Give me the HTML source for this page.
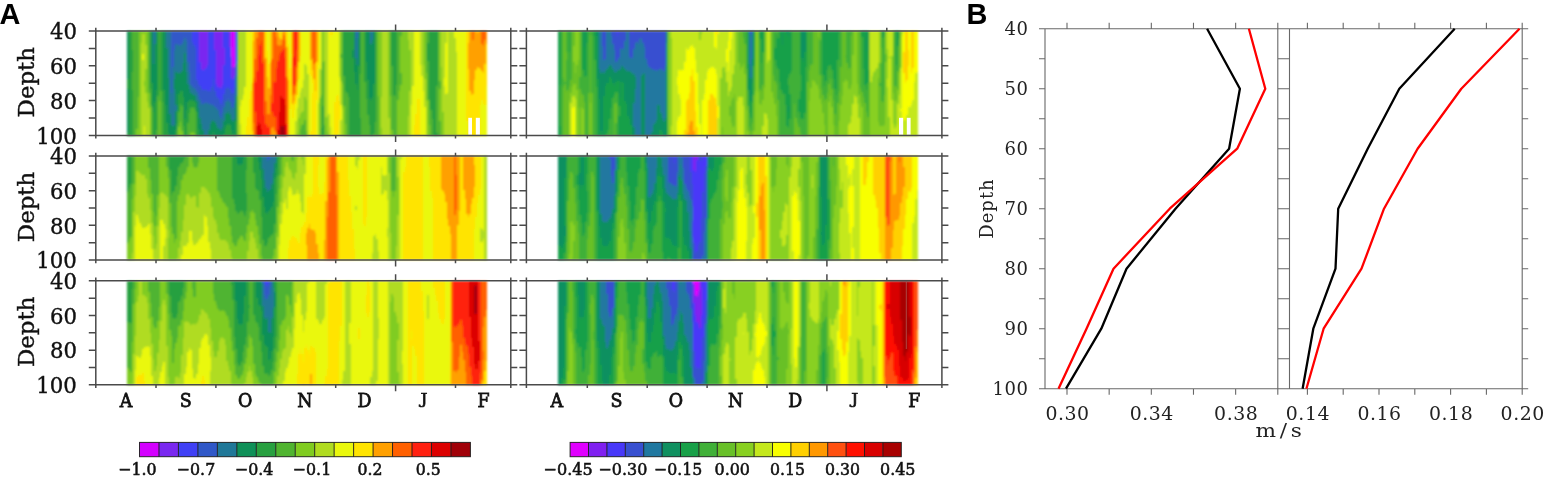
<!DOCTYPE html>
<html lang="en"><head><meta charset="utf-8"><title>Figure</title>
<style>html,body{margin:0;padding:0;background:#fff}svg{display:block}</style></head>
<body>
<svg width="1547" height="481" viewBox="0 0 1547 481">
<defs><filter id="bl" x="-2%" y="-5%" width="104%" height="110%"><feGaussianBlur stdDeviation="1.1"/></filter></defs>
<rect width="1547" height="481" fill="#fff"/>
<g filter="url(#bl)" shape-rendering="crispEdges">
<path fill="#d400ff" d="M230.5 31.05h1.8v26.39h-1.8zM232 31.05h1.8v36.42h-1.8zM233.5 31.05h1.8v36.42h-1.8z"/>
<path fill="#7a28f0" d="M199 31.05h1.8v31.4h-1.8zM200.5 31.05h1.8v38.43h-1.8zM202 31.05h1.8v39.43h-1.8zM203.5 31.05h1.8v39.43h-1.8zM205 31.05h1.8v37.42h-1.8zM206.5 31.05h1.8v34.41h-1.8zM214 31.05h1.8v19.36h-1.8zM215.5 31.05h1.8v53.48h-1.8zM217 31.05h1.8v56.49h-1.8zM218.5 31.05h1.8v56.49h-1.8zM220 31.05h1.8v57.49h-1.8zM221.5 31.05h1.8v54.48h-1.8zM223 48.11h1.8v17.36h-1.8zM229 31.05h1.8v16.35h-1.8zM230.5 57.14h1.8v21.37h-1.8zM232 67.17h1.8v12.34h-1.8zM233.5 67.17h1.8v9.33h-1.8z"/>
<path fill="#4040f5" d="M191.5 31.05h1.8v11.34h-1.8zM193 31.05h1.8v14.35h-1.8zM194.5 31.05h1.8v17.36h-1.8zM196 31.05h1.8v49.46h-1.8zM197.5 31.05h1.8v53.48h-1.8zM199 62.15h1.8v24.38h-1.8zM200.5 69.18h1.8v20.37h-1.8zM202 70.18h1.8v20.37h-1.8zM203.5 70.18h1.8v20.37h-1.8zM205 68.17h1.8v22.37h-1.8zM206.5 65.16h1.8v26.39h-1.8zM208 31.05h1.8v60.5h-1.8zM209.5 31.05h1.8v60.5h-1.8zM211 31.05h1.8v56.49h-1.8zM212.5 31.05h1.8v48.46h-1.8zM214 50.11h1.8v41.44h-1.8zM215.5 84.23h1.8v12.34h-1.8zM217 87.24h1.8v11.34h-1.8zM218.5 87.24h1.8v13.34h-1.8zM220 88.24h1.8v16.35h-1.8zM221.5 85.23h1.8v15.35h-1.8zM223 31.05h1.8v17.36h-1.8zM223 65.16h1.8v29.4h-1.8zM224.5 31.05h1.8v58.5h-1.8zM226 31.05h1.8v57.49h-1.8zM227.5 31.05h1.8v56.49h-1.8zM229 47.1h1.8v42.44h-1.8zM230.5 78.21h1.8v15.35h-1.8zM232 79.21h1.8v14.35h-1.8zM233.5 76.2h1.8v12.34h-1.8zM235 31.05h1.8v33.41h-1.8z"/>
<path fill="#3058c8" d="M170.5 31.05h1.8v62.51h-1.8zM172 31.05h1.8v36.42h-1.8zM173.5 31.05h1.8v19.36h-1.8zM175 31.05h1.8v13.34h-1.8zM176.5 31.05h1.8v14.35h-1.8zM178 31.05h1.8v14.35h-1.8zM179.5 31.05h1.8v15.35h-1.8zM181 31.05h1.8v13.34h-1.8zM182.5 31.05h1.8v10.33h-1.8zM184 31.05h1.8v7.32h-1.8zM185.5 31.05h1.8v10.33h-1.8zM187 31.05h1.8v31.4h-1.8zM188.5 31.05h1.8v41.44h-1.8zM190 31.05h1.8v54.48h-1.8zM191.5 42.09h1.8v45.45h-1.8zM193 45.1h1.8v43.44h-1.8zM194.5 48.11h1.8v41.44h-1.8zM196 80.21h1.8v12.34h-1.8zM197.5 84.23h1.8v12.34h-1.8zM199 86.24h1.8v14.35h-1.8zM200.5 89.25h1.8v15.35h-1.8zM202 90.25h1.8v14.35h-1.8zM203.5 90.25h1.8v13.34h-1.8zM205 90.25h1.8v13.34h-1.8zM206.5 91.25h1.8v12.34h-1.8zM208 91.25h1.8v13.34h-1.8zM209.5 91.25h1.8v13.34h-1.8zM211 87.24h1.8v18.36h-1.8zM212.5 79.21h1.8v26.39h-1.8zM214 91.25h1.8v16.35h-1.8zM215.5 96.27h1.8v12.34h-1.8zM217 98.28h1.8v12.34h-1.8zM218.5 100.28h1.8v15.35h-1.8zM220 104.3h1.8v14.35h-1.8zM221.5 100.28h1.8v13.34h-1.8zM223 94.26h1.8v13.34h-1.8zM224.5 89.25h1.8v13.34h-1.8zM226 88.24h1.8v13.34h-1.8zM227.5 87.24h1.8v12.34h-1.8zM229 89.25h1.8v13.34h-1.8zM230.5 93.26h1.8v14.35h-1.8zM232 93.26h1.8v15.35h-1.8zM233.5 88.24h1.8v15.35h-1.8zM235 64.16h1.8v12.34h-1.8zM356.5 31.05h1.8v7.32h-1.8z"/>
<path fill="#207898" d="M152.5 31.05h1.8v33.41h-1.8zM154 31.05h1.8v13.34h-1.8zM166 31.05h1.8v17.36h-1.8zM167.5 31.05h1.8v47.46h-1.8zM169 31.05h1.8v83.58h-1.8zM170.5 93.26h1.8v32.41h-1.8zM172 67.17h1.8v59.5h-1.8zM173.5 50.11h1.8v29.4h-1.8zM173.5 88.24h1.8v37.42h-1.8zM175 44.09h1.8v28.39h-1.8zM175 104.3h1.8v7.32h-1.8zM176.5 45.1h1.8v28.39h-1.8zM178 45.1h1.8v28.39h-1.8zM179.5 46.1h1.8v27.39h-1.8zM181 44.09h1.8v27.39h-1.8zM182.5 41.08h1.8v22.37h-1.8zM184 38.07h1.8v15.35h-1.8zM185.5 41.08h1.8v31.4h-1.8zM187 62.15h1.8v22.37h-1.8zM188.5 72.19h1.8v17.36h-1.8zM190 85.23h1.8v8.33h-1.8zM191.5 87.24h1.8v7.32h-1.8zM193 88.24h1.8v7.32h-1.8zM194.5 89.25h1.8v7.32h-1.8zM196 92.26h1.8v9.33h-1.8zM197.5 96.27h1.8v12.34h-1.8zM199 100.28h1.8v18.36h-1.8zM200.5 104.3h1.8v20.37h-1.8zM202 104.3h1.8v26.39h-1.8zM203.5 103.29h1.8v32.41h-1.8zM205 103.29h1.8v32.41h-1.8zM206.5 103.29h1.8v32.41h-1.8zM208 104.3h1.8v26.39h-1.8zM209.5 104.3h1.8v20.37h-1.8zM211 105.3h1.8v16.35h-1.8zM212.5 105.3h1.8v15.35h-1.8zM214 107.31h1.8v15.35h-1.8zM215.5 108.31h1.8v17.36h-1.8zM217 110.32h1.8v18.36h-1.8zM218.5 115.33h1.8v14.35h-1.8zM220 118.34h1.8v12.34h-1.8zM221.5 113.33h1.8v14.35h-1.8zM223 107.31h1.8v14.35h-1.8zM224.5 102.29h1.8v12.34h-1.8zM226 101.29h1.8v12.34h-1.8zM227.5 99.28h1.8v12.34h-1.8zM229 102.29h1.8v12.34h-1.8zM230.5 107.31h1.8v12.34h-1.8zM232 108.31h1.8v13.34h-1.8zM233.5 103.29h1.8v16.35h-1.8zM235 76.2h1.8v20.37h-1.8zM355 31.05h1.8v27.39h-1.8zM356.5 38.07h1.8v27.39h-1.8zM370 31.05h1.8v13.34h-1.8zM371.5 31.05h1.8v9.33h-1.8z"/>
<path fill="#0f9058" d="M127 31.05h1.8v48.46h-1.8zM127 88.24h1.8v45.45h-1.8zM151 31.05h1.8v52.48h-1.8zM152.5 64.16h1.8v48.46h-1.8zM154 44.09h1.8v58.5h-1.8zM155.5 31.05h1.8v59.5h-1.8zM163 31.05h1.8v59.5h-1.8zM164.5 31.05h1.8v74.55h-1.8zM166 48.11h1.8v75.55h-1.8zM167.5 78.21h1.8v55.49h-1.8zM169 114.33h1.8v21.37h-1.8zM170.5 125.37h1.8v10.33h-1.8zM172 126.37h1.8v9.33h-1.8zM173.5 79.21h1.8v9.33h-1.8zM173.5 125.37h1.8v10.33h-1.8zM175 72.19h1.8v32.41h-1.8zM175 111.32h1.8v19.36h-1.8zM176.5 73.19h1.8v37.42h-1.8zM178 73.19h1.8v21.37h-1.8zM179.5 73.19h1.8v18.36h-1.8zM181 71.18h1.8v20.37h-1.8zM182.5 63.16h1.8v34.41h-1.8zM184 53.12h1.8v66.52h-1.8zM185.5 72.19h1.8v38.43h-1.8zM187 84.23h1.8v18.36h-1.8zM188.5 89.25h1.8v11.34h-1.8zM190 93.26h1.8v7.32h-1.8zM191.5 94.26h1.8v7.32h-1.8zM193 95.27h1.8v6.32h-1.8zM194.5 96.27h1.8v7.32h-1.8zM196 101.29h1.8v11.34h-1.8zM197.5 108.31h1.8v21.37h-1.8zM199 118.34h1.8v17.36h-1.8zM200.5 124.36h1.8v11.34h-1.8zM202 130.38h1.8v5.32h-1.8zM208 130.38h1.8v5.32h-1.8zM209.5 124.36h1.8v11.34h-1.8zM211 121.35h1.8v14.35h-1.8zM212.5 120.35h1.8v12.34h-1.8zM214 122.36h1.8v13.34h-1.8zM215.5 125.37h1.8v10.33h-1.8zM217 128.38h1.8v7.32h-1.8zM218.5 129.38h1.8v6.32h-1.8zM220 130.38h1.8v5.32h-1.8zM221.5 127.37h1.8v8.33h-1.8zM223 121.35h1.8v13.34h-1.8zM224.5 114.33h1.8v14.35h-1.8zM226 113.33h1.8v12.34h-1.8zM227.5 111.32h1.8v13.34h-1.8zM229 114.33h1.8v11.34h-1.8zM230.5 119.35h1.8v11.34h-1.8zM232 121.35h1.8v13.34h-1.8zM233.5 119.35h1.8v16.35h-1.8zM235 96.27h1.8v25.38h-1.8zM352 50.11h1.8v8.33h-1.8zM353.5 31.05h1.8v41.44h-1.8zM355 58.14h1.8v26.39h-1.8zM356.5 65.16h1.8v25.38h-1.8zM358 31.05h1.8v35.42h-1.8zM365.5 31.05h1.8v31.4h-1.8zM367 31.05h1.8v49.46h-1.8zM368.5 31.05h1.8v67.53h-1.8zM370 44.09h1.8v56.49h-1.8zM371.5 40.08h1.8v57.49h-1.8zM373 31.05h1.8v53.48h-1.8z"/>
<path fill="#28a040" d="M127 79.21h1.8v9.33h-1.8zM127 133.39h1.8v2.31h-1.8zM128.5 31.05h1.8v104.65h-1.8zM130 31.05h1.8v104.65h-1.8zM131.5 50.11h1.8v22.37h-1.8zM131.5 89.25h1.8v46.45h-1.8zM149.5 31.05h1.8v58.5h-1.8zM151 83.23h1.8v24.38h-1.8zM152.5 112.32h1.8v23.38h-1.8zM154 102.29h1.8v33.41h-1.8zM155.5 90.25h1.8v40.43h-1.8zM157 31.05h1.8v65.52h-1.8zM160 31.05h1.8v60.5h-1.8zM161.5 31.05h1.8v71.54h-1.8zM163 90.25h1.8v45.45h-1.8zM164.5 105.3h1.8v30.4h-1.8zM166 123.36h1.8v12.34h-1.8zM167.5 133.39h1.8v2.31h-1.8zM175 130.38h1.8v5.32h-1.8zM176.5 110.32h1.8v14.35h-1.8zM178 94.26h1.8v18.36h-1.8zM179.5 91.25h1.8v13.34h-1.8zM181 91.25h1.8v15.35h-1.8zM182.5 97.27h1.8v29.4h-1.8zM184 119.35h1.8v16.35h-1.8zM185.5 110.32h1.8v25.38h-1.8zM187 102.29h1.8v21.37h-1.8zM188.5 100.28h1.8v13.34h-1.8zM190 100.28h1.8v8.33h-1.8zM191.5 101.29h1.8v6.32h-1.8zM193 101.29h1.8v7.32h-1.8zM194.5 103.29h1.8v8.33h-1.8zM196 112.32h1.8v23.38h-1.8zM197.5 129.38h1.8v6.32h-1.8zM212.5 132.39h1.8v3.31h-1.8zM223 134.4h1.8v1.3h-1.8zM224.5 128.38h1.8v7.32h-1.8zM226 125.37h1.8v10.33h-1.8zM227.5 124.36h1.8v11.34h-1.8zM229 125.37h1.8v10.33h-1.8zM230.5 130.38h1.8v5.32h-1.8zM232 134.4h1.8v1.3h-1.8zM235 121.35h1.8v14.35h-1.8zM236.5 31.05h1.8v30.4h-1.8zM320.5 127.37h1.8v8.33h-1.8zM322 105.3h1.8v30.4h-1.8zM343 31.05h1.8v45.45h-1.8zM344.5 31.05h1.8v60.5h-1.8zM346 31.05h1.8v62.51h-1.8zM347.5 31.05h1.8v66.52h-1.8zM349 31.05h1.8v104.65h-1.8zM350.5 31.05h1.8v104.65h-1.8zM352 31.05h1.8v19.36h-1.8zM352 58.14h1.8v77.56h-1.8zM353.5 72.19h1.8v63.51h-1.8zM355 84.23h1.8v51.47h-1.8zM356.5 90.25h1.8v45.45h-1.8zM358 66.17h1.8v69.53h-1.8zM359.5 31.05h1.8v43.44h-1.8zM359.5 117.34h1.8v18.36h-1.8zM364 31.05h1.8v51.47h-1.8zM365.5 62.15h1.8v37.42h-1.8zM367 80.21h1.8v35.42h-1.8zM368.5 98.28h1.8v27.39h-1.8zM370 100.28h1.8v35.42h-1.8zM371.5 97.27h1.8v38.43h-1.8zM373 84.23h1.8v50.47h-1.8zM374.5 31.05h1.8v91.61h-1.8zM391 31.05h1.8v35.42h-1.8zM392.5 31.05h1.8v64.52h-1.8zM394 31.05h1.8v65.52h-1.8zM395.5 31.05h1.8v54.48h-1.8zM427 43.09h1.8v18.36h-1.8zM428.5 31.05h1.8v69.53h-1.8zM430 31.05h1.8v79.57h-1.8zM431.5 31.05h1.8v88.6h-1.8zM433 31.05h1.8v104.65h-1.8zM434.5 31.05h1.8v104.65h-1.8zM436 31.05h1.8v55.49h-1.8zM436 132.39h1.8v3.31h-1.8z"/>
<path fill="#50b430" d="M131.5 31.05h1.8v19.36h-1.8zM131.5 72.19h1.8v17.36h-1.8zM133 31.05h1.8v104.65h-1.8zM134.5 31.05h1.8v104.65h-1.8zM136 31.05h1.8v98.63h-1.8zM137.5 31.05h1.8v66.52h-1.8zM139 31.05h1.8v1.3h-1.8zM148 31.05h1.8v62.51h-1.8zM149.5 89.25h1.8v16.35h-1.8zM151 107.31h1.8v28.39h-1.8zM155.5 130.38h1.8v5.32h-1.8zM157 96.27h1.8v39.43h-1.8zM158.5 31.05h1.8v70.54h-1.8zM160 91.25h1.8v44.45h-1.8zM161.5 102.29h1.8v33.41h-1.8zM176.5 124.36h1.8v11.34h-1.8zM178 112.32h1.8v15.35h-1.8zM179.5 104.3h1.8v18.36h-1.8zM181 106.3h1.8v25.38h-1.8zM182.5 126.37h1.8v9.33h-1.8zM187 123.36h1.8v12.34h-1.8zM188.5 113.33h1.8v22.37h-1.8zM190 108.31h1.8v25.38h-1.8zM191.5 107.31h1.8v25.38h-1.8zM193 108.31h1.8v25.38h-1.8zM194.5 111.32h1.8v24.38h-1.8zM236.5 61.15h1.8v74.55h-1.8zM299.5 128.38h1.8v7.32h-1.8zM301 124.36h1.8v11.34h-1.8zM302.5 123.36h1.8v12.34h-1.8zM304 119.35h1.8v16.35h-1.8zM305.5 130.38h1.8v5.32h-1.8zM320.5 94.26h1.8v33.41h-1.8zM322 62.15h1.8v43.44h-1.8zM323.5 124.36h1.8v11.34h-1.8zM326.5 130.38h1.8v5.32h-1.8zM340 54.13h1.8v4.31h-1.8zM341.5 31.05h1.8v53.48h-1.8zM343 76.2h1.8v30.4h-1.8zM344.5 91.25h1.8v33.41h-1.8zM346 93.26h1.8v42.44h-1.8zM347.5 97.27h1.8v38.43h-1.8zM359.5 74.19h1.8v43.44h-1.8zM361 31.05h1.8v104.65h-1.8zM362.5 31.05h1.8v104.65h-1.8zM364 82.22h1.8v53.48h-1.8zM365.5 99.28h1.8v36.42h-1.8zM367 115.33h1.8v20.37h-1.8zM368.5 125.37h1.8v10.33h-1.8zM373 134.4h1.8v1.3h-1.8zM374.5 122.36h1.8v13.34h-1.8zM376 31.05h1.8v104.65h-1.8zM377.5 95.27h1.8v40.43h-1.8zM389.5 31.05h1.8v65.52h-1.8zM391 66.17h1.8v64.52h-1.8zM392.5 95.27h1.8v40.43h-1.8zM394 96.27h1.8v39.43h-1.8zM395.5 85.23h1.8v50.47h-1.8zM397 31.05h1.8v69.53h-1.8zM398.5 31.05h1.8v60.5h-1.8zM400 31.05h1.8v5.32h-1.8zM400 73.19h1.8v12.34h-1.8zM425.5 31.05h1.8v42.44h-1.8zM427 31.05h1.8v12.34h-1.8zM427 61.15h1.8v39.43h-1.8zM428.5 100.28h1.8v25.38h-1.8zM430 110.32h1.8v25.38h-1.8zM431.5 119.35h1.8v16.35h-1.8zM436 86.24h1.8v46.45h-1.8zM437.5 31.05h1.8v104.65h-1.8zM439 80.21h1.8v9.33h-1.8zM439 120.35h1.8v15.35h-1.8z"/>
<path fill="#80cc20" d="M136 129.38h1.8v6.32h-1.8zM137.5 97.27h1.8v38.43h-1.8zM139 32.05h1.8v103.65h-1.8zM140.5 31.05h1.8v12.34h-1.8zM142 31.05h1.8v3.31h-1.8zM143.5 31.05h1.8v3.31h-1.8zM143.5 80.21h1.8v6.32h-1.8zM145 31.05h1.8v14.35h-1.8zM145 69.18h1.8v24.38h-1.8zM146.5 31.05h1.8v71.54h-1.8zM148 93.26h1.8v15.35h-1.8zM149.5 105.3h1.8v30.4h-1.8zM158.5 101.29h1.8v34.41h-1.8zM178 127.37h1.8v8.33h-1.8zM179.5 122.36h1.8v13.34h-1.8zM181 131.39h1.8v4.31h-1.8zM190 133.39h1.8v2.31h-1.8zM191.5 132.39h1.8v3.31h-1.8zM193 133.39h1.8v2.31h-1.8zM296.5 132.39h1.8v3.31h-1.8zM298 117.34h1.8v18.36h-1.8zM299.5 113.33h1.8v15.35h-1.8zM301 111.32h1.8v13.34h-1.8zM302.5 110.32h1.8v13.34h-1.8zM304 96.27h1.8v23.38h-1.8zM305.5 99.28h1.8v31.4h-1.8zM319 97.27h1.8v38.43h-1.8zM320.5 70.18h1.8v24.38h-1.8zM322 31.05h1.8v31.4h-1.8zM323.5 61.15h1.8v63.51h-1.8zM325 116.34h1.8v19.36h-1.8zM326.5 116.34h1.8v14.35h-1.8zM328 134.4h1.8v1.3h-1.8zM340 31.05h1.8v23.38h-1.8zM340 58.14h1.8v23.38h-1.8zM341.5 84.23h1.8v25.38h-1.8zM343 106.3h1.8v29.4h-1.8zM344.5 124.36h1.8v11.34h-1.8zM377.5 31.05h1.8v64.52h-1.8zM379 31.05h1.8v104.65h-1.8zM380.5 31.05h1.8v66.52h-1.8zM380.5 127.37h1.8v8.33h-1.8zM388 31.05h1.8v87.59h-1.8zM389.5 96.27h1.8v39.43h-1.8zM391 130.38h1.8v5.32h-1.8zM397 100.28h1.8v35.42h-1.8zM398.5 91.25h1.8v44.45h-1.8zM400 36.07h1.8v37.42h-1.8zM400 85.23h1.8v50.47h-1.8zM401.5 31.05h1.8v104.65h-1.8zM403 31.05h1.8v104.65h-1.8zM404.5 31.05h1.8v104.65h-1.8zM406 31.05h1.8v104.65h-1.8zM407.5 40.08h1.8v76.56h-1.8zM409 50.11h1.8v41.44h-1.8zM422.5 31.05h1.8v34.41h-1.8zM424 31.05h1.8v48.46h-1.8zM425.5 73.19h1.8v28.39h-1.8zM427 100.28h1.8v35.42h-1.8zM428.5 125.37h1.8v10.33h-1.8zM439 31.05h1.8v49.46h-1.8zM439 89.25h1.8v31.4h-1.8zM440.5 67.17h1.8v68.53h-1.8zM442 111.32h1.8v24.38h-1.8z"/>
<path fill="#b0dc20" d="M140.5 43.09h1.8v92.61h-1.8zM142 34.06h1.8v20.37h-1.8zM142 60.15h1.8v75.55h-1.8zM143.5 34.06h1.8v46.45h-1.8zM143.5 86.24h1.8v40.43h-1.8zM145 45.1h1.8v24.38h-1.8zM145 93.26h1.8v42.44h-1.8zM146.5 102.29h1.8v33.41h-1.8zM148 108.31h1.8v27.39h-1.8zM238 31.05h1.8v104.65h-1.8zM239.5 31.05h1.8v75.55h-1.8zM239.5 123.36h1.8v12.34h-1.8zM241 31.05h1.8v69.53h-1.8zM242.5 31.05h1.8v64.52h-1.8zM244 31.05h1.8v56.49h-1.8zM293.5 134.4h1.8v1.3h-1.8zM295 120.35h1.8v15.35h-1.8zM296.5 107.31h1.8v25.38h-1.8zM298 97.27h1.8v20.37h-1.8zM299.5 91.25h1.8v22.37h-1.8zM301 87.24h1.8v24.38h-1.8zM302.5 79.21h1.8v31.4h-1.8zM304 64.16h1.8v32.41h-1.8zM305.5 66.17h1.8v33.41h-1.8zM307 74.19h1.8v61.51h-1.8zM317.5 102.29h1.8v33.41h-1.8zM319 69.18h1.8v28.39h-1.8zM320.5 31.05h1.8v39.43h-1.8zM323.5 31.05h1.8v30.4h-1.8zM325 31.05h1.8v85.59h-1.8zM326.5 31.05h1.8v85.59h-1.8zM328 113.33h1.8v21.37h-1.8zM329.5 126.37h1.8v9.33h-1.8zM338.5 31.05h1.8v46.45h-1.8zM340 81.22h1.8v24.38h-1.8zM340 119.35h1.8v16.35h-1.8zM341.5 109.31h1.8v26.39h-1.8zM380.5 97.27h1.8v30.4h-1.8zM382 31.05h1.8v104.65h-1.8zM383.5 31.05h1.8v104.65h-1.8zM385 31.05h1.8v104.65h-1.8zM386.5 31.05h1.8v104.65h-1.8zM388 118.34h1.8v17.36h-1.8zM407.5 31.05h1.8v9.33h-1.8zM407.5 116.34h1.8v19.36h-1.8zM409 31.05h1.8v19.36h-1.8zM409 91.25h1.8v44.45h-1.8zM410.5 31.05h1.8v74.55h-1.8zM412 31.05h1.8v55.49h-1.8zM419.5 31.05h1.8v34.41h-1.8zM421 31.05h1.8v45.45h-1.8zM422.5 65.16h1.8v26.39h-1.8zM424 79.21h1.8v28.39h-1.8zM425.5 101.29h1.8v34.41h-1.8zM440.5 31.05h1.8v36.42h-1.8zM442 31.05h1.8v80.57h-1.8zM443.5 31.05h1.8v47.46h-1.8zM443.5 85.23h1.8v50.47h-1.8zM445 31.05h1.8v12.34h-1.8zM445 93.26h1.8v42.44h-1.8zM446.5 92.26h1.8v43.44h-1.8zM448 31.05h1.8v104.65h-1.8zM449.5 31.05h1.8v104.65h-1.8zM451 31.05h1.8v104.65h-1.8zM452.5 31.05h1.8v104.65h-1.8zM454 38.07h1.8v97.63h-1.8zM455.5 52.12h1.8v83.58h-1.8z"/>
<path fill="#eaf80c" d="M142 54.13h1.8v6.32h-1.8zM143.5 126.37h1.8v9.33h-1.8zM239.5 106.3h1.8v17.36h-1.8zM241 100.28h1.8v35.42h-1.8zM242.5 95.27h1.8v40.43h-1.8zM244 87.24h1.8v48.46h-1.8zM245.5 31.05h1.8v95.62h-1.8zM247 31.05h1.8v86.59h-1.8zM248.5 32.05h1.8v67.53h-1.8zM250 33.06h1.8v58.5h-1.8zM266.5 31.05h1.8v20.37h-1.8zM268 31.05h1.8v33.41h-1.8zM280 31.05h1.8v1.3h-1.8zM287.5 31.05h1.8v13.34h-1.8zM289 31.05h1.8v37.42h-1.8zM289 108.31h1.8v27.39h-1.8zM290.5 54.13h1.8v3.31h-1.8zM290.5 102.29h1.8v33.41h-1.8zM292 117.34h1.8v18.36h-1.8zM293.5 109.31h1.8v25.38h-1.8zM295 103.29h1.8v17.36h-1.8zM296.5 94.26h1.8v13.34h-1.8zM298 78.21h1.8v19.36h-1.8zM299.5 56.13h1.8v35.42h-1.8zM301 31.05h1.8v56.49h-1.8zM302.5 31.05h1.8v48.46h-1.8zM304 31.05h1.8v33.41h-1.8zM305.5 31.05h1.8v35.42h-1.8zM307 31.05h1.8v43.44h-1.8zM308.5 31.05h1.8v104.65h-1.8zM310 75.2h1.8v56.49h-1.8zM311.5 82.22h1.8v11.34h-1.8zM316 99.28h1.8v36.42h-1.8zM317.5 65.16h1.8v37.42h-1.8zM319 31.05h1.8v38.43h-1.8zM328 31.05h1.8v82.58h-1.8zM329.5 37.07h1.8v89.6h-1.8zM331 35.06h1.8v100.64h-1.8zM332.5 31.05h1.8v104.65h-1.8zM334 31.05h1.8v71.54h-1.8zM335.5 31.05h1.8v65.52h-1.8zM337 31.05h1.8v64.52h-1.8zM337 133.39h1.8v2.31h-1.8zM338.5 77.2h1.8v24.38h-1.8zM338.5 118.34h1.8v17.36h-1.8zM340 105.3h1.8v14.35h-1.8zM410.5 105.3h1.8v30.4h-1.8zM412 86.24h1.8v49.46h-1.8zM413.5 31.05h1.8v94.62h-1.8zM415 31.05h1.8v83.58h-1.8zM416.5 31.05h1.8v68.53h-1.8zM418 31.05h1.8v68.53h-1.8zM419.5 65.16h1.8v70.54h-1.8zM421 76.2h1.8v59.5h-1.8zM422.5 91.25h1.8v44.45h-1.8zM424 107.31h1.8v28.39h-1.8zM443.5 78.21h1.8v7.32h-1.8zM445 43.09h1.8v50.47h-1.8zM446.5 31.05h1.8v61.51h-1.8zM454 31.05h1.8v7.32h-1.8zM455.5 31.05h1.8v21.37h-1.8zM457 31.05h1.8v104.65h-1.8zM458.5 31.05h1.8v104.65h-1.8zM460 31.05h1.8v104.65h-1.8zM461.5 31.05h1.8v104.65h-1.8zM463 31.05h1.8v104.65h-1.8zM464.5 31.05h1.8v104.65h-1.8zM466 120.35h1.8v15.35h-1.8zM479.5 104.3h1.8v31.4h-1.8zM481 99.28h1.8v36.42h-1.8zM482.5 103.29h1.8v32.41h-1.8zM484 104.3h1.8v31.4h-1.8zM485.5 85.23h1.8v50.47h-1.8z"/>
<path fill="#ffe400" d="M245.5 126.37h1.8v9.33h-1.8zM247 117.34h1.8v18.36h-1.8zM248.5 31.05h1.8v1.3h-1.8zM248.5 99.28h1.8v36.42h-1.8zM250 31.05h1.8v2.31h-1.8zM250 91.25h1.8v44.45h-1.8zM251.5 31.05h1.8v52.48h-1.8zM251.5 130.38h1.8v5.32h-1.8zM253 31.05h1.8v10.33h-1.8zM265 31.05h1.8v27.39h-1.8zM266.5 51.12h1.8v26.39h-1.8zM268 64.16h1.8v24.38h-1.8zM269.5 31.05h1.8v31.4h-1.8zM277 31.05h1.8v1.3h-1.8zM278.5 31.05h1.8v6.32h-1.8zM280 32.05h1.8v7.32h-1.8zM286 31.05h1.8v16.35h-1.8zM287.5 44.09h1.8v36.42h-1.8zM289 68.17h1.8v40.43h-1.8zM290.5 31.05h1.8v23.38h-1.8zM290.5 57.14h1.8v45.45h-1.8zM292 103.29h1.8v14.35h-1.8zM293.5 100.28h1.8v9.33h-1.8zM295 94.26h1.8v9.33h-1.8zM296.5 81.22h1.8v13.34h-1.8zM298 62.15h1.8v16.35h-1.8zM299.5 31.05h1.8v25.38h-1.8zM310 60.15h1.8v15.35h-1.8zM310 131.39h1.8v4.31h-1.8zM311.5 70.18h1.8v12.34h-1.8zM311.5 93.26h1.8v42.44h-1.8zM313 78.21h1.8v57.49h-1.8zM314.5 90.25h1.8v45.45h-1.8zM316 62.15h1.8v37.42h-1.8zM317.5 31.05h1.8v34.41h-1.8zM329.5 31.05h1.8v6.32h-1.8zM331 31.05h1.8v4.31h-1.8zM334 102.29h1.8v33.41h-1.8zM335.5 96.27h1.8v39.43h-1.8zM337 95.27h1.8v38.43h-1.8zM338.5 101.29h1.8v17.36h-1.8zM413.5 125.37h1.8v10.33h-1.8zM415 114.33h1.8v21.37h-1.8zM416.5 99.28h1.8v36.42h-1.8zM418 99.28h1.8v36.42h-1.8zM466 31.05h1.8v89.6h-1.8zM467.5 31.05h1.8v12.34h-1.8zM467.5 69.18h1.8v66.52h-1.8zM469 90.25h1.8v45.45h-1.8zM470.5 94.26h1.8v41.44h-1.8zM472 93.26h1.8v42.44h-1.8zM473.5 79.21h1.8v56.49h-1.8zM475 70.18h1.8v65.52h-1.8zM476.5 31.05h1.8v2.31h-1.8zM476.5 67.17h1.8v68.53h-1.8zM478 68.17h1.8v67.53h-1.8zM479.5 69.18h1.8v35.42h-1.8zM481 71.18h1.8v28.39h-1.8zM482.5 73.19h1.8v30.4h-1.8zM484 64.16h1.8v40.43h-1.8zM485.5 44.09h1.8v41.44h-1.8z"/>
<path fill="#ffa000" d="M251.5 83.23h1.8v47.46h-1.8zM253 41.08h1.8v37.42h-1.8zM253 122.36h1.8v13.34h-1.8zM254.5 31.05h1.8v28.39h-1.8zM256 31.05h1.8v7.32h-1.8zM263.5 31.05h1.8v29.4h-1.8zM265 58.14h1.8v43.44h-1.8zM266.5 77.2h1.8v37.42h-1.8zM268 88.24h1.8v26.39h-1.8zM269.5 62.15h1.8v33.41h-1.8zM271 31.05h1.8v28.39h-1.8zM271 127.37h1.8v8.33h-1.8zM272.5 126.37h1.8v9.33h-1.8zM274 130.38h1.8v5.32h-1.8zM275.5 31.05h1.8v6.32h-1.8zM277 32.05h1.8v13.34h-1.8zM278.5 37.07h1.8v9.33h-1.8zM280 39.08h1.8v6.32h-1.8zM281.5 31.05h1.8v9.33h-1.8zM283 31.05h1.8v4.31h-1.8zM284.5 31.05h1.8v9.33h-1.8zM286 47.1h1.8v30.4h-1.8zM287.5 80.21h1.8v55.49h-1.8zM292 94.26h1.8v9.33h-1.8zM293.5 92.26h1.8v8.33h-1.8zM295 85.23h1.8v9.33h-1.8zM296.5 68.17h1.8v13.34h-1.8zM298 31.05h1.8v31.4h-1.8zM310 31.05h1.8v29.4h-1.8zM311.5 58.14h1.8v12.34h-1.8zM313 64.16h1.8v14.35h-1.8zM314.5 63.16h1.8v27.39h-1.8zM316 31.05h1.8v31.4h-1.8zM467.5 43.09h1.8v26.39h-1.8zM469 31.05h1.8v59.5h-1.8zM470.5 31.05h1.8v63.51h-1.8zM472 40.08h1.8v53.48h-1.8zM473.5 31.05h1.8v48.46h-1.8zM475 31.05h1.8v39.43h-1.8zM476.5 33.06h1.8v34.41h-1.8zM478 31.05h1.8v37.42h-1.8zM479.5 31.05h1.8v38.43h-1.8zM481 44.09h1.8v27.39h-1.8zM482.5 46.1h1.8v27.39h-1.8zM484 40.08h1.8v24.38h-1.8zM485.5 31.05h1.8v13.34h-1.8z"/>
<path fill="#ff6000" d="M253 78.21h1.8v44.45h-1.8zM254.5 59.14h1.8v23.38h-1.8zM254.5 111.32h1.8v24.38h-1.8zM256 38.07h1.8v33.41h-1.8zM257.5 31.05h1.8v24.38h-1.8zM259 31.05h1.8v14.35h-1.8zM260.5 31.05h1.8v10.33h-1.8zM262 31.05h1.8v32.41h-1.8zM263.5 60.15h1.8v55.49h-1.8zM265 101.29h1.8v23.38h-1.8zM266.5 114.33h1.8v13.34h-1.8zM268 114.33h1.8v13.34h-1.8zM269.5 95.27h1.8v40.43h-1.8zM271 59.14h1.8v44.45h-1.8zM271 111.32h1.8v16.35h-1.8zM272.5 31.05h1.8v51.47h-1.8zM272.5 115.33h1.8v11.34h-1.8zM274 31.05h1.8v51.47h-1.8zM274 116.34h1.8v14.35h-1.8zM275.5 37.07h1.8v31.4h-1.8zM275.5 132.39h1.8v3.31h-1.8zM277 45.1h1.8v16.35h-1.8zM278.5 46.1h1.8v9.33h-1.8zM280 45.1h1.8v7.32h-1.8zM281.5 40.08h1.8v10.33h-1.8zM283 35.06h1.8v14.35h-1.8zM284.5 40.08h1.8v18.36h-1.8zM286 77.2h1.8v47.46h-1.8zM292 31.05h1.8v26.39h-1.8zM292 84.23h1.8v10.33h-1.8zM293.5 84.23h1.8v8.33h-1.8zM295 66.17h1.8v19.36h-1.8zM296.5 50.11h1.8v18.36h-1.8zM311.5 31.05h1.8v27.39h-1.8zM313 31.05h1.8v33.41h-1.8zM314.5 31.05h1.8v32.41h-1.8zM472 31.05h1.8v9.33h-1.8zM481 31.05h1.8v13.34h-1.8zM482.5 31.05h1.8v15.35h-1.8zM484 31.05h1.8v9.33h-1.8z"/>
<path fill="#ff2010" d="M254.5 82.22h1.8v29.4h-1.8zM256 71.18h1.8v55.49h-1.8zM257.5 55.13h1.8v67.53h-1.8zM259 45.1h1.8v79.57h-1.8zM260.5 41.08h1.8v88.6h-1.8zM262 63.16h1.8v72.54h-1.8zM263.5 115.33h1.8v20.37h-1.8zM265 124.36h1.8v11.34h-1.8zM266.5 127.37h1.8v8.33h-1.8zM268 127.37h1.8v8.33h-1.8zM271 103.29h1.8v8.33h-1.8zM272.5 82.22h1.8v33.41h-1.8zM274 82.22h1.8v34.41h-1.8zM275.5 68.17h1.8v64.52h-1.8zM277 61.15h1.8v69.53h-1.8zM278.5 55.13h1.8v57.49h-1.8zM280 52.12h1.8v44.45h-1.8zM281.5 50.11h1.8v48.46h-1.8zM283 49.11h1.8v50.47h-1.8zM284.5 58.14h1.8v47.46h-1.8zM286 124.36h1.8v11.34h-1.8zM292 57.14h1.8v27.39h-1.8zM293.5 31.05h1.8v53.48h-1.8zM295 31.05h1.8v35.42h-1.8zM296.5 31.05h1.8v19.36h-1.8z"/>
<path fill="#dc0000" d="M256 126.37h1.8v9.33h-1.8zM257.5 122.36h1.8v13.34h-1.8zM259 124.36h1.8v11.34h-1.8zM260.5 129.38h1.8v6.32h-1.8zM277 130.38h1.8v5.32h-1.8zM278.5 112.32h1.8v23.38h-1.8zM280 96.27h1.8v30.4h-1.8zM281.5 98.28h1.8v28.39h-1.8zM283 99.28h1.8v27.39h-1.8zM284.5 105.3h1.8v29.4h-1.8z"/>
<path fill="#a00008" d="M280 126.37h1.8v9.33h-1.8zM281.5 126.37h1.8v9.33h-1.8zM283 126.37h1.8v9.33h-1.8zM284.5 134.4h1.8v1.3h-1.8z"/>
</g>
<g filter="url(#bl)" shape-rendering="crispEdges">
<path fill="#4838f8" d="M616.5 31.05h1.8v5.32h-1.8zM631.5 31.05h1.8v3.31h-1.8z"/>
<path fill="#3850d0" d="M601.5 31.05h1.8v15.35h-1.8zM603 31.05h1.8v29.4h-1.8zM604.5 31.05h1.8v28.39h-1.8zM610.5 31.05h1.8v5.32h-1.8zM612 31.05h1.8v13.34h-1.8zM613.5 31.05h1.8v19.36h-1.8zM615 31.05h1.8v31.4h-1.8zM616.5 36.07h1.8v25.38h-1.8zM618 31.05h1.8v27.39h-1.8zM619.5 31.05h1.8v17.36h-1.8zM621 31.05h1.8v18.36h-1.8zM622.5 31.05h1.8v18.36h-1.8zM624 31.05h1.8v10.33h-1.8zM628.5 31.05h1.8v26.39h-1.8zM630 31.05h1.8v27.39h-1.8zM631.5 34.06h1.8v24.38h-1.8zM633 31.05h1.8v18.36h-1.8zM634.5 31.05h1.8v12.34h-1.8zM636 31.05h1.8v11.34h-1.8zM637.5 31.05h1.8v13.34h-1.8zM639 31.05h1.8v8.33h-1.8zM640.5 31.05h1.8v7.32h-1.8zM642 31.05h1.8v12.34h-1.8zM643.5 31.05h1.8v16.35h-1.8zM645 31.05h1.8v28.39h-1.8zM646.5 31.05h1.8v33.41h-1.8zM648 31.05h1.8v36.42h-1.8zM649.5 31.05h1.8v37.42h-1.8zM651 31.05h1.8v38.43h-1.8zM652.5 31.05h1.8v39.43h-1.8zM654 31.05h1.8v39.43h-1.8zM655.5 31.05h1.8v40.43h-1.8zM657 31.05h1.8v39.43h-1.8zM658.5 31.05h1.8v38.43h-1.8zM660 31.05h1.8v38.43h-1.8zM661.5 31.05h1.8v39.43h-1.8zM663 31.05h1.8v40.43h-1.8zM664.5 31.05h1.8v35.42h-1.8zM750 31.05h1.8v3.31h-1.8z"/>
<path fill="#2078a0" d="M598.5 31.05h1.8v38.43h-1.8zM600 31.05h1.8v42.44h-1.8zM601.5 46.1h1.8v25.38h-1.8zM603 60.15h1.8v13.34h-1.8zM604.5 59.14h1.8v12.34h-1.8zM606 31.05h1.8v38.43h-1.8zM607.5 31.05h1.8v36.42h-1.8zM609 31.05h1.8v34.41h-1.8zM610.5 36.07h1.8v30.4h-1.8zM612 44.09h1.8v25.38h-1.8zM613.5 50.11h1.8v22.37h-1.8zM615 62.15h1.8v10.33h-1.8zM616.5 61.15h1.8v9.33h-1.8zM618 58.14h1.8v12.34h-1.8zM619.5 48.11h1.8v21.37h-1.8zM621 49.11h1.8v17.36h-1.8zM622.5 49.11h1.8v18.36h-1.8zM624 41.08h1.8v28.39h-1.8zM625.5 31.05h1.8v40.43h-1.8zM627 31.05h1.8v40.43h-1.8zM628.5 57.14h1.8v14.35h-1.8zM630 58.14h1.8v14.35h-1.8zM631.5 58.14h1.8v16.35h-1.8zM633 49.11h1.8v25.38h-1.8zM633 102.29h1.8v25.38h-1.8zM634.5 43.09h1.8v34.41h-1.8zM634.5 88.24h1.8v47.46h-1.8zM636 42.09h1.8v93.61h-1.8zM637.5 44.09h1.8v91.61h-1.8zM639 39.08h1.8v96.62h-1.8zM640.5 38.07h1.8v38.43h-1.8zM642 43.09h1.8v31.4h-1.8zM643.5 47.1h1.8v26.39h-1.8zM645 59.14h1.8v76.56h-1.8zM646.5 64.16h1.8v71.54h-1.8zM648 67.17h1.8v68.53h-1.8zM649.5 68.17h1.8v67.53h-1.8zM651 69.18h1.8v63.51h-1.8zM652.5 70.18h1.8v55.49h-1.8zM654 70.18h1.8v53.48h-1.8zM655.5 71.18h1.8v49.46h-1.8zM657 70.18h1.8v35.42h-1.8zM658.5 69.18h1.8v36.42h-1.8zM660 69.18h1.8v44.45h-1.8zM661.5 70.18h1.8v48.46h-1.8zM663 71.18h1.8v50.47h-1.8zM664.5 66.17h1.8v52.47h-1.8zM748.5 31.05h1.8v33.41h-1.8zM750 34.06h1.8v44.45h-1.8zM751.5 31.05h1.8v28.39h-1.8z"/>
<path fill="#109060" d="M583.5 31.05h1.8v16.35h-1.8zM595.5 31.05h1.8v5.32h-1.8zM597 31.05h1.8v48.46h-1.8zM598.5 69.18h1.8v30.4h-1.8zM600 73.19h1.8v58.5h-1.8zM601.5 71.18h1.8v64.52h-1.8zM603 73.19h1.8v23.38h-1.8zM604.5 71.18h1.8v15.35h-1.8zM606 69.18h1.8v14.35h-1.8zM607.5 67.17h1.8v16.35h-1.8zM609 65.16h1.8v12.34h-1.8zM610.5 66.17h1.8v13.34h-1.8zM612 69.18h1.8v14.35h-1.8zM613.5 72.19h1.8v14.35h-1.8zM615 72.19h1.8v10.33h-1.8zM616.5 70.18h1.8v10.33h-1.8zM618 70.18h1.8v11.34h-1.8zM619.5 69.18h1.8v29.4h-1.8zM621 66.17h1.8v16.35h-1.8zM622.5 67.17h1.8v16.35h-1.8zM624 69.18h1.8v32.41h-1.8zM625.5 71.18h1.8v33.41h-1.8zM627 71.18h1.8v45.45h-1.8zM628.5 71.18h1.8v48.46h-1.8zM630 72.19h1.8v53.48h-1.8zM631.5 74.19h1.8v61.51h-1.8zM633 74.19h1.8v28.39h-1.8zM633 127.37h1.8v8.33h-1.8zM634.5 77.2h1.8v11.34h-1.8zM640.5 76.2h1.8v59.5h-1.8zM642 74.19h1.8v61.51h-1.8zM643.5 73.19h1.8v62.51h-1.8zM651 132.39h1.8v3.31h-1.8zM652.5 125.37h1.8v10.33h-1.8zM654 123.36h1.8v12.34h-1.8zM655.5 120.35h1.8v15.35h-1.8zM657 105.3h1.8v30.4h-1.8zM658.5 105.3h1.8v25.38h-1.8zM660 113.33h1.8v17.36h-1.8zM661.5 118.34h1.8v14.35h-1.8zM663 121.35h1.8v14.35h-1.8zM664.5 118.34h1.8v17.36h-1.8zM666 31.05h1.8v12.34h-1.8zM748.5 64.16h1.8v31.4h-1.8zM750 78.21h1.8v23.38h-1.8zM751.5 59.14h1.8v24.38h-1.8zM781.5 31.05h1.8v14.35h-1.8zM786 31.05h1.8v2.31h-1.8zM787.5 31.05h1.8v6.32h-1.8zM787.5 105.3h1.8v7.32h-1.8zM801 31.05h1.8v27.39h-1.8zM802.5 31.05h1.8v31.4h-1.8zM804 31.05h1.8v21.37h-1.8zM865.5 31.05h1.8v20.37h-1.8z"/>
<path fill="#18a048" d="M558 31.05h1.8v104.65h-1.8zM559.5 31.05h1.8v54.48h-1.8zM559.5 125.37h1.8v10.33h-1.8zM568.5 31.05h1.8v21.37h-1.8zM582 31.05h1.8v39.43h-1.8zM583.5 47.1h1.8v30.4h-1.8zM585 31.05h1.8v45.45h-1.8zM586.5 31.05h1.8v12.34h-1.8zM592.5 31.05h1.8v5.32h-1.8zM594 31.05h1.8v29.4h-1.8zM595.5 36.07h1.8v51.47h-1.8zM597 79.21h1.8v56.49h-1.8zM598.5 99.28h1.8v36.42h-1.8zM600 131.39h1.8v4.31h-1.8zM603 96.27h1.8v39.43h-1.8zM604.5 86.24h1.8v49.46h-1.8zM606 83.23h1.8v51.47h-1.8zM607.5 83.23h1.8v47.46h-1.8zM609 77.2h1.8v42.44h-1.8zM610.5 79.21h1.8v29.4h-1.8zM612 83.23h1.8v15.35h-1.8zM613.5 86.24h1.8v9.33h-1.8zM615 82.22h1.8v10.33h-1.8zM616.5 80.21h1.8v13.34h-1.8zM618 81.22h1.8v25.38h-1.8zM618 115.33h1.8v20.37h-1.8zM619.5 98.28h1.8v37.42h-1.8zM621 82.22h1.8v53.48h-1.8zM622.5 83.23h1.8v52.47h-1.8zM624 101.29h1.8v34.41h-1.8zM625.5 104.3h1.8v31.4h-1.8zM627 116.34h1.8v19.36h-1.8zM628.5 119.35h1.8v16.35h-1.8zM630 125.37h1.8v10.33h-1.8zM658.5 130.38h1.8v5.32h-1.8zM660 130.38h1.8v5.32h-1.8zM661.5 132.39h1.8v3.31h-1.8zM666 43.09h1.8v92.61h-1.8zM747 31.05h1.8v59.5h-1.8zM748.5 95.27h1.8v18.36h-1.8zM750 101.29h1.8v17.36h-1.8zM751.5 83.23h1.8v20.37h-1.8zM753 31.05h1.8v35.42h-1.8zM759 31.05h1.8v8.33h-1.8zM760.5 31.05h1.8v32.41h-1.8zM762 31.05h1.8v21.37h-1.8zM774 48.11h1.8v12.34h-1.8zM775.5 34.06h1.8v32.41h-1.8zM777 38.07h1.8v31.4h-1.8zM778.5 31.05h1.8v51.47h-1.8zM780 31.05h1.8v59.5h-1.8zM781.5 45.1h1.8v49.46h-1.8zM783 31.05h1.8v63.51h-1.8zM784.5 31.05h1.8v74.55h-1.8zM786 33.06h1.8v93.61h-1.8zM787.5 37.07h1.8v41.44h-1.8zM787.5 84.23h1.8v21.37h-1.8zM787.5 112.32h1.8v16.35h-1.8zM789 31.05h1.8v43.44h-1.8zM789 93.26h1.8v26.39h-1.8zM790.5 31.05h1.8v40.43h-1.8zM798 98.28h1.8v14.35h-1.8zM799.5 31.05h1.8v44.45h-1.8zM799.5 90.25h1.8v28.39h-1.8zM801 58.14h1.8v61.51h-1.8zM802.5 62.15h1.8v57.49h-1.8zM804 52.12h1.8v61.51h-1.8zM805.5 31.05h1.8v36.42h-1.8zM822 31.05h1.8v44.45h-1.8zM823.5 31.05h1.8v55.49h-1.8zM825 31.05h1.8v50.47h-1.8zM826.5 31.05h1.8v39.43h-1.8zM828 31.05h1.8v35.42h-1.8zM829.5 31.05h1.8v34.41h-1.8zM831 31.05h1.8v39.43h-1.8zM832.5 31.05h1.8v48.46h-1.8zM834 31.05h1.8v58.5h-1.8zM835.5 31.05h1.8v64.52h-1.8zM837 31.05h1.8v29.4h-1.8zM838.5 31.05h1.8v2.31h-1.8zM861 31.05h1.8v6.32h-1.8zM862.5 31.05h1.8v38.43h-1.8zM864 31.05h1.8v54.48h-1.8zM865.5 51.12h1.8v39.43h-1.8zM867 31.05h1.8v52.48h-1.8zM882 31.05h1.8v7.32h-1.8zM883.5 31.05h1.8v5.32h-1.8zM895.5 31.05h1.8v34.41h-1.8zM897 31.05h1.8v15.35h-1.8z"/>
<path fill="#40b038" d="M559.5 85.23h1.8v40.43h-1.8zM561 31.05h1.8v104.65h-1.8zM562.5 77.2h1.8v10.33h-1.8zM564 81.22h1.8v3.31h-1.8zM565.5 31.05h1.8v21.37h-1.8zM565.5 60.15h1.8v31.4h-1.8zM567 31.05h1.8v59.5h-1.8zM568.5 52.12h1.8v34.41h-1.8zM570 31.05h1.8v49.46h-1.8zM579 76.2h1.8v13.34h-1.8zM580.5 31.05h1.8v62.51h-1.8zM582 70.18h1.8v25.38h-1.8zM583.5 77.2h1.8v25.38h-1.8zM585 76.2h1.8v59.5h-1.8zM586.5 43.09h1.8v92.61h-1.8zM588 31.05h1.8v62.51h-1.8zM589.5 31.05h1.8v4.31h-1.8zM591 31.05h1.8v62.51h-1.8zM592.5 36.07h1.8v99.63h-1.8zM594 60.15h1.8v75.55h-1.8zM595.5 87.24h1.8v48.46h-1.8zM606 134.4h1.8v1.3h-1.8zM607.5 130.38h1.8v5.32h-1.8zM609 119.35h1.8v16.35h-1.8zM610.5 108.31h1.8v27.39h-1.8zM612 98.28h1.8v37.42h-1.8zM613.5 95.27h1.8v9.33h-1.8zM615 92.26h1.8v11.34h-1.8zM615 122.36h1.8v13.34h-1.8zM616.5 93.26h1.8v42.44h-1.8zM618 106.3h1.8v9.33h-1.8zM741 31.05h1.8v1.3h-1.8zM742.5 31.05h1.8v7.32h-1.8zM744 31.05h1.8v13.34h-1.8zM745.5 31.05h1.8v38.43h-1.8zM747 90.25h1.8v16.35h-1.8zM748.5 113.33h1.8v14.35h-1.8zM750 118.34h1.8v13.34h-1.8zM751.5 103.29h1.8v20.37h-1.8zM753 66.17h1.8v29.4h-1.8zM759 39.08h1.8v50.47h-1.8zM760.5 63.16h1.8v28.39h-1.8zM762 52.12h1.8v33.41h-1.8zM763.5 31.05h1.8v22.37h-1.8zM772.5 31.05h1.8v44.45h-1.8zM774 31.05h1.8v17.36h-1.8zM774 60.15h1.8v21.37h-1.8zM775.5 31.05h1.8v3.31h-1.8zM775.5 66.17h1.8v18.36h-1.8zM777 31.05h1.8v7.32h-1.8zM777 69.18h1.8v31.4h-1.8zM778.5 82.22h1.8v53.48h-1.8zM780 90.25h1.8v45.45h-1.8zM781.5 94.26h1.8v41.44h-1.8zM783 94.26h1.8v41.44h-1.8zM784.5 105.3h1.8v30.4h-1.8zM786 126.37h1.8v9.33h-1.8zM787.5 78.21h1.8v6.32h-1.8zM787.5 128.38h1.8v7.32h-1.8zM789 74.19h1.8v19.36h-1.8zM789 119.35h1.8v16.35h-1.8zM790.5 71.18h1.8v64.52h-1.8zM792 31.05h1.8v104.65h-1.8zM793.5 31.05h1.8v73.55h-1.8zM795 31.05h1.8v87.59h-1.8zM796.5 31.05h1.8v92.61h-1.8zM798 31.05h1.8v67.53h-1.8zM798 112.32h1.8v15.35h-1.8zM799.5 75.2h1.8v15.35h-1.8zM799.5 118.34h1.8v15.35h-1.8zM801 119.35h1.8v16.35h-1.8zM802.5 119.35h1.8v16.35h-1.8zM804 113.33h1.8v22.37h-1.8zM805.5 67.17h1.8v68.53h-1.8zM807 31.05h1.8v51.47h-1.8zM808.5 31.05h1.8v39.43h-1.8zM810 31.05h1.8v34.41h-1.8zM811.5 31.05h1.8v33.41h-1.8zM819 40.08h1.8v35.42h-1.8zM820.5 31.05h1.8v58.5h-1.8zM822 75.2h1.8v20.37h-1.8zM823.5 86.24h1.8v15.35h-1.8zM825 81.22h1.8v18.36h-1.8zM826.5 70.18h1.8v23.38h-1.8zM828 66.17h1.8v18.36h-1.8zM829.5 65.16h1.8v14.35h-1.8zM831 70.18h1.8v19.36h-1.8zM832.5 79.21h1.8v21.37h-1.8zM834 89.25h1.8v25.38h-1.8zM835.5 95.27h1.8v31.4h-1.8zM837 60.15h1.8v43.44h-1.8zM838.5 33.06h1.8v59.5h-1.8zM840 31.05h1.8v36.42h-1.8zM844.5 56.13h1.8v1.3h-1.8zM846 31.05h1.8v32.41h-1.8zM847.5 31.05h1.8v38.43h-1.8zM849 31.05h1.8v37.42h-1.8zM850.5 31.05h1.8v4.31h-1.8zM859.5 31.05h1.8v57.49h-1.8zM861 37.07h1.8v55.49h-1.8zM862.5 69.18h1.8v28.39h-1.8zM864 85.23h1.8v18.36h-1.8zM865.5 90.25h1.8v22.37h-1.8zM867 83.23h1.8v34.41h-1.8zM879 82.22h1.8v4.31h-1.8zM880.5 31.05h1.8v17.36h-1.8zM880.5 63.16h1.8v38.43h-1.8zM882 38.07h1.8v64.52h-1.8zM883.5 36.07h1.8v59.5h-1.8zM894 31.05h1.8v55.49h-1.8zM895.5 65.16h1.8v22.37h-1.8zM897 46.1h1.8v25.38h-1.8zM898.5 31.05h1.8v8.33h-1.8z"/>
<path fill="#68c028" d="M562.5 31.05h1.8v46.45h-1.8zM562.5 87.24h1.8v48.46h-1.8zM564 31.05h1.8v50.47h-1.8zM564 84.23h1.8v51.47h-1.8zM565.5 52.12h1.8v8.33h-1.8zM565.5 91.25h1.8v44.45h-1.8zM567 90.25h1.8v45.45h-1.8zM568.5 86.24h1.8v14.35h-1.8zM570 80.21h1.8v13.34h-1.8zM571.5 31.05h1.8v56.49h-1.8zM573 31.05h1.8v15.35h-1.8zM573 62.15h1.8v22.37h-1.8zM574.5 73.19h1.8v11.34h-1.8zM576 65.16h1.8v25.38h-1.8zM577.5 60.15h1.8v48.46h-1.8zM579 31.05h1.8v45.45h-1.8zM579 89.25h1.8v46.45h-1.8zM580.5 93.26h1.8v14.35h-1.8zM582 95.27h1.8v14.35h-1.8zM583.5 102.29h1.8v33.41h-1.8zM588 93.26h1.8v42.44h-1.8zM589.5 35.06h1.8v68.53h-1.8zM591 93.26h1.8v42.44h-1.8zM613.5 104.3h1.8v31.4h-1.8zM615 103.29h1.8v19.36h-1.8zM721.5 126.37h1.8v9.33h-1.8zM729 105.3h1.8v11.34h-1.8zM730.5 100.28h1.8v23.38h-1.8zM732 97.27h1.8v30.4h-1.8zM733.5 93.26h1.8v33.41h-1.8zM738 31.05h1.8v32.41h-1.8zM739.5 31.05h1.8v39.43h-1.8zM741 32.05h1.8v35.42h-1.8zM742.5 38.07h1.8v26.39h-1.8zM744 44.09h1.8v30.4h-1.8zM745.5 69.18h1.8v41.44h-1.8zM747 106.3h1.8v25.38h-1.8zM748.5 127.37h1.8v8.33h-1.8zM750 131.39h1.8v4.31h-1.8zM751.5 123.36h1.8v12.34h-1.8zM753 95.27h1.8v36.42h-1.8zM754.5 31.05h1.8v60.5h-1.8zM757.5 31.05h1.8v61.51h-1.8zM759 89.25h1.8v15.35h-1.8zM760.5 91.25h1.8v14.35h-1.8zM762 85.23h1.8v15.35h-1.8zM763.5 53.12h1.8v35.42h-1.8zM771 31.05h1.8v61.51h-1.8zM772.5 75.2h1.8v23.38h-1.8zM774 81.22h1.8v23.38h-1.8zM775.5 84.23h1.8v32.41h-1.8zM777 100.28h1.8v35.42h-1.8zM793.5 104.3h1.8v31.4h-1.8zM795 118.34h1.8v17.36h-1.8zM796.5 123.36h1.8v12.34h-1.8zM798 127.37h1.8v8.33h-1.8zM799.5 133.39h1.8v2.31h-1.8zM807 82.22h1.8v53.48h-1.8zM808.5 70.18h1.8v31.4h-1.8zM810 65.16h1.8v23.38h-1.8zM811.5 64.16h1.8v16.35h-1.8zM813 31.05h1.8v50.47h-1.8zM814.5 31.05h1.8v52.48h-1.8zM816 31.05h1.8v54.48h-1.8zM817.5 37.07h1.8v52.48h-1.8zM819 31.05h1.8v9.33h-1.8zM819 75.2h1.8v24.38h-1.8zM820.5 89.25h1.8v15.35h-1.8zM822 95.27h1.8v18.36h-1.8zM823.5 101.29h1.8v24.38h-1.8zM825 99.28h1.8v36.42h-1.8zM826.5 93.26h1.8v42.44h-1.8zM828 84.23h1.8v18.36h-1.8zM829.5 79.21h1.8v17.36h-1.8zM831 89.25h1.8v18.36h-1.8zM832.5 100.28h1.8v25.38h-1.8zM834 114.33h1.8v21.37h-1.8zM835.5 126.37h1.8v9.33h-1.8zM837 103.29h1.8v32.41h-1.8zM838.5 92.26h1.8v29.4h-1.8zM840 67.17h1.8v38.43h-1.8zM841.5 31.05h1.8v65.52h-1.8zM843 31.05h1.8v51.47h-1.8zM844.5 31.05h1.8v25.38h-1.8zM844.5 57.14h1.8v22.37h-1.8zM846 63.16h1.8v18.36h-1.8zM847.5 69.18h1.8v20.37h-1.8zM849 68.17h1.8v21.37h-1.8zM850.5 35.06h1.8v50.47h-1.8zM852 31.05h1.8v24.38h-1.8zM856.5 31.05h1.8v53.48h-1.8zM858 31.05h1.8v64.52h-1.8zM859.5 88.24h1.8v15.35h-1.8zM861 92.26h1.8v15.35h-1.8zM862.5 97.27h1.8v38.43h-1.8zM864 103.29h1.8v32.41h-1.8zM865.5 112.32h1.8v23.38h-1.8zM867 117.34h1.8v18.36h-1.8zM868.5 70.18h1.8v65.52h-1.8zM877.5 77.2h1.8v45.45h-1.8zM879 63.16h1.8v19.36h-1.8zM879 86.24h1.8v40.43h-1.8zM880.5 48.11h1.8v15.35h-1.8zM880.5 101.29h1.8v25.38h-1.8zM882 102.29h1.8v24.38h-1.8zM883.5 95.27h1.8v30.4h-1.8zM885 54.13h1.8v8.33h-1.8zM892.5 31.05h1.8v62.51h-1.8zM894 86.24h1.8v15.35h-1.8zM895.5 87.24h1.8v13.34h-1.8zM897 71.18h1.8v19.36h-1.8zM898.5 39.08h1.8v34.41h-1.8z"/>
<path fill="#88d020" d="M568.5 100.28h1.8v35.42h-1.8zM570 93.26h1.8v10.33h-1.8zM571.5 87.24h1.8v10.33h-1.8zM573 46.1h1.8v16.35h-1.8zM573 84.23h1.8v12.34h-1.8zM574.5 31.05h1.8v42.44h-1.8zM574.5 84.23h1.8v15.35h-1.8zM576 31.05h1.8v34.41h-1.8zM576 90.25h1.8v45.45h-1.8zM577.5 31.05h1.8v29.4h-1.8zM577.5 108.31h1.8v27.39h-1.8zM580.5 107.31h1.8v28.39h-1.8zM582 109.31h1.8v26.39h-1.8zM589.5 103.29h1.8v32.41h-1.8zM667.5 31.05h1.8v104.65h-1.8zM669 31.05h1.8v104.65h-1.8zM670.5 38.07h1.8v88.6h-1.8zM699 31.05h1.8v9.33h-1.8zM700.5 31.05h1.8v3.31h-1.8zM720 77.2h1.8v58.5h-1.8zM721.5 68.17h1.8v58.5h-1.8zM723 67.17h1.8v68.53h-1.8zM724.5 72.19h1.8v63.51h-1.8zM726 81.22h1.8v54.48h-1.8zM727.5 95.27h1.8v40.43h-1.8zM729 90.25h1.8v15.35h-1.8zM729 116.34h1.8v19.36h-1.8zM730.5 86.24h1.8v14.35h-1.8zM730.5 123.36h1.8v12.34h-1.8zM732 74.19h1.8v23.38h-1.8zM732 127.37h1.8v8.33h-1.8zM733.5 65.16h1.8v28.39h-1.8zM733.5 126.37h1.8v9.33h-1.8zM735 31.05h1.8v104.65h-1.8zM736.5 31.05h1.8v70.54h-1.8zM738 63.16h1.8v34.41h-1.8zM739.5 70.18h1.8v27.39h-1.8zM741 67.17h1.8v30.4h-1.8zM742.5 64.16h1.8v42.44h-1.8zM744 74.19h1.8v61.51h-1.8zM745.5 110.32h1.8v25.38h-1.8zM747 131.39h1.8v4.31h-1.8zM753 131.39h1.8v4.31h-1.8zM754.5 91.25h1.8v44.45h-1.8zM756 31.05h1.8v104.65h-1.8zM757.5 92.26h1.8v43.44h-1.8zM759 104.3h1.8v31.4h-1.8zM760.5 105.3h1.8v30.4h-1.8zM762 100.28h1.8v26.39h-1.8zM763.5 88.24h1.8v25.38h-1.8zM765 31.05h1.8v83.58h-1.8zM766.5 63.16h1.8v56.49h-1.8zM768 60.15h1.8v75.55h-1.8zM769.5 31.05h1.8v104.65h-1.8zM771 92.26h1.8v43.44h-1.8zM772.5 98.28h1.8v37.42h-1.8zM774 104.3h1.8v31.4h-1.8zM775.5 116.34h1.8v19.36h-1.8zM808.5 101.29h1.8v34.41h-1.8zM810 88.24h1.8v47.46h-1.8zM811.5 80.21h1.8v55.49h-1.8zM813 81.22h1.8v54.48h-1.8zM814.5 83.23h1.8v52.47h-1.8zM816 85.23h1.8v50.47h-1.8zM817.5 31.05h1.8v6.32h-1.8zM817.5 89.25h1.8v46.45h-1.8zM819 99.28h1.8v36.42h-1.8zM820.5 104.3h1.8v31.4h-1.8zM822 113.33h1.8v22.37h-1.8zM823.5 125.37h1.8v10.33h-1.8zM828 102.29h1.8v33.41h-1.8zM829.5 96.27h1.8v39.43h-1.8zM831 107.31h1.8v28.39h-1.8zM832.5 125.37h1.8v10.33h-1.8zM838.5 121.35h1.8v14.35h-1.8zM840 105.3h1.8v30.4h-1.8zM841.5 96.27h1.8v39.43h-1.8zM843 82.22h1.8v53.48h-1.8zM844.5 79.21h1.8v56.49h-1.8zM846 81.22h1.8v54.48h-1.8zM847.5 89.25h1.8v36.42h-1.8zM849 89.25h1.8v34.41h-1.8zM850.5 85.23h1.8v31.4h-1.8zM852 55.13h1.8v49.46h-1.8zM853.5 31.05h1.8v64.52h-1.8zM855 31.05h1.8v66.52h-1.8zM856.5 84.23h1.8v20.37h-1.8zM858 95.27h1.8v23.38h-1.8zM859.5 103.29h1.8v32.41h-1.8zM861 107.31h1.8v28.39h-1.8zM868.5 31.05h1.8v39.43h-1.8zM870 81.22h1.8v54.48h-1.8zM871.5 75.2h1.8v60.5h-1.8zM873 72.19h1.8v63.51h-1.8zM874.5 70.18h1.8v65.52h-1.8zM876 68.17h1.8v67.53h-1.8zM877.5 63.16h1.8v14.35h-1.8zM877.5 122.36h1.8v13.34h-1.8zM879 31.05h1.8v32.41h-1.8zM879 126.37h1.8v9.33h-1.8zM880.5 126.37h1.8v9.33h-1.8zM882 126.37h1.8v9.33h-1.8zM883.5 125.37h1.8v10.33h-1.8zM885 31.05h1.8v23.38h-1.8zM885 62.15h1.8v73.55h-1.8zM886.5 49.11h1.8v30.4h-1.8zM886.5 86.24h1.8v49.46h-1.8zM888 57.14h1.8v1.3h-1.8zM888 116.34h1.8v19.36h-1.8zM889.5 57.14h1.8v1.3h-1.8zM891 56.13h1.8v44.45h-1.8zM892.5 93.26h1.8v31.4h-1.8zM894 101.29h1.8v27.39h-1.8zM895.5 100.28h1.8v25.38h-1.8zM897 90.25h1.8v14.35h-1.8zM898.5 73.19h1.8v22.37h-1.8zM900 31.05h1.8v37.42h-1.8z"/>
<path fill="#c4e81c" d="M570 103.29h1.8v32.41h-1.8zM571.5 97.27h1.8v11.34h-1.8zM573 96.27h1.8v11.34h-1.8zM574.5 99.28h1.8v36.42h-1.8zM670.5 31.05h1.8v7.32h-1.8zM670.5 126.37h1.8v9.33h-1.8zM672 31.05h1.8v104.65h-1.8zM673.5 31.05h1.8v104.65h-1.8zM675 31.05h1.8v104.65h-1.8zM676.5 31.05h1.8v46.45h-1.8zM676.5 84.23h1.8v37.42h-1.8zM678 31.05h1.8v39.43h-1.8zM678 93.26h1.8v24.38h-1.8zM679.5 31.05h1.8v40.43h-1.8zM679.5 98.28h1.8v17.36h-1.8zM681 31.05h1.8v39.43h-1.8zM682.5 31.05h1.8v39.43h-1.8zM684 31.05h1.8v31.4h-1.8zM685.5 31.05h1.8v17.36h-1.8zM687 31.05h1.8v19.36h-1.8zM688.5 31.05h1.8v17.36h-1.8zM690 31.05h1.8v15.35h-1.8zM691.5 31.05h1.8v14.35h-1.8zM693 31.05h1.8v17.36h-1.8zM694.5 31.05h1.8v29.4h-1.8zM696 31.05h1.8v42.44h-1.8zM697.5 31.05h1.8v73.55h-1.8zM699 40.08h1.8v84.58h-1.8zM700.5 34.06h1.8v101.64h-1.8zM702 31.05h1.8v69.53h-1.8zM703.5 31.05h1.8v63.51h-1.8zM705 31.05h1.8v49.46h-1.8zM706.5 31.05h1.8v41.44h-1.8zM708 31.05h1.8v38.43h-1.8zM709.5 31.05h1.8v37.42h-1.8zM711 31.05h1.8v36.42h-1.8zM712.5 31.05h1.8v36.42h-1.8zM714 47.1h1.8v22.37h-1.8zM715.5 49.11h1.8v25.38h-1.8zM717 34.06h1.8v72.54h-1.8zM717 117.34h1.8v18.36h-1.8zM718.5 31.05h1.8v104.65h-1.8zM720 31.05h1.8v46.45h-1.8zM721.5 31.05h1.8v37.42h-1.8zM723 31.05h1.8v36.42h-1.8zM724.5 31.05h1.8v41.44h-1.8zM726 31.05h1.8v18.36h-1.8zM726 62.15h1.8v19.36h-1.8zM727.5 31.05h1.8v10.33h-1.8zM727.5 71.18h1.8v24.38h-1.8zM729 50.11h1.8v40.43h-1.8zM730.5 38.07h1.8v48.46h-1.8zM732 31.05h1.8v43.44h-1.8zM733.5 31.05h1.8v34.41h-1.8zM736.5 101.29h1.8v34.41h-1.8zM738 97.27h1.8v38.43h-1.8zM739.5 97.27h1.8v38.43h-1.8zM741 97.27h1.8v38.43h-1.8zM742.5 106.3h1.8v29.4h-1.8zM762 126.37h1.8v9.33h-1.8zM763.5 113.33h1.8v22.37h-1.8zM765 114.33h1.8v21.37h-1.8zM766.5 31.05h1.8v32.41h-1.8zM766.5 119.35h1.8v16.35h-1.8zM768 31.05h1.8v29.4h-1.8zM847.5 125.37h1.8v10.33h-1.8zM849 123.36h1.8v12.34h-1.8zM850.5 116.34h1.8v19.36h-1.8zM852 104.3h1.8v31.4h-1.8zM853.5 95.27h1.8v40.43h-1.8zM855 97.27h1.8v38.43h-1.8zM856.5 104.3h1.8v31.4h-1.8zM858 118.34h1.8v17.36h-1.8zM870 31.05h1.8v50.47h-1.8zM871.5 31.05h1.8v44.45h-1.8zM873 31.05h1.8v41.44h-1.8zM874.5 31.05h1.8v39.43h-1.8zM876 31.05h1.8v37.42h-1.8zM877.5 31.05h1.8v32.41h-1.8zM886.5 31.05h1.8v18.36h-1.8zM886.5 79.21h1.8v7.32h-1.8zM888 31.05h1.8v26.39h-1.8zM888 58.14h1.8v58.5h-1.8zM889.5 31.05h1.8v26.39h-1.8zM889.5 58.14h1.8v77.56h-1.8zM891 31.05h1.8v25.38h-1.8zM891 100.28h1.8v35.42h-1.8zM892.5 124.36h1.8v11.34h-1.8zM894 128.38h1.8v7.32h-1.8zM895.5 125.37h1.8v10.33h-1.8zM897 104.3h1.8v31.4h-1.8zM898.5 95.27h1.8v40.43h-1.8zM900 68.17h1.8v41.44h-1.8zM900 110.32h1.8v25.38h-1.8zM901.5 31.05h1.8v4.31h-1.8zM901.5 119.35h1.8v16.35h-1.8zM903 31.05h1.8v1.3h-1.8zM903 119.35h1.8v16.35h-1.8zM904.5 119.35h1.8v16.35h-1.8zM906 114.33h1.8v21.37h-1.8zM907.5 106.3h1.8v29.4h-1.8zM909 106.3h1.8v29.4h-1.8zM910.5 103.29h1.8v32.41h-1.8zM912 99.28h1.8v36.42h-1.8zM913.5 81.22h1.8v54.48h-1.8zM915 73.19h1.8v62.51h-1.8zM916.5 72.19h1.8v63.51h-1.8z"/>
<path fill="#f8ff00" d="M571.5 108.31h1.8v27.39h-1.8zM573 107.31h1.8v28.39h-1.8zM676.5 77.2h1.8v7.32h-1.8zM676.5 121.35h1.8v14.35h-1.8zM678 70.18h1.8v23.38h-1.8zM678 117.34h1.8v18.36h-1.8zM679.5 71.18h1.8v27.39h-1.8zM679.5 115.33h1.8v20.37h-1.8zM681 70.18h1.8v65.52h-1.8zM682.5 70.18h1.8v65.52h-1.8zM684 62.15h1.8v68.53h-1.8zM685.5 48.11h1.8v53.48h-1.8zM687 50.11h1.8v49.46h-1.8zM688.5 48.11h1.8v45.45h-1.8zM690 46.1h1.8v30.4h-1.8zM691.5 45.1h1.8v24.38h-1.8zM693 48.11h1.8v33.41h-1.8zM694.5 60.15h1.8v51.47h-1.8zM696 73.19h1.8v54.48h-1.8zM697.5 104.3h1.8v31.4h-1.8zM699 124.36h1.8v11.34h-1.8zM702 100.28h1.8v35.42h-1.8zM703.5 94.26h1.8v41.44h-1.8zM705 80.21h1.8v55.49h-1.8zM706.5 72.19h1.8v63.51h-1.8zM708 69.18h1.8v31.4h-1.8zM709.5 68.17h1.8v26.39h-1.8zM711 67.17h1.8v27.39h-1.8zM712.5 67.17h1.8v29.4h-1.8zM714 31.05h1.8v16.35h-1.8zM714 69.18h1.8v29.4h-1.8zM715.5 35.06h1.8v14.35h-1.8zM715.5 74.19h1.8v31.4h-1.8zM717 31.05h1.8v3.31h-1.8zM717 106.3h1.8v11.34h-1.8zM726 49.11h1.8v13.34h-1.8zM727.5 41.08h1.8v30.4h-1.8zM729 31.05h1.8v19.36h-1.8zM730.5 31.05h1.8v7.32h-1.8zM900 109.31h1.8v1.3h-1.8zM901.5 35.06h1.8v84.58h-1.8zM903 32.05h1.8v20.37h-1.8zM903 73.19h1.8v46.45h-1.8zM904.5 82.22h1.8v37.42h-1.8zM906 79.21h1.8v35.42h-1.8zM907.5 31.05h1.8v19.36h-1.8zM907.5 66.17h1.8v40.43h-1.8zM909 31.05h1.8v75.55h-1.8zM910.5 73.19h1.8v30.4h-1.8zM912 68.17h1.8v31.4h-1.8zM913.5 31.05h1.8v50.47h-1.8zM915 31.05h1.8v42.44h-1.8zM916.5 31.05h1.8v41.44h-1.8z"/>
<path fill="#ffd000" d="M684 130.38h1.8v5.32h-1.8zM685.5 101.29h1.8v34.41h-1.8zM687 99.28h1.8v34.41h-1.8zM688.5 93.26h1.8v32.41h-1.8zM690 76.2h1.8v45.45h-1.8zM691.5 69.18h1.8v52.48h-1.8zM693 81.22h1.8v50.47h-1.8zM694.5 111.32h1.8v24.38h-1.8zM696 127.37h1.8v8.33h-1.8zM708 100.28h1.8v35.42h-1.8zM709.5 94.26h1.8v41.44h-1.8zM711 94.26h1.8v41.44h-1.8zM712.5 96.27h1.8v39.43h-1.8zM714 98.28h1.8v37.42h-1.8zM715.5 31.05h1.8v4.31h-1.8zM715.5 105.3h1.8v30.4h-1.8zM903 52.12h1.8v21.37h-1.8zM904.5 31.05h1.8v51.47h-1.8zM906 31.05h1.8v48.46h-1.8zM907.5 50.11h1.8v16.35h-1.8zM910.5 31.05h1.8v42.44h-1.8zM912 31.05h1.8v37.42h-1.8z"/>
<path fill="#ff9800" d="M687 133.39h1.8v2.31h-1.8zM688.5 125.37h1.8v10.33h-1.8zM690 121.35h1.8v14.35h-1.8zM691.5 121.35h1.8v14.35h-1.8zM693 131.39h1.8v4.31h-1.8z"/>
</g>
<g filter="url(#bl)" shape-rendering="crispEdges">
<path fill="#3058c8" d="M266.5 155.95h1.8v5.3h-1.8zM268 155.95h1.8v3.3h-1.8zM269.5 155.95h1.8v1.3h-1.8z"/>
<path fill="#207898" d="M260.5 155.95h1.8v1.3h-1.8zM262 155.95h1.8v13.31h-1.8zM263.5 155.95h1.8v24.31h-1.8zM265 155.95h1.8v32.32h-1.8zM266.5 160.95h1.8v31.31h-1.8zM268 158.95h1.8v31.31h-1.8zM269.5 156.95h1.8v32.32h-1.8zM271 155.95h1.8v28.31h-1.8zM272.5 155.95h1.8v17.31h-1.8zM274 155.95h1.8v7.3h-1.8z"/>
<path fill="#0f9058" d="M235 155.95h1.8v2.3h-1.8zM236.5 155.95h1.8v8.3h-1.8zM238 155.95h1.8v9.3h-1.8zM239.5 155.95h1.8v9.3h-1.8zM241 155.95h1.8v8.3h-1.8zM242.5 155.95h1.8v3.3h-1.8zM257.5 155.95h1.8v6.3h-1.8zM259 155.95h1.8v14.31h-1.8zM260.5 156.95h1.8v22.31h-1.8zM262 168.96h1.8v28.31h-1.8zM263.5 179.96h1.8v27.31h-1.8zM265 187.97h1.8v25.31h-1.8zM266.5 191.97h1.8v22.31h-1.8zM268 189.97h1.8v21.31h-1.8zM269.5 188.97h1.8v20.31h-1.8zM271 183.96h1.8v23.31h-1.8zM272.5 172.96h1.8v29.31h-1.8zM274 162.95h1.8v15.31h-1.8zM275.5 155.95h1.8v12.31h-1.8z"/>
<path fill="#28a040" d="M127 155.95h1.8v36.32h-1.8zM128.5 155.95h1.8v32.32h-1.8zM130 155.95h1.8v28.31h-1.8zM167.5 155.95h1.8v1.3h-1.8zM169 155.95h1.8v14.31h-1.8zM170.5 155.95h1.8v39.32h-1.8zM172 155.95h1.8v36.32h-1.8zM173.5 155.95h1.8v35.32h-1.8zM175 155.95h1.8v30.31h-1.8zM176.5 155.95h1.8v20.31h-1.8zM178 155.95h1.8v11.31h-1.8zM179.5 155.95h1.8v8.3h-1.8zM181 155.95h1.8v7.3h-1.8zM182.5 155.95h1.8v5.3h-1.8zM184 155.95h1.8v2.3h-1.8zM232 155.95h1.8v43.32h-1.8zM233.5 155.95h1.8v48.32h-1.8zM235 157.95h1.8v53.33h-1.8zM236.5 163.95h1.8v50.32h-1.8zM238 164.95h1.8v48.32h-1.8zM239.5 164.95h1.8v46.32h-1.8zM241 163.95h1.8v47.32h-1.8zM242.5 158.95h1.8v54.33h-1.8zM244 155.95h1.8v60.33h-1.8zM245.5 155.95h1.8v14.31h-1.8zM245.5 192.97h1.8v18.31h-1.8zM253 155.95h1.8v17.31h-1.8zM254.5 155.95h1.8v32.32h-1.8zM256 155.95h1.8v34.32h-1.8zM257.5 161.95h1.8v29.31h-1.8zM259 169.96h1.8v30.31h-1.8zM260.5 178.96h1.8v38.32h-1.8zM262 196.97h1.8v43.32h-1.8zM263.5 206.97h1.8v39.32h-1.8zM265 212.98h1.8v33.32h-1.8zM266.5 213.98h1.8v29.31h-1.8zM268 210.98h1.8v27.31h-1.8zM269.5 208.98h1.8v27.31h-1.8zM271 206.97h1.8v28.31h-1.8zM272.5 201.97h1.8v31.31h-1.8zM274 177.96h1.8v46.32h-1.8zM275.5 167.96h1.8v26.31h-1.8zM277 155.95h1.8v20.31h-1.8zM278.5 155.95h1.8v3.3h-1.8z"/>
<path fill="#50b430" d="M127 191.97h1.8v51.32h-1.8zM128.5 187.97h1.8v52.33h-1.8zM130 183.96h1.8v53.33h-1.8zM131.5 155.95h1.8v43.32h-1.8zM133 155.95h1.8v28.31h-1.8zM146.5 155.95h1.8v1.3h-1.8zM148 155.95h1.8v12.31h-1.8zM149.5 155.95h1.8v24.31h-1.8zM151 155.95h1.8v38.32h-1.8zM152.5 155.95h1.8v56.33h-1.8zM154 155.95h1.8v70.33h-1.8zM155.5 155.95h1.8v60.33h-1.8zM157 155.95h1.8v39.32h-1.8zM166 155.95h1.8v11.31h-1.8zM167.5 156.95h1.8v21.31h-1.8zM169 169.96h1.8v33.32h-1.8zM170.5 194.97h1.8v32.32h-1.8zM172 191.97h1.8v42.32h-1.8zM173.5 190.97h1.8v52.33h-1.8zM175 185.96h1.8v53.33h-1.8zM176.5 175.96h1.8v25.31h-1.8zM178 166.96h1.8v28.31h-1.8zM179.5 163.95h1.8v26.31h-1.8zM181 162.95h1.8v17.31h-1.8zM182.5 160.95h1.8v14.31h-1.8zM184 157.95h1.8v16.31h-1.8zM185.5 155.95h1.8v15.31h-1.8zM187 155.95h1.8v11.31h-1.8zM188.5 155.95h1.8v1.3h-1.8zM191.5 155.95h1.8v7.3h-1.8zM193 155.95h1.8v11.31h-1.8zM194.5 155.95h1.8v12.31h-1.8zM196 155.95h1.8v11.31h-1.8zM197.5 155.95h1.8v7.3h-1.8zM217 155.95h1.8v35.32h-1.8zM218.5 155.95h1.8v38.32h-1.8zM220 155.95h1.8v42.32h-1.8zM221.5 155.95h1.8v45.32h-1.8zM223 155.95h1.8v47.32h-1.8zM224.5 155.95h1.8v49.32h-1.8zM226 155.95h1.8v51.32h-1.8zM227.5 155.95h1.8v62.33h-1.8zM229 155.95h1.8v70.33h-1.8zM230.5 155.95h1.8v80.34h-1.8zM232 198.97h1.8v44.32h-1.8zM233.5 203.97h1.8v42.32h-1.8zM235 210.98h1.8v35.32h-1.8zM236.5 213.98h1.8v28.31h-1.8zM238 212.98h1.8v26.31h-1.8zM239.5 210.98h1.8v25.31h-1.8zM241 210.98h1.8v25.31h-1.8zM242.5 212.98h1.8v26.31h-1.8zM244 215.98h1.8v25.31h-1.8zM245.5 169.96h1.8v23.31h-1.8zM245.5 210.98h1.8v22.31h-1.8zM247 155.95h1.8v69.33h-1.8zM248.5 155.95h1.8v63.33h-1.8zM250 155.95h1.8v56.33h-1.8zM251.5 155.95h1.8v54.33h-1.8zM253 172.96h1.8v40.32h-1.8zM254.5 187.97h1.8v32.32h-1.8zM256 189.97h1.8v36.32h-1.8zM257.5 190.97h1.8v44.32h-1.8zM259 199.97h1.8v44.32h-1.8zM260.5 216.98h1.8v39.32h-1.8zM262 239.99h1.8v20.31h-1.8zM263.5 245.99h1.8v14.31h-1.8zM265 245.99h1.8v14.31h-1.8zM266.5 242.99h1.8v17.31h-1.8zM268 237.99h1.8v22.31h-1.8zM269.5 235.99h1.8v24.31h-1.8zM271 234.99h1.8v25.31h-1.8zM272.5 232.99h1.8v23.31h-1.8zM274 223.98h1.8v25.31h-1.8zM275.5 193.97h1.8v39.32h-1.8zM277 175.96h1.8v31.31h-1.8zM278.5 158.95h1.8v30.31h-1.8zM280 155.95h1.8v19.31h-1.8zM281.5 155.95h1.8v2.3h-1.8zM290.5 155.95h1.8v4.3h-1.8zM292 155.95h1.8v5.3h-1.8zM391 155.95h1.8v35.32h-1.8zM392.5 155.95h1.8v41.32h-1.8zM394 155.95h1.8v35.32h-1.8z"/>
<path fill="#80cc20" d="M127 242.99h1.8v17.31h-1.8zM128.5 239.99h1.8v20.31h-1.8zM130 236.99h1.8v23.31h-1.8zM131.5 198.97h1.8v54.33h-1.8zM133 183.96h1.8v28.31h-1.8zM134.5 155.95h1.8v40.32h-1.8zM136 155.95h1.8v15.31h-1.8zM137.5 155.95h1.8v15.31h-1.8zM139 155.95h1.8v17.31h-1.8zM140.5 155.95h1.8v19.31h-1.8zM142 155.95h1.8v19.31h-1.8zM143.5 155.95h1.8v19.31h-1.8zM145 155.95h1.8v23.31h-1.8zM146.5 156.95h1.8v37.32h-1.8zM148 167.96h1.8v30.31h-1.8zM149.5 179.96h1.8v30.31h-1.8zM151 193.97h1.8v29.31h-1.8zM152.5 211.98h1.8v24.31h-1.8zM154 225.98h1.8v23.31h-1.8zM155.5 215.98h1.8v28.31h-1.8zM157 194.97h1.8v31.31h-1.8zM158.5 155.95h1.8v52.33h-1.8zM160 155.95h1.8v37.32h-1.8zM161.5 155.95h1.8v36.32h-1.8zM163 155.95h1.8v38.32h-1.8zM164.5 155.95h1.8v39.32h-1.8zM166 166.96h1.8v30.31h-1.8zM167.5 177.96h1.8v52.32h-1.8zM167.5 237.99h1.8v22.31h-1.8zM169 202.97h1.8v57.33h-1.8zM170.5 226.98h1.8v33.32h-1.8zM172 233.99h1.8v26.31h-1.8zM173.5 242.99h1.8v17.31h-1.8zM175 238.99h1.8v21.31h-1.8zM176.5 200.97h1.8v57.33h-1.8zM178 194.97h1.8v53.33h-1.8zM179.5 189.97h1.8v51.32h-1.8zM181 179.96h1.8v52.33h-1.8zM182.5 174.96h1.8v45.32h-1.8zM184 173.96h1.8v31.31h-1.8zM185.5 170.96h1.8v24.31h-1.8zM187 166.96h1.8v27.31h-1.8zM188.5 156.95h1.8v39.32h-1.8zM190 155.95h1.8v42.32h-1.8zM191.5 162.95h1.8v34.32h-1.8zM193 166.96h1.8v29.31h-1.8zM194.5 167.96h1.8v28.31h-1.8zM196 166.96h1.8v40.32h-1.8zM197.5 162.95h1.8v45.32h-1.8zM199 155.95h1.8v37.32h-1.8zM200.5 155.95h1.8v31.31h-1.8zM202 155.95h1.8v31.31h-1.8zM203.5 155.95h1.8v31.31h-1.8zM205 155.95h1.8v33.32h-1.8zM206.5 155.95h1.8v35.32h-1.8zM208 155.95h1.8v37.32h-1.8zM209.5 155.95h1.8v41.32h-1.8zM211 155.95h1.8v51.32h-1.8zM212.5 155.95h1.8v61.33h-1.8zM214 155.95h1.8v64.33h-1.8zM215.5 155.95h1.8v68.33h-1.8zM217 190.97h1.8v42.32h-1.8zM218.5 193.97h1.8v44.32h-1.8zM220 197.97h1.8v42.32h-1.8zM221.5 200.97h1.8v39.32h-1.8zM223 202.97h1.8v37.32h-1.8zM224.5 204.97h1.8v35.32h-1.8zM226 206.97h1.8v35.32h-1.8zM227.5 217.98h1.8v27.31h-1.8zM229 225.98h1.8v24.31h-1.8zM230.5 235.99h1.8v21.31h-1.8zM232 242.99h1.8v17.31h-1.8zM233.5 245.99h1.8v14.31h-1.8zM235 245.99h1.8v14.31h-1.8zM236.5 241.99h1.8v18.31h-1.8zM238 238.99h1.8v21.31h-1.8zM239.5 235.99h1.8v24.31h-1.8zM241 235.99h1.8v24.31h-1.8zM242.5 238.99h1.8v21.31h-1.8zM244 240.99h1.8v19.31h-1.8zM245.5 232.99h1.8v27.31h-1.8zM247 224.98h1.8v26.31h-1.8zM248.5 218.98h1.8v22.31h-1.8zM250 211.98h1.8v20.31h-1.8zM251.5 209.98h1.8v22.31h-1.8zM253 212.98h1.8v25.31h-1.8zM254.5 219.98h1.8v23.31h-1.8zM256 225.98h1.8v23.31h-1.8zM257.5 234.99h1.8v23.31h-1.8zM259 243.99h1.8v16.31h-1.8zM260.5 256h1.8v4.3h-1.8zM272.5 256h1.8v4.3h-1.8zM274 248.99h1.8v11.31h-1.8zM275.5 232.99h1.8v26.31h-1.8zM277 206.97h1.8v30.31h-1.8zM278.5 188.97h1.8v25.31h-1.8zM280 174.96h1.8v27.31h-1.8zM281.5 157.95h1.8v30.31h-1.8zM283 155.95h1.8v21.31h-1.8zM284.5 155.95h1.8v11.31h-1.8zM286 155.95h1.8v6.3h-1.8zM287.5 155.95h1.8v11.31h-1.8zM289 155.95h1.8v14.31h-1.8zM290.5 159.95h1.8v13.31h-1.8zM292 160.95h1.8v17.31h-1.8zM293.5 155.95h1.8v24.31h-1.8zM295 155.95h1.8v17.31h-1.8zM296.5 155.95h1.8v3.3h-1.8zM301 155.95h1.8v3.3h-1.8zM302.5 155.95h1.8v9.3h-1.8zM388 155.95h1.8v17.31h-1.8zM389.5 155.95h1.8v77.34h-1.8zM391 190.97h1.8v69.33h-1.8zM392.5 196.97h1.8v63.33h-1.8zM394 190.97h1.8v69.33h-1.8zM395.5 155.95h1.8v90.34h-1.8zM397 176.96h1.8v38.32h-1.8z"/>
<path fill="#b0dc20" d="M131.5 253h1.8v7.3h-1.8zM133 211.98h1.8v48.32h-1.8zM134.5 195.97h1.8v30.31h-1.8zM136 170.96h1.8v44.32h-1.8zM137.5 170.96h1.8v48.32h-1.8zM139 172.96h1.8v50.32h-1.8zM140.5 174.96h1.8v51.32h-1.8zM142 174.96h1.8v53.33h-1.8zM143.5 174.96h1.8v53.33h-1.8zM145 178.96h1.8v48.32h-1.8zM146.5 193.97h1.8v32.32h-1.8zM148 197.97h1.8v26.31h-1.8zM149.5 209.98h1.8v24.31h-1.8zM151 222.98h1.8v26.31h-1.8zM152.5 235.99h1.8v23.31h-1.8zM154 248.99h1.8v11.31h-1.8zM155.5 243.99h1.8v16.31h-1.8zM157 225.98h1.8v34.32h-1.8zM158.5 207.97h1.8v52.33h-1.8zM160 192.97h1.8v27.31h-1.8zM161.5 191.97h1.8v28.31h-1.8zM163 193.97h1.8v30.31h-1.8zM163 245.99h1.8v14.31h-1.8zM164.5 194.97h1.8v34.32h-1.8zM164.5 237.99h1.8v22.31h-1.8zM166 196.97h1.8v63.33h-1.8zM167.5 229.99h1.8v8.3h-1.8zM176.5 258h1.8v2.3h-1.8zM178 247.99h1.8v12.31h-1.8zM179.5 240.99h1.8v19.31h-1.8zM181 231.99h1.8v23.31h-1.8zM182.5 219.98h1.8v26.31h-1.8zM184 204.97h1.8v41.32h-1.8zM185.5 194.97h1.8v51.32h-1.8zM187 193.97h1.8v49.32h-1.8zM188.5 195.97h1.8v35.32h-1.8zM190 197.97h1.8v33.32h-1.8zM191.5 196.97h1.8v44.32h-1.8zM193 195.97h1.8v49.32h-1.8zM194.5 195.97h1.8v49.32h-1.8zM196 206.97h1.8v36.32h-1.8zM197.5 207.97h1.8v33.32h-1.8zM199 192.97h1.8v46.32h-1.8zM200.5 186.96h1.8v50.32h-1.8zM202 186.96h1.8v48.32h-1.8zM203.5 186.96h1.8v28.31h-1.8zM205 188.97h1.8v28.31h-1.8zM206.5 190.97h1.8v35.32h-1.8zM208 192.97h1.8v49.32h-1.8zM209.5 196.97h1.8v52.33h-1.8zM211 206.97h1.8v53.33h-1.8zM212.5 216.98h1.8v43.32h-1.8zM214 219.98h1.8v40.32h-1.8zM215.5 223.98h1.8v36.32h-1.8zM217 232.99h1.8v27.31h-1.8zM218.5 237.99h1.8v22.31h-1.8zM220 239.99h1.8v20.31h-1.8zM221.5 239.99h1.8v20.31h-1.8zM223 239.99h1.8v20.31h-1.8zM224.5 239.99h1.8v20.31h-1.8zM226 241.99h1.8v18.31h-1.8zM227.5 244.99h1.8v15.31h-1.8zM229 250h1.8v10.3h-1.8zM230.5 257h1.8v3.3h-1.8zM247 251h1.8v9.3h-1.8zM248.5 240.99h1.8v19.31h-1.8zM250 231.99h1.8v28.31h-1.8zM251.5 231.99h1.8v28.31h-1.8zM253 237.99h1.8v22.31h-1.8zM254.5 242.99h1.8v17.31h-1.8zM256 248.99h1.8v11.31h-1.8zM257.5 258h1.8v2.3h-1.8zM275.5 259h1.8v1.3h-1.8zM277 236.99h1.8v23.31h-1.8zM278.5 213.98h1.8v31.31h-1.8zM280 201.97h1.8v22.31h-1.8zM281.5 187.97h1.8v26.31h-1.8zM283 176.96h1.8v26.31h-1.8zM284.5 166.96h1.8v32.32h-1.8zM286 161.95h1.8v47.32h-1.8zM287.5 166.96h1.8v24.31h-1.8zM289 169.96h1.8v17.31h-1.8zM290.5 172.96h1.8v17.31h-1.8zM292 177.96h1.8v17.31h-1.8zM293.5 179.96h1.8v15.31h-1.8zM295 172.96h1.8v21.31h-1.8zM296.5 158.95h1.8v31.31h-1.8zM298 155.95h1.8v38.32h-1.8zM299.5 155.95h1.8v46.32h-1.8zM301 158.95h1.8v53.33h-1.8zM302.5 164.95h1.8v49.32h-1.8zM304 155.95h1.8v18.31h-1.8zM355 155.95h1.8v10.3h-1.8zM355 205.97h1.8v4.3h-1.8zM356.5 155.95h1.8v13.31h-1.8zM358 155.95h1.8v4.3h-1.8zM371.5 253h1.8v7.3h-1.8zM373 235.99h1.8v24.31h-1.8zM374.5 233.99h1.8v26.31h-1.8zM376 238.99h1.8v21.31h-1.8zM377.5 251h1.8v9.3h-1.8zM380.5 166.96h1.8v28.31h-1.8zM382 174.96h1.8v19.31h-1.8zM383.5 175.96h1.8v14.31h-1.8zM385 174.96h1.8v16.31h-1.8zM386.5 155.95h1.8v44.32h-1.8zM386.5 227.98h1.8v9.3h-1.8zM388 172.96h1.8v87.34h-1.8zM389.5 232.99h1.8v27.31h-1.8zM395.5 245.99h1.8v14.31h-1.8zM397 155.95h1.8v21.31h-1.8zM397 214.98h1.8v45.32h-1.8zM398.5 155.95h1.8v103.35h-1.8zM400 155.95h1.8v3.3h-1.8zM479.5 227.98h1.8v14.31h-1.8zM481 228.99h1.8v13.31h-1.8zM482.5 230.99h1.8v8.3h-1.8zM484 155.95h1.8v104.35h-1.8zM485.5 155.95h1.8v104.35h-1.8z"/>
<path fill="#eaf80c" d="M134.5 225.98h1.8v34.32h-1.8zM136 214.98h1.8v45.32h-1.8zM137.5 218.98h1.8v41.32h-1.8zM139 222.98h1.8v37.32h-1.8zM140.5 225.98h1.8v34.32h-1.8zM142 227.98h1.8v32.32h-1.8zM143.5 227.98h1.8v32.32h-1.8zM145 226.98h1.8v33.32h-1.8zM146.5 225.98h1.8v34.32h-1.8zM148 223.98h1.8v36.32h-1.8zM149.5 233.99h1.8v26.31h-1.8zM151 248.99h1.8v11.31h-1.8zM152.5 259h1.8v1.3h-1.8zM160 219.98h1.8v40.32h-1.8zM161.5 219.98h1.8v40.32h-1.8zM163 223.98h1.8v22.31h-1.8zM164.5 228.99h1.8v9.3h-1.8zM181 255h1.8v5.3h-1.8zM182.5 245.99h1.8v14.31h-1.8zM184 245.99h1.8v14.31h-1.8zM185.5 245.99h1.8v14.31h-1.8zM187 242.99h1.8v17.31h-1.8zM188.5 230.99h1.8v29.31h-1.8zM190 230.99h1.8v29.31h-1.8zM191.5 240.99h1.8v19.31h-1.8zM193 244.99h1.8v15.31h-1.8zM194.5 244.99h1.8v15.31h-1.8zM196 242.99h1.8v17.31h-1.8zM197.5 240.99h1.8v19.31h-1.8zM199 238.99h1.8v21.31h-1.8zM200.5 236.99h1.8v23.31h-1.8zM202 234.99h1.8v25.31h-1.8zM203.5 214.98h1.8v45.32h-1.8zM205 216.98h1.8v43.32h-1.8zM206.5 225.98h1.8v34.32h-1.8zM208 241.99h1.8v18.31h-1.8zM209.5 248.99h1.8v11.31h-1.8zM278.5 244.99h1.8v15.31h-1.8zM280 223.98h1.8v36.32h-1.8zM281.5 213.98h1.8v45.32h-1.8zM283 202.97h1.8v57.33h-1.8zM284.5 198.97h1.8v61.33h-1.8zM286 208.98h1.8v51.32h-1.8zM287.5 190.97h1.8v57.33h-1.8zM289 186.96h1.8v53.33h-1.8zM290.5 189.97h1.8v47.32h-1.8zM292 194.97h1.8v41.32h-1.8zM293.5 194.97h1.8v42.32h-1.8zM295 193.97h1.8v44.32h-1.8zM296.5 189.97h1.8v51.32h-1.8zM298 193.97h1.8v49.32h-1.8zM299.5 201.97h1.8v31.31h-1.8zM301 211.98h1.8v15.31h-1.8zM302.5 213.98h1.8v11.31h-1.8zM304 173.96h1.8v48.32h-1.8zM305.5 155.95h1.8v57.33h-1.8zM307 155.95h1.8v41.32h-1.8zM308.5 155.95h1.8v39.32h-1.8zM310 155.95h1.8v41.32h-1.8zM311.5 155.95h1.8v38.32h-1.8zM317.5 164.95h1.8v22.31h-1.8zM319 155.95h1.8v38.32h-1.8zM320.5 155.95h1.8v39.32h-1.8zM322 155.95h1.8v37.32h-1.8zM323.5 155.95h1.8v26.31h-1.8zM347.5 155.95h1.8v24.31h-1.8zM349 155.95h1.8v40.32h-1.8zM350.5 155.95h1.8v56.33h-1.8zM352 155.95h1.8v73.34h-1.8zM353.5 155.95h1.8v93.34h-1.8zM355 165.95h1.8v40.32h-1.8zM355 209.98h1.8v50.32h-1.8zM356.5 168.96h1.8v91.34h-1.8zM358 159.95h1.8v100.35h-1.8zM359.5 155.95h1.8v104.35h-1.8zM361 155.95h1.8v104.35h-1.8zM362.5 223.98h1.8v36.32h-1.8zM364 225.98h1.8v34.32h-1.8zM365.5 216.98h1.8v43.32h-1.8zM367 155.95h1.8v104.35h-1.8zM368.5 155.95h1.8v104.35h-1.8zM370 155.95h1.8v104.35h-1.8zM371.5 155.95h1.8v97.35h-1.8zM373 155.95h1.8v80.34h-1.8zM374.5 155.95h1.8v78.34h-1.8zM376 155.95h1.8v83.34h-1.8zM377.5 155.95h1.8v95.35h-1.8zM379 155.95h1.8v104.35h-1.8zM380.5 155.95h1.8v11.31h-1.8zM380.5 194.97h1.8v65.33h-1.8zM382 155.95h1.8v19.31h-1.8zM382 193.97h1.8v66.33h-1.8zM383.5 155.95h1.8v20.31h-1.8zM383.5 189.97h1.8v70.33h-1.8zM385 155.95h1.8v19.31h-1.8zM385 190.97h1.8v69.33h-1.8zM386.5 199.97h1.8v28.31h-1.8zM386.5 236.99h1.8v23.31h-1.8zM398.5 259h1.8v1.3h-1.8zM400 158.95h1.8v101.35h-1.8zM401.5 155.95h1.8v104.35h-1.8zM403 155.95h1.8v16.31h-1.8zM404.5 155.95h1.8v11.31h-1.8zM422.5 155.95h1.8v104.35h-1.8zM424 155.95h1.8v104.35h-1.8zM425.5 155.95h1.8v104.35h-1.8zM427 155.95h1.8v104.35h-1.8zM428.5 166.96h1.8v93.34h-1.8zM430 190.97h1.8v69.33h-1.8zM431.5 197.97h1.8v62.33h-1.8zM473.5 228.99h1.8v31.31h-1.8zM475 216.98h1.8v43.32h-1.8zM476.5 202.97h1.8v57.33h-1.8zM478 194.97h1.8v65.33h-1.8zM479.5 155.95h1.8v2.3h-1.8zM479.5 188.97h1.8v39.32h-1.8zM479.5 241.99h1.8v18.31h-1.8zM481 155.95h1.8v73.34h-1.8zM481 241.99h1.8v18.31h-1.8zM482.5 155.95h1.8v75.34h-1.8zM482.5 238.99h1.8v21.31h-1.8z"/>
<path fill="#ffe400" d="M281.5 259h1.8v1.3h-1.8zM287.5 247.99h1.8v12.31h-1.8zM289 239.99h1.8v20.31h-1.8zM290.5 236.99h1.8v23.31h-1.8zM292 235.99h1.8v24.31h-1.8zM293.5 236.99h1.8v23.31h-1.8zM295 237.99h1.8v22.31h-1.8zM296.5 240.99h1.8v19.31h-1.8zM298 242.99h1.8v17.31h-1.8zM299.5 232.99h1.8v27.31h-1.8zM301 226.98h1.8v33.32h-1.8zM302.5 224.98h1.8v35.32h-1.8zM304 221.98h1.8v38.32h-1.8zM305.5 212.98h1.8v20.31h-1.8zM305.5 244.99h1.8v15.31h-1.8zM307 196.97h1.8v31.31h-1.8zM308.5 194.97h1.8v29.31h-1.8zM310 196.97h1.8v32.32h-1.8zM311.5 193.97h1.8v36.32h-1.8zM313 155.95h1.8v74.34h-1.8zM314.5 155.95h1.8v77.34h-1.8zM316 155.95h1.8v88.34h-1.8zM317.5 155.95h1.8v9.3h-1.8zM317.5 186.96h1.8v66.33h-1.8zM319 193.97h1.8v66.33h-1.8zM320.5 194.97h1.8v65.33h-1.8zM322 192.97h1.8v67.33h-1.8zM323.5 181.96h1.8v58.33h-1.8zM325 155.95h1.8v45.32h-1.8zM326.5 155.95h1.8v3.3h-1.8zM337 155.95h1.8v16.31h-1.8zM338.5 155.95h1.8v104.35h-1.8zM340 155.95h1.8v104.35h-1.8zM341.5 155.95h1.8v104.35h-1.8zM343 155.95h1.8v104.35h-1.8zM344.5 155.95h1.8v104.35h-1.8zM346 155.95h1.8v104.35h-1.8zM347.5 179.96h1.8v80.34h-1.8zM349 195.97h1.8v64.33h-1.8zM350.5 211.98h1.8v48.32h-1.8zM352 228.99h1.8v31.31h-1.8zM353.5 248.99h1.8v11.31h-1.8zM362.5 155.95h1.8v68.33h-1.8zM364 155.95h1.8v70.33h-1.8zM365.5 155.95h1.8v61.33h-1.8zM403 171.96h1.8v88.34h-1.8zM404.5 166.96h1.8v93.34h-1.8zM406 155.95h1.8v104.35h-1.8zM407.5 155.95h1.8v104.35h-1.8zM409 155.95h1.8v104.35h-1.8zM410.5 155.95h1.8v104.35h-1.8zM412 155.95h1.8v104.35h-1.8zM413.5 155.95h1.8v104.35h-1.8zM415 155.95h1.8v104.35h-1.8zM416.5 155.95h1.8v104.35h-1.8zM418 155.95h1.8v104.35h-1.8zM419.5 155.95h1.8v104.35h-1.8zM421 155.95h1.8v104.35h-1.8zM428.5 155.95h1.8v11.31h-1.8zM430 155.95h1.8v35.32h-1.8zM431.5 155.95h1.8v42.32h-1.8zM433 155.95h1.8v104.35h-1.8zM434.5 155.95h1.8v104.35h-1.8zM436 155.95h1.8v104.35h-1.8zM437.5 155.95h1.8v104.35h-1.8zM439 155.95h1.8v104.35h-1.8zM440.5 188.97h1.8v71.33h-1.8zM442 190.97h1.8v69.33h-1.8zM443.5 193.97h1.8v66.33h-1.8zM445 201.97h1.8v58.33h-1.8zM446.5 218.98h1.8v41.32h-1.8zM448 225.98h1.8v34.32h-1.8zM449.5 233.99h1.8v26.31h-1.8zM457 224.98h1.8v35.32h-1.8zM458.5 210.98h1.8v49.32h-1.8zM460 155.95h1.8v104.35h-1.8zM461.5 155.95h1.8v104.35h-1.8zM463 189.97h1.8v70.33h-1.8zM464.5 198.97h1.8v61.33h-1.8zM466 213.98h1.8v46.32h-1.8zM467.5 216.98h1.8v43.32h-1.8zM469 213.98h1.8v46.32h-1.8zM470.5 203.97h1.8v56.33h-1.8zM472 197.97h1.8v62.33h-1.8zM473.5 155.95h1.8v9.3h-1.8zM473.5 186.96h1.8v42.32h-1.8zM475 155.95h1.8v61.33h-1.8zM476.5 155.95h1.8v47.32h-1.8zM478 155.95h1.8v39.32h-1.8zM479.5 157.95h1.8v31.31h-1.8z"/>
<path fill="#ffa000" d="M305.5 232.99h1.8v12.31h-1.8zM307 227.98h1.8v32.32h-1.8zM308.5 223.98h1.8v36.32h-1.8zM310 228.99h1.8v31.31h-1.8zM311.5 229.99h1.8v30.31h-1.8zM313 229.99h1.8v30.31h-1.8zM314.5 232.99h1.8v27.31h-1.8zM316 243.99h1.8v16.31h-1.8zM317.5 253h1.8v7.3h-1.8zM323.5 239.99h1.8v20.31h-1.8zM325 200.97h1.8v59.33h-1.8zM326.5 158.95h1.8v58.33h-1.8zM328 155.95h1.8v36.32h-1.8zM335.5 155.95h1.8v39.32h-1.8zM337 171.96h1.8v88.34h-1.8zM440.5 155.95h1.8v33.32h-1.8zM442 155.95h1.8v35.32h-1.8zM443.5 155.95h1.8v38.32h-1.8zM445 155.95h1.8v46.32h-1.8zM446.5 155.95h1.8v63.33h-1.8zM448 155.95h1.8v70.33h-1.8zM449.5 155.95h1.8v78.34h-1.8zM451 155.95h1.8v104.35h-1.8zM452.5 155.95h1.8v104.35h-1.8zM454 214.98h1.8v45.32h-1.8zM455.5 155.95h1.8v19.31h-1.8zM455.5 209.98h1.8v50.32h-1.8zM457 155.95h1.8v69.33h-1.8zM458.5 155.95h1.8v55.33h-1.8zM463 155.95h1.8v34.32h-1.8zM464.5 155.95h1.8v43.32h-1.8zM466 155.95h1.8v58.33h-1.8zM467.5 155.95h1.8v61.33h-1.8zM469 155.95h1.8v58.33h-1.8zM470.5 155.95h1.8v48.32h-1.8zM472 155.95h1.8v42.32h-1.8zM473.5 164.95h1.8v22.31h-1.8z"/>
<path fill="#ff6000" d="M326.5 216.98h1.8v43.32h-1.8zM328 191.97h1.8v68.33h-1.8zM329.5 155.95h1.8v104.35h-1.8zM331 155.95h1.8v104.35h-1.8zM332.5 155.95h1.8v104.35h-1.8zM334 155.95h1.8v104.35h-1.8zM335.5 194.97h1.8v65.33h-1.8zM454 155.95h1.8v59.33h-1.8zM455.5 174.96h1.8v35.32h-1.8z"/>
</g>
<g filter="url(#bl)" shape-rendering="crispEdges">
<path fill="#8020f0" d="M693 155.95h1.8v14.31h-1.8zM694.5 155.95h1.8v16.31h-1.8zM696 155.95h1.8v4.3h-1.8z"/>
<path fill="#4838f8" d="M673.5 155.95h1.8v7.3h-1.8zM690 155.95h1.8v16.31h-1.8zM691.5 155.95h1.8v28.31h-1.8zM693 169.96h1.8v73.34h-1.8zM694.5 171.96h1.8v81.34h-1.8zM696 159.95h1.8v91.34h-1.8zM697.5 155.95h1.8v89.34h-1.8zM699 159.95h1.8v82.34h-1.8zM700.5 160.95h1.8v57.33h-1.8zM702 155.95h1.8v36.32h-1.8zM703.5 155.95h1.8v17.31h-1.8zM705 155.95h1.8v10.3h-1.8z"/>
<path fill="#3850d0" d="M609 155.95h1.8v3.3h-1.8zM610.5 155.95h1.8v20.31h-1.8zM612 155.95h1.8v27.31h-1.8zM613.5 155.95h1.8v14.31h-1.8zM667.5 155.95h1.8v26.31h-1.8zM669 155.95h1.8v27.31h-1.8zM670.5 155.95h1.8v28.31h-1.8zM672 155.95h1.8v29.31h-1.8zM673.5 162.95h1.8v23.31h-1.8zM675 155.95h1.8v30.31h-1.8zM676.5 155.95h1.8v16.31h-1.8zM681 155.95h1.8v2.3h-1.8zM682.5 155.95h1.8v12.31h-1.8zM684 155.95h1.8v28.31h-1.8zM685.5 155.95h1.8v32.32h-1.8zM687 155.95h1.8v35.32h-1.8zM688.5 155.95h1.8v40.32h-1.8zM690 171.96h1.8v28.31h-1.8zM691.5 183.96h1.8v22.31h-1.8zM691.5 220.98h1.8v16.31h-1.8zM693 242.99h1.8v17.31h-1.8zM694.5 253h1.8v7.3h-1.8zM696 251h1.8v9.3h-1.8zM697.5 244.99h1.8v15.31h-1.8zM699 155.95h1.8v4.3h-1.8zM699 241.99h1.8v18.31h-1.8zM700.5 155.95h1.8v5.3h-1.8zM700.5 217.98h1.8v42.32h-1.8zM702 191.97h1.8v64.33h-1.8zM703.5 172.96h1.8v59.33h-1.8zM705 165.95h1.8v52.33h-1.8z"/>
<path fill="#2078a0" d="M600 155.95h1.8v58.33h-1.8zM601.5 155.95h1.8v65.33h-1.8zM603 155.95h1.8v66.33h-1.8zM604.5 155.95h1.8v66.33h-1.8zM606 155.95h1.8v66.33h-1.8zM607.5 155.95h1.8v64.33h-1.8zM609 158.95h1.8v59.33h-1.8zM610.5 175.96h1.8v38.32h-1.8zM612 182.96h1.8v26.31h-1.8zM613.5 169.96h1.8v26.31h-1.8zM615 155.95h1.8v14.31h-1.8zM646.5 155.95h1.8v12.31h-1.8zM648 155.95h1.8v41.32h-1.8zM649.5 155.95h1.8v41.32h-1.8zM651 155.95h1.8v38.32h-1.8zM652.5 155.95h1.8v34.32h-1.8zM654 155.95h1.8v27.31h-1.8zM655.5 155.95h1.8v12.31h-1.8zM660 155.95h1.8v2.3h-1.8zM661.5 155.95h1.8v11.31h-1.8zM663 155.95h1.8v19.31h-1.8zM664.5 155.95h1.8v32.32h-1.8zM666 155.95h1.8v37.32h-1.8zM667.5 181.96h1.8v13.31h-1.8zM669 182.96h1.8v13.31h-1.8zM670.5 183.96h1.8v14.31h-1.8zM672 184.96h1.8v14.31h-1.8zM673.5 185.96h1.8v13.31h-1.8zM675 185.96h1.8v13.31h-1.8zM676.5 171.96h1.8v21.31h-1.8zM678 155.95h1.8v20.31h-1.8zM679.5 155.95h1.8v9.3h-1.8zM681 157.95h1.8v22.31h-1.8zM682.5 167.96h1.8v26.31h-1.8zM684 183.96h1.8v15.31h-1.8zM685.5 187.97h1.8v13.31h-1.8zM687 190.97h1.8v21.31h-1.8zM688.5 195.97h1.8v35.32h-1.8zM690 199.97h1.8v48.32h-1.8zM691.5 205.97h1.8v15.31h-1.8zM691.5 236.99h1.8v23.31h-1.8zM702 256h1.8v4.3h-1.8zM703.5 231.99h1.8v28.31h-1.8zM705 217.98h1.8v42.32h-1.8zM706.5 155.95h1.8v15.31h-1.8z"/>
<path fill="#109060" d="M558 155.95h1.8v89.34h-1.8zM559.5 155.95h1.8v90.34h-1.8zM561 155.95h1.8v92.34h-1.8zM562.5 155.95h1.8v88.34h-1.8zM564 155.95h1.8v22.31h-1.8zM564 225.98h1.8v10.3h-1.8zM565.5 155.95h1.8v5.3h-1.8zM579 172.96h1.8v12.31h-1.8zM580.5 155.95h1.8v33.32h-1.8zM582 155.95h1.8v29.31h-1.8zM597 155.95h1.8v54.33h-1.8zM598.5 155.95h1.8v70.33h-1.8zM600 213.98h1.8v24.31h-1.8zM601.5 220.98h1.8v24.31h-1.8zM603 221.98h1.8v24.31h-1.8zM604.5 221.98h1.8v24.31h-1.8zM606 221.98h1.8v24.31h-1.8zM607.5 219.98h1.8v24.31h-1.8zM609 217.98h1.8v23.31h-1.8zM610.5 213.98h1.8v17.31h-1.8zM612 208.98h1.8v14.31h-1.8zM613.5 195.97h1.8v18.31h-1.8zM615 169.96h1.8v24.31h-1.8zM616.5 155.95h1.8v8.3h-1.8zM645 155.95h1.8v7.3h-1.8zM646.5 167.96h1.8v41.32h-1.8zM648 196.97h1.8v26.31h-1.8zM649.5 196.97h1.8v24.31h-1.8zM651 193.97h1.8v17.31h-1.8zM652.5 189.97h1.8v15.31h-1.8zM654 182.96h1.8v18.31h-1.8zM655.5 167.96h1.8v25.31h-1.8zM657 155.95h1.8v20.31h-1.8zM658.5 155.95h1.8v17.31h-1.8zM660 157.95h1.8v19.31h-1.8zM661.5 166.96h1.8v22.31h-1.8zM663 174.96h1.8v27.31h-1.8zM664.5 187.97h1.8v20.31h-1.8zM664.5 211.98h1.8v25.31h-1.8zM666 192.97h1.8v45.32h-1.8zM667.5 194.97h1.8v42.32h-1.8zM669 195.97h1.8v43.32h-1.8zM670.5 197.97h1.8v44.32h-1.8zM672 198.97h1.8v46.32h-1.8zM673.5 198.97h1.8v47.32h-1.8zM675 198.97h1.8v47.32h-1.8zM676.5 192.97h1.8v14.31h-1.8zM678 175.96h1.8v19.31h-1.8zM679.5 164.95h1.8v14.31h-1.8zM681 179.96h1.8v21.31h-1.8zM682.5 193.97h1.8v43.32h-1.8zM684 198.97h1.8v46.32h-1.8zM685.5 200.97h1.8v45.32h-1.8zM687 211.98h1.8v39.32h-1.8zM688.5 230.99h1.8v29.31h-1.8zM690 247.99h1.8v12.31h-1.8zM706.5 170.96h1.8v53.33h-1.8zM708 155.95h1.8v12.31h-1.8zM709.5 155.95h1.8v13.31h-1.8zM711 155.95h1.8v15.31h-1.8zM712.5 155.95h1.8v12.31h-1.8zM714 155.95h1.8v1.3h-1.8zM820.5 155.95h1.8v41.32h-1.8zM820.5 231.99h1.8v3.3h-1.8zM822 155.95h1.8v89.34h-1.8zM823.5 155.95h1.8v87.34h-1.8zM825 155.95h1.8v69.33h-1.8z"/>
<path fill="#18a048" d="M558 244.99h1.8v15.31h-1.8zM559.5 245.99h1.8v14.31h-1.8zM561 247.99h1.8v12.31h-1.8zM562.5 243.99h1.8v16.31h-1.8zM564 177.96h1.8v48.32h-1.8zM564 235.99h1.8v17.31h-1.8zM565.5 160.95h1.8v81.34h-1.8zM576 174.96h1.8v10.3h-1.8zM577.5 155.95h1.8v44.32h-1.8zM579 155.95h1.8v17.31h-1.8zM579 184.96h1.8v30.31h-1.8zM580.5 188.97h1.8v34.32h-1.8zM582 184.96h1.8v51.32h-1.8zM583.5 155.95h1.8v77.34h-1.8zM585 155.95h1.8v66.33h-1.8zM586.5 155.95h1.8v18.31h-1.8zM586.5 190.97h1.8v22.31h-1.8zM588 155.95h1.8v1.3h-1.8zM595.5 155.95h1.8v56.33h-1.8zM597 209.98h1.8v50.32h-1.8zM598.5 225.98h1.8v34.32h-1.8zM600 237.99h1.8v22.31h-1.8zM601.5 244.99h1.8v15.31h-1.8zM603 245.99h1.8v14.31h-1.8zM604.5 245.99h1.8v14.31h-1.8zM606 245.99h1.8v14.31h-1.8zM607.5 243.99h1.8v16.31h-1.8zM609 240.99h1.8v19.31h-1.8zM610.5 230.99h1.8v29.31h-1.8zM612 222.98h1.8v37.32h-1.8zM613.5 213.98h1.8v15.31h-1.8zM615 193.97h1.8v19.31h-1.8zM616.5 163.95h1.8v28.31h-1.8zM618 155.95h1.8v14.31h-1.8zM625.5 155.95h1.8v16.31h-1.8zM627 155.95h1.8v30.31h-1.8zM628.5 155.95h1.8v45.32h-1.8zM630 155.95h1.8v65.33h-1.8zM631.5 155.95h1.8v69.33h-1.8zM633 155.95h1.8v63.33h-1.8zM634.5 155.95h1.8v49.32h-1.8zM636 155.95h1.8v31.31h-1.8zM637.5 155.95h1.8v17.31h-1.8zM639 155.95h1.8v13.31h-1.8zM643.5 155.95h1.8v15.31h-1.8zM645 162.95h1.8v49.32h-1.8zM646.5 208.98h1.8v30.31h-1.8zM648 222.98h1.8v30.31h-1.8zM649.5 220.98h1.8v31.31h-1.8zM651 210.98h1.8v33.32h-1.8zM652.5 204.97h1.8v25.31h-1.8zM654 200.97h1.8v25.31h-1.8zM655.5 192.97h1.8v30.31h-1.8zM657 175.96h1.8v26.31h-1.8zM658.5 172.96h1.8v23.31h-1.8zM660 176.96h1.8v24.31h-1.8zM661.5 188.97h1.8v63.33h-1.8zM663 201.97h1.8v58.33h-1.8zM664.5 207.97h1.8v4.3h-1.8zM664.5 236.99h1.8v23.31h-1.8zM666 237.99h1.8v22.31h-1.8zM667.5 236.99h1.8v20.31h-1.8zM669 238.99h1.8v20.31h-1.8zM670.5 241.99h1.8v18.31h-1.8zM672 244.99h1.8v15.31h-1.8zM673.5 245.99h1.8v14.31h-1.8zM675 245.99h1.8v14.31h-1.8zM676.5 206.97h1.8v53.33h-1.8zM678 194.97h1.8v53.33h-1.8zM679.5 178.96h1.8v22.31h-1.8zM681 200.97h1.8v59.33h-1.8zM682.5 236.99h1.8v23.31h-1.8zM684 244.99h1.8v15.31h-1.8zM685.5 245.99h1.8v14.31h-1.8zM687 251h1.8v9.3h-1.8zM706.5 223.98h1.8v36.32h-1.8zM708 167.96h1.8v51.32h-1.8zM709.5 168.96h1.8v34.32h-1.8zM711 170.96h1.8v28.31h-1.8zM712.5 167.96h1.8v28.31h-1.8zM714 156.95h1.8v36.32h-1.8zM715.5 155.95h1.8v34.32h-1.8zM717 155.95h1.8v24.31h-1.8zM718.5 155.95h1.8v15.31h-1.8zM720 155.95h1.8v9.3h-1.8zM819 155.95h1.8v104.35h-1.8zM820.5 196.97h1.8v35.32h-1.8zM820.5 234.99h1.8v25.31h-1.8zM822 244.99h1.8v15.31h-1.8zM823.5 242.99h1.8v17.31h-1.8zM825 224.98h1.8v35.32h-1.8zM826.5 155.95h1.8v104.35h-1.8zM828 198.97h1.8v41.32h-1.8z"/>
<path fill="#40b038" d="M564 253h1.8v7.3h-1.8zM565.5 241.99h1.8v18.31h-1.8zM567 155.95h1.8v45.32h-1.8zM568.5 155.95h1.8v23.31h-1.8zM570 155.95h1.8v16.31h-1.8zM571.5 155.95h1.8v18.31h-1.8zM573 155.95h1.8v32.32h-1.8zM574.5 155.95h1.8v47.32h-1.8zM576 155.95h1.8v19.31h-1.8zM576 184.96h1.8v36.32h-1.8zM577.5 199.97h1.8v33.32h-1.8zM579 214.98h1.8v45.32h-1.8zM580.5 222.98h1.8v37.32h-1.8zM582 235.99h1.8v24.31h-1.8zM583.5 232.99h1.8v27.31h-1.8zM585 221.98h1.8v38.32h-1.8zM586.5 173.96h1.8v17.31h-1.8zM586.5 212.98h1.8v26.31h-1.8zM588 156.95h1.8v69.33h-1.8zM589.5 155.95h1.8v57.33h-1.8zM591 155.95h1.8v16.31h-1.8zM592.5 155.95h1.8v20.31h-1.8zM594 155.95h1.8v104.35h-1.8zM595.5 211.98h1.8v48.32h-1.8zM613.5 228.99h1.8v31.31h-1.8zM615 212.98h1.8v47.32h-1.8zM616.5 191.97h1.8v20.31h-1.8zM618 169.96h1.8v27.31h-1.8zM619.5 155.95h1.8v28.31h-1.8zM621 155.95h1.8v22.31h-1.8zM622.5 155.95h1.8v31.31h-1.8zM624 155.95h1.8v38.32h-1.8zM625.5 171.96h1.8v34.32h-1.8zM627 185.96h1.8v43.32h-1.8zM628.5 200.97h1.8v50.32h-1.8zM630 220.98h1.8v31.31h-1.8zM631.5 224.98h1.8v24.31h-1.8zM633 218.98h1.8v23.31h-1.8zM634.5 204.97h1.8v23.31h-1.8zM636 186.96h1.8v33.32h-1.8zM637.5 172.96h1.8v46.32h-1.8zM639 168.96h1.8v43.32h-1.8zM640.5 155.95h1.8v43.32h-1.8zM642 155.95h1.8v44.32h-1.8zM643.5 170.96h1.8v49.32h-1.8zM645 211.98h1.8v31.31h-1.8zM646.5 238.99h1.8v21.31h-1.8zM648 253h1.8v7.3h-1.8zM649.5 252h1.8v8.3h-1.8zM651 243.99h1.8v16.31h-1.8zM652.5 229.99h1.8v30.31h-1.8zM654 225.98h1.8v34.32h-1.8zM655.5 222.98h1.8v37.32h-1.8zM657 201.97h1.8v58.33h-1.8zM658.5 195.97h1.8v64.33h-1.8zM660 200.97h1.8v59.33h-1.8zM661.5 252h1.8v8.3h-1.8zM667.5 257h1.8v3.3h-1.8zM669 259h1.8v1.3h-1.8zM678 247.99h1.8v12.31h-1.8zM679.5 200.97h1.8v59.33h-1.8zM708 218.98h1.8v41.32h-1.8zM709.5 202.97h1.8v57.33h-1.8zM711 198.97h1.8v61.33h-1.8zM712.5 195.97h1.8v64.33h-1.8zM714 192.97h1.8v67.33h-1.8zM715.5 189.97h1.8v70.33h-1.8zM717 179.96h1.8v80.34h-1.8zM718.5 170.96h1.8v89.34h-1.8zM720 164.95h1.8v54.33h-1.8zM721.5 155.95h1.8v23.31h-1.8zM721.5 200.97h1.8v8.3h-1.8zM723 155.95h1.8v7.3h-1.8zM816 228.99h1.8v31.31h-1.8zM817.5 186.96h1.8v73.34h-1.8zM828 155.95h1.8v43.32h-1.8zM828 239.99h1.8v20.31h-1.8zM829.5 179.96h1.8v69.33h-1.8zM832.5 155.95h1.8v10.3h-1.8z"/>
<path fill="#68c028" d="M567 200.97h1.8v59.33h-1.8zM568.5 178.96h1.8v75.34h-1.8zM570 171.96h1.8v50.32h-1.8zM571.5 173.96h1.8v47.32h-1.8zM571.5 258h1.8v2.3h-1.8zM573 187.97h1.8v37.32h-1.8zM573 240.99h1.8v19.31h-1.8zM574.5 202.97h1.8v57.33h-1.8zM576 220.98h1.8v39.32h-1.8zM577.5 232.99h1.8v27.31h-1.8zM586.5 238.99h1.8v21.31h-1.8zM588 225.98h1.8v34.32h-1.8zM589.5 212.98h1.8v47.32h-1.8zM591 171.96h1.8v88.34h-1.8zM592.5 175.96h1.8v84.34h-1.8zM616.5 211.98h1.8v48.32h-1.8zM618 196.97h1.8v40.32h-1.8zM619.5 183.96h1.8v39.32h-1.8zM621 177.96h1.8v41.32h-1.8zM622.5 186.96h1.8v40.32h-1.8zM624 193.97h1.8v49.32h-1.8zM625.5 205.97h1.8v54.33h-1.8zM627 228.99h1.8v31.31h-1.8zM628.5 251h1.8v9.3h-1.8zM630 252h1.8v8.3h-1.8zM631.5 248.99h1.8v11.31h-1.8zM633 241.99h1.8v18.31h-1.8zM634.5 227.98h1.8v32.32h-1.8zM636 219.98h1.8v40.32h-1.8zM637.5 218.98h1.8v41.32h-1.8zM639 211.98h1.8v48.32h-1.8zM640.5 198.97h1.8v61.33h-1.8zM642 199.97h1.8v53.33h-1.8zM643.5 219.98h1.8v36.32h-1.8zM645 242.99h1.8v17.31h-1.8zM720 218.98h1.8v41.32h-1.8zM721.5 178.96h1.8v22.31h-1.8zM721.5 208.98h1.8v51.32h-1.8zM723 162.95h1.8v61.33h-1.8zM724.5 155.95h1.8v21.31h-1.8zM724.5 196.97h1.8v16.31h-1.8zM726 155.95h1.8v14.31h-1.8zM726 200.97h1.8v10.3h-1.8zM727.5 155.95h1.8v62.33h-1.8zM729 155.95h1.8v62.33h-1.8zM730.5 155.95h1.8v46.32h-1.8zM732 155.95h1.8v31.31h-1.8zM769.5 155.95h1.8v3.3h-1.8zM771 155.95h1.8v31.31h-1.8zM772.5 155.95h1.8v36.32h-1.8zM774 155.95h1.8v30.31h-1.8zM775.5 155.95h1.8v13.31h-1.8zM786 155.95h1.8v9.3h-1.8zM787.5 155.95h1.8v12.31h-1.8zM801 155.95h1.8v6.3h-1.8zM802.5 155.95h1.8v40.32h-1.8zM804 155.95h1.8v104.35h-1.8zM805.5 155.95h1.8v104.35h-1.8zM807 155.95h1.8v100.35h-1.8zM813 236.99h1.8v23.31h-1.8zM814.5 195.97h1.8v64.33h-1.8zM816 161.95h1.8v67.33h-1.8zM817.5 155.95h1.8v31.31h-1.8zM829.5 155.95h1.8v24.31h-1.8zM829.5 248.99h1.8v11.31h-1.8zM831 155.95h1.8v104.35h-1.8zM832.5 165.95h1.8v52.33h-1.8zM834 155.95h1.8v49.32h-1.8zM835.5 155.95h1.8v30.31h-1.8z"/>
<path fill="#88d020" d="M568.5 254h1.8v6.3h-1.8zM570 221.98h1.8v38.32h-1.8zM571.5 220.98h1.8v37.32h-1.8zM573 224.98h1.8v16.31h-1.8zM618 236.99h1.8v23.31h-1.8zM619.5 222.98h1.8v37.32h-1.8zM621 218.98h1.8v41.32h-1.8zM622.5 226.98h1.8v33.32h-1.8zM624 242.99h1.8v17.31h-1.8zM642 253h1.8v7.3h-1.8zM643.5 256h1.8v4.3h-1.8zM723 223.98h1.8v36.32h-1.8zM724.5 176.96h1.8v20.31h-1.8zM724.5 212.98h1.8v47.32h-1.8zM726 169.96h1.8v31.31h-1.8zM726 210.98h1.8v49.32h-1.8zM727.5 217.98h1.8v42.32h-1.8zM729 217.98h1.8v42.32h-1.8zM730.5 201.97h1.8v46.32h-1.8zM732 186.96h1.8v54.33h-1.8zM733.5 155.95h1.8v43.32h-1.8zM735 155.95h1.8v31.31h-1.8zM745.5 173.96h1.8v11.31h-1.8zM747 155.95h1.8v37.32h-1.8zM748.5 155.95h1.8v51.32h-1.8zM750 169.96h1.8v35.32h-1.8zM769.5 158.95h1.8v101.35h-1.8zM771 186.96h1.8v73.34h-1.8zM772.5 191.97h1.8v68.33h-1.8zM774 185.96h1.8v74.34h-1.8zM775.5 168.96h1.8v91.34h-1.8zM777 155.95h1.8v104.35h-1.8zM778.5 155.95h1.8v104.35h-1.8zM780 155.95h1.8v74.34h-1.8zM780 237.99h1.8v22.31h-1.8zM781.5 155.95h1.8v65.33h-1.8zM781.5 245.99h1.8v14.31h-1.8zM783 155.95h1.8v56.33h-1.8zM783 245.99h1.8v14.31h-1.8zM784.5 155.95h1.8v47.32h-1.8zM784.5 243.99h1.8v16.31h-1.8zM786 164.95h1.8v40.32h-1.8zM786 234.99h1.8v25.31h-1.8zM787.5 167.96h1.8v92.34h-1.8zM789 155.95h1.8v21.31h-1.8zM790.5 155.95h1.8v11.31h-1.8zM798 168.96h1.8v18.31h-1.8zM799.5 155.95h1.8v45.32h-1.8zM801 161.95h1.8v98.35h-1.8zM802.5 195.97h1.8v64.33h-1.8zM807 256h1.8v4.3h-1.8zM808.5 155.95h1.8v104.35h-1.8zM810 155.95h1.8v104.35h-1.8zM811.5 155.95h1.8v19.31h-1.8zM811.5 187.97h1.8v72.33h-1.8zM813 155.95h1.8v81.34h-1.8zM814.5 155.95h1.8v40.32h-1.8zM816 155.95h1.8v6.3h-1.8zM832.5 217.98h1.8v42.32h-1.8zM834 204.97h1.8v55.33h-1.8zM835.5 185.96h1.8v74.34h-1.8zM837 155.95h1.8v104.35h-1.8zM838.5 168.96h1.8v54.33h-1.8zM838.5 253h1.8v7.3h-1.8zM840 189.97h1.8v18.31h-1.8zM841.5 181.96h1.8v26.31h-1.8z"/>
<path fill="#c4e81c" d="M730.5 247.99h1.8v12.31h-1.8zM732 240.99h1.8v19.31h-1.8zM733.5 198.97h1.8v61.33h-1.8zM735 186.96h1.8v72.33h-1.8zM736.5 155.95h1.8v46.32h-1.8zM738 155.95h1.8v34.32h-1.8zM739.5 155.95h1.8v15.31h-1.8zM741 155.95h1.8v12.31h-1.8zM742.5 155.95h1.8v33.32h-1.8zM744 155.95h1.8v42.32h-1.8zM745.5 155.95h1.8v18.31h-1.8zM745.5 184.96h1.8v22.31h-1.8zM745.5 240.99h1.8v19.31h-1.8zM747 192.97h1.8v67.33h-1.8zM748.5 206.97h1.8v53.33h-1.8zM750 155.95h1.8v14.31h-1.8zM750 204.97h1.8v55.33h-1.8zM751.5 155.95h1.8v88.34h-1.8zM753 155.95h1.8v50.32h-1.8zM753 212.98h1.8v25.31h-1.8zM768 155.95h1.8v104.35h-1.8zM780 229.99h1.8v8.3h-1.8zM781.5 220.98h1.8v25.31h-1.8zM783 211.98h1.8v34.32h-1.8zM784.5 202.97h1.8v41.32h-1.8zM786 204.97h1.8v30.31h-1.8zM789 176.96h1.8v83.34h-1.8zM790.5 166.96h1.8v93.34h-1.8zM792 155.95h1.8v40.32h-1.8zM792 251h1.8v9.3h-1.8zM793.5 155.95h1.8v35.32h-1.8zM795 155.95h1.8v37.32h-1.8zM796.5 155.95h1.8v44.32h-1.8zM798 155.95h1.8v13.31h-1.8zM798 186.96h1.8v34.32h-1.8zM798 255h1.8v5.3h-1.8zM799.5 200.97h1.8v59.33h-1.8zM811.5 174.96h1.8v13.31h-1.8zM838.5 155.95h1.8v13.31h-1.8zM838.5 222.98h1.8v30.31h-1.8zM840 155.95h1.8v34.32h-1.8zM840 207.97h1.8v52.33h-1.8zM841.5 155.95h1.8v26.31h-1.8zM841.5 207.97h1.8v52.33h-1.8zM843 155.95h1.8v104.35h-1.8zM844.5 156.95h1.8v103.35h-1.8zM846 164.95h1.8v95.35h-1.8zM847.5 177.96h1.8v11.31h-1.8zM847.5 212.98h1.8v47.32h-1.8zM849 173.96h1.8v12.31h-1.8zM849 232.99h1.8v27.31h-1.8zM852 168.96h1.8v17.31h-1.8zM852 226.98h1.8v21.31h-1.8zM853.5 155.95h1.8v104.35h-1.8zM855 155.95h1.8v104.35h-1.8zM856.5 155.95h1.8v104.35h-1.8zM858 155.95h1.8v104.35h-1.8zM912 222.98h1.8v37.32h-1.8zM913.5 215.98h1.8v44.32h-1.8zM915 198.97h1.8v61.33h-1.8zM916.5 189.97h1.8v70.33h-1.8z"/>
<path fill="#f8ff00" d="M735 259h1.8v1.3h-1.8zM736.5 201.97h1.8v58.33h-1.8zM738 189.97h1.8v70.33h-1.8zM739.5 170.96h1.8v89.34h-1.8zM741 167.96h1.8v92.34h-1.8zM742.5 188.97h1.8v71.33h-1.8zM744 197.97h1.8v62.33h-1.8zM745.5 206.97h1.8v34.32h-1.8zM751.5 243.99h1.8v16.31h-1.8zM753 205.97h1.8v7.3h-1.8zM753 237.99h1.8v22.31h-1.8zM754.5 155.95h1.8v104.35h-1.8zM756 155.95h1.8v47.32h-1.8zM756 216.98h1.8v43.32h-1.8zM757.5 180.96h1.8v1.3h-1.8zM765 155.95h1.8v20.31h-1.8zM766.5 155.95h1.8v104.35h-1.8zM792 195.97h1.8v55.33h-1.8zM793.5 190.97h1.8v69.33h-1.8zM795 192.97h1.8v67.33h-1.8zM796.5 199.97h1.8v60.33h-1.8zM798 220.98h1.8v34.32h-1.8zM844.5 155.95h1.8v1.3h-1.8zM846 155.95h1.8v9.3h-1.8zM847.5 155.95h1.8v22.31h-1.8zM847.5 188.97h1.8v24.31h-1.8zM849 155.95h1.8v18.31h-1.8zM849 185.96h1.8v47.32h-1.8zM850.5 155.95h1.8v104.35h-1.8zM852 155.95h1.8v13.31h-1.8zM852 185.96h1.8v41.32h-1.8zM852 247.99h1.8v12.31h-1.8zM859.5 155.95h1.8v104.35h-1.8zM861 155.95h1.8v104.35h-1.8zM862.5 184.96h1.8v75.34h-1.8zM864 184.96h1.8v75.34h-1.8zM865.5 177.96h1.8v82.34h-1.8zM867 161.95h1.8v98.35h-1.8zM868.5 155.95h1.8v104.35h-1.8zM870 155.95h1.8v104.35h-1.8zM871.5 155.95h1.8v104.35h-1.8zM873 194.97h1.8v65.33h-1.8zM874.5 199.97h1.8v60.33h-1.8zM876 207.97h1.8v52.33h-1.8zM877.5 227.98h1.8v32.32h-1.8zM879 253h1.8v7.3h-1.8zM901.5 245.99h1.8v14.31h-1.8zM903 228.99h1.8v31.31h-1.8zM904.5 214.98h1.8v45.32h-1.8zM906 198.97h1.8v61.33h-1.8zM907.5 190.97h1.8v69.33h-1.8zM909 191.97h1.8v68.33h-1.8zM910.5 187.97h1.8v72.33h-1.8zM912 155.95h1.8v67.33h-1.8zM913.5 155.95h1.8v60.33h-1.8zM915 155.95h1.8v43.32h-1.8zM916.5 155.95h1.8v34.32h-1.8z"/>
<path fill="#ffd000" d="M756 202.97h1.8v14.31h-1.8zM757.5 155.95h1.8v25.31h-1.8zM757.5 181.96h1.8v78.34h-1.8zM759 155.95h1.8v40.32h-1.8zM759 229.99h1.8v30.31h-1.8zM760.5 155.95h1.8v30.31h-1.8zM762 155.95h1.8v27.31h-1.8zM763.5 155.95h1.8v54.33h-1.8zM765 175.96h1.8v84.34h-1.8zM862.5 155.95h1.8v29.31h-1.8zM864 155.95h1.8v29.31h-1.8zM865.5 155.95h1.8v22.31h-1.8zM867 155.95h1.8v6.3h-1.8zM873 155.95h1.8v39.32h-1.8zM874.5 155.95h1.8v44.32h-1.8zM876 155.95h1.8v52.33h-1.8zM877.5 155.95h1.8v72.33h-1.8zM879 155.95h1.8v97.35h-1.8zM880.5 155.95h1.8v104.35h-1.8zM882 155.95h1.8v104.35h-1.8zM883.5 155.95h1.8v104.35h-1.8zM891 247.99h1.8v12.31h-1.8zM892.5 155.95h1.8v39.32h-1.8zM892.5 229.99h1.8v30.31h-1.8zM894 155.95h1.8v38.32h-1.8zM894 220.98h1.8v39.32h-1.8zM895.5 219.98h1.8v40.32h-1.8zM897 219.98h1.8v40.32h-1.8zM898.5 215.98h1.8v44.32h-1.8zM900 202.97h1.8v57.33h-1.8zM901.5 195.97h1.8v50.32h-1.8zM903 155.95h1.8v11.31h-1.8zM903 186.96h1.8v42.32h-1.8zM904.5 155.95h1.8v59.33h-1.8zM906 155.95h1.8v43.32h-1.8zM907.5 155.95h1.8v35.32h-1.8zM909 155.95h1.8v36.32h-1.8zM910.5 155.95h1.8v32.32h-1.8z"/>
<path fill="#ff9800" d="M759 195.97h1.8v34.32h-1.8zM760.5 185.96h1.8v74.34h-1.8zM762 182.96h1.8v77.34h-1.8zM763.5 209.98h1.8v50.32h-1.8zM885 216.98h1.8v43.32h-1.8zM886.5 225.98h1.8v34.32h-1.8zM888 224.98h1.8v35.32h-1.8zM889.5 160.95h1.8v99.35h-1.8zM891 155.95h1.8v92.34h-1.8zM892.5 194.97h1.8v35.32h-1.8zM894 193.97h1.8v27.31h-1.8zM895.5 155.95h1.8v64.33h-1.8zM897 155.95h1.8v64.33h-1.8zM898.5 161.95h1.8v54.33h-1.8zM900 155.95h1.8v47.32h-1.8zM901.5 155.95h1.8v40.32h-1.8zM903 166.96h1.8v20.31h-1.8z"/>
<path fill="#ff5010" d="M885 155.95h1.8v61.33h-1.8zM886.5 155.95h1.8v70.33h-1.8zM888 155.95h1.8v69.33h-1.8zM889.5 155.95h1.8v5.3h-1.8zM898.5 155.95h1.8v6.3h-1.8z"/>
</g>
<g filter="url(#bl)" shape-rendering="crispEdges">
<path fill="#4040f5" d="M265 280.8h1.8v4.3h-1.8zM266.5 280.8h1.8v5.3h-1.8z"/>
<path fill="#3058c8" d="M262 280.8h1.8v2.3h-1.8zM263.5 280.8h1.8v14.3h-1.8zM265 284.8h1.8v14.3h-1.8zM266.5 285.8h1.8v13.3h-1.8zM268 280.8h1.8v14.3h-1.8zM269.5 280.8h1.8v6.3h-1.8z"/>
<path fill="#207898" d="M260.5 280.8h1.8v2.3h-1.8zM262 282.8h1.8v23.3h-1.8zM263.5 294.8h1.8v22.3h-1.8zM265 298.8h1.8v20.3h-1.8zM266.5 298.8h1.8v18.3h-1.8zM268 294.8h1.8v37.3h-1.8zM269.5 286.8h1.8v46.3h-1.8zM271 280.8h1.8v37.3h-1.8zM272.5 287.8h1.8v20.3h-1.8z"/>
<path fill="#0f9058" d="M233.5 280.8h1.8v2.3h-1.8zM235 280.8h1.8v20.3h-1.8zM236.5 280.8h1.8v38.3h-1.8zM238 280.8h1.8v43.3h-1.8zM239.5 280.8h1.8v44.3h-1.8zM241 280.8h1.8v43.3h-1.8zM242.5 280.8h1.8v33.3h-1.8zM244 280.8h1.8v15.3h-1.8zM256 280.8h1.8v17.3h-1.8zM257.5 280.8h1.8v24.3h-1.8zM259 280.8h1.8v25.3h-1.8zM260.5 282.8h1.8v28.3h-1.8zM262 305.8h1.8v29.3h-1.8zM263.5 316.8h1.8v27.3h-1.8zM265 318.8h1.8v27.3h-1.8zM266.5 316.8h1.8v30.3h-1.8zM268 331.8h1.8v28.3h-1.8zM269.5 332.8h1.8v26.3h-1.8zM271 317.8h1.8v33.3h-1.8zM272.5 280.8h1.8v7.3h-1.8zM272.5 307.8h1.8v29.3h-1.8zM274 291.8h1.8v15.3h-1.8z"/>
<path fill="#28a040" d="M127 280.8h1.8v41.3h-1.8zM128.5 280.8h1.8v42.3h-1.8zM130 280.8h1.8v42.3h-1.8zM131.5 280.8h1.8v8.3h-1.8zM167.5 280.8h1.8v1.3h-1.8zM169 280.8h1.8v15.3h-1.8zM170.5 280.8h1.8v32.3h-1.8zM172 280.8h1.8v37.3h-1.8zM173.5 280.8h1.8v38.3h-1.8zM175 280.8h1.8v37.3h-1.8zM176.5 280.8h1.8v33.3h-1.8zM178 280.8h1.8v21.3h-1.8zM179.5 280.8h1.8v19.3h-1.8zM181 280.8h1.8v15.3h-1.8zM182.5 280.8h1.8v7.3h-1.8zM230.5 280.8h1.8v4.3h-1.8zM232 280.8h1.8v19.3h-1.8zM233.5 282.8h1.8v54.3h-1.8zM235 300.8h1.8v48.3h-1.8zM236.5 318.8h1.8v44.3h-1.8zM238 323.8h1.8v42.3h-1.8zM239.5 324.8h1.8v40.3h-1.8zM241 323.8h1.8v38.3h-1.8zM242.5 313.8h1.8v38.3h-1.8zM244 295.8h1.8v49.3h-1.8zM245.5 280.8h1.8v56.3h-1.8zM247 280.8h1.8v41.3h-1.8zM248.5 304.8h1.8v3.3h-1.8zM253 280.8h1.8v34.3h-1.8zM254.5 280.8h1.8v40.3h-1.8zM256 297.8h1.8v25.3h-1.8zM257.5 304.8h1.8v22.3h-1.8zM259 305.8h1.8v35.3h-1.8zM260.5 310.8h1.8v41.3h-1.8zM262 334.8h1.8v31.3h-1.8zM263.5 343.8h1.8v29.3h-1.8zM265 345.8h1.8v28.3h-1.8zM266.5 346.8h1.8v26.3h-1.8zM268 359.8h1.8v16.3h-1.8zM269.5 358.8h1.8v15.3h-1.8zM271 350.8h1.8v19.3h-1.8zM272.5 336.8h1.8v25.3h-1.8zM274 280.8h1.8v11.3h-1.8zM274 306.8h1.8v42.3h-1.8zM275.5 280.8h1.8v56.3h-1.8zM290.5 280.8h1.8v4.3h-1.8z"/>
<path fill="#50b430" d="M127 321.8h1.8v46.3h-1.8zM128.5 322.8h1.8v47.3h-1.8zM130 322.8h1.8v49.3h-1.8zM131.5 288.8h1.8v53.3h-1.8zM133 280.8h1.8v23.3h-1.8zM134.5 280.8h1.8v8.3h-1.8zM148 280.8h1.8v11.3h-1.8zM149.5 280.8h1.8v22.3h-1.8zM151 280.8h1.8v36.3h-1.8zM152.5 280.8h1.8v44.3h-1.8zM154 280.8h1.8v47.3h-1.8zM155.5 280.8h1.8v47.3h-1.8zM157 280.8h1.8v40.3h-1.8zM158.5 280.8h1.8v26.3h-1.8zM164.5 280.8h1.8v1.3h-1.8zM166 280.8h1.8v13.3h-1.8zM167.5 281.8h1.8v32.3h-1.8zM169 295.8h1.8v34.3h-1.8zM170.5 312.8h1.8v23.3h-1.8zM172 317.8h1.8v45.3h-1.8zM173.5 318.8h1.8v30.3h-1.8zM175 317.8h1.8v25.3h-1.8zM176.5 313.8h1.8v24.3h-1.8zM178 301.8h1.8v24.3h-1.8zM179.5 299.8h1.8v25.3h-1.8zM181 295.8h1.8v24.3h-1.8zM182.5 287.8h1.8v23.3h-1.8zM184 280.8h1.8v18.3h-1.8zM185.5 280.8h1.8v11.3h-1.8zM191.5 280.8h1.8v8.3h-1.8zM193 280.8h1.8v16.3h-1.8zM194.5 280.8h1.8v16.3h-1.8zM212.5 280.8h1.8v13.3h-1.8zM214 280.8h1.8v20.3h-1.8zM215.5 280.8h1.8v24.3h-1.8zM217 280.8h1.8v28.3h-1.8zM218.5 280.8h1.8v30.3h-1.8zM220 280.8h1.8v30.3h-1.8zM221.5 280.8h1.8v29.3h-1.8zM223 280.8h1.8v30.3h-1.8zM224.5 280.8h1.8v32.3h-1.8zM226 280.8h1.8v35.3h-1.8zM227.5 280.8h1.8v39.3h-1.8zM229 280.8h1.8v47.3h-1.8zM230.5 284.8h1.8v56.3h-1.8zM232 299.8h1.8v51.3h-1.8zM233.5 336.8h1.8v28.3h-1.8zM235 348.8h1.8v26.3h-1.8zM236.5 362.8h1.8v15.3h-1.8zM238 365.8h1.8v13.3h-1.8zM239.5 364.8h1.8v12.3h-1.8zM241 361.8h1.8v13.3h-1.8zM242.5 351.8h1.8v19.3h-1.8zM244 344.8h1.8v19.3h-1.8zM245.5 336.8h1.8v21.3h-1.8zM247 321.8h1.8v26.3h-1.8zM248.5 280.8h1.8v24.3h-1.8zM248.5 307.8h1.8v27.3h-1.8zM250 280.8h1.8v57.3h-1.8zM251.5 280.8h1.8v65.3h-1.8zM253 314.8h1.8v49.3h-1.8zM254.5 320.8h1.8v53.3h-1.8zM256 322.8h1.8v54.3h-1.8zM257.5 326.8h1.8v54.3h-1.8zM259 340.8h1.8v42.3h-1.8zM260.5 351.8h1.8v33.3h-1.8zM262 365.8h1.8v19.3h-1.8zM263.5 372.8h1.8v12.3h-1.8zM265 373.8h1.8v11.3h-1.8zM266.5 372.8h1.8v12.3h-1.8zM268 375.8h1.8v9.3h-1.8zM269.5 373.8h1.8v11.3h-1.8zM271 369.8h1.8v15.3h-1.8zM272.5 361.8h1.8v22.3h-1.8zM274 348.8h1.8v23.3h-1.8zM275.5 336.8h1.8v25.3h-1.8zM277 280.8h1.8v71.3h-1.8zM278.5 280.8h1.8v59.3h-1.8zM280 280.8h1.8v44.3h-1.8zM281.5 280.8h1.8v40.3h-1.8zM283 280.8h1.8v39.3h-1.8zM284.5 280.8h1.8v36.3h-1.8zM286 280.8h1.8v14.3h-1.8zM287.5 280.8h1.8v16.3h-1.8zM289 280.8h1.8v24.3h-1.8zM290.5 284.8h1.8v28.3h-1.8z"/>
<path fill="#80cc20" d="M127 367.8h1.8v17.3h-1.8zM128.5 369.8h1.8v15.3h-1.8zM130 371.8h1.8v13.3h-1.8zM131.5 341.8h1.8v43.3h-1.8zM133 303.8h1.8v50.3h-1.8zM134.5 288.8h1.8v47.3h-1.8zM136 280.8h1.8v21.3h-1.8zM137.5 280.8h1.8v15.3h-1.8zM142 280.8h1.8v14.3h-1.8zM143.5 280.8h1.8v14.3h-1.8zM145 280.8h1.8v16.3h-1.8zM146.5 280.8h1.8v22.3h-1.8zM148 291.8h1.8v27.3h-1.8zM149.5 302.8h1.8v30.3h-1.8zM151 316.8h1.8v27.3h-1.8zM152.5 324.8h1.8v34.3h-1.8zM154 327.8h1.8v43.3h-1.8zM155.5 327.8h1.8v38.3h-1.8zM157 320.8h1.8v32.3h-1.8zM158.5 306.8h1.8v33.3h-1.8zM160 280.8h1.8v40.3h-1.8zM161.5 280.8h1.8v23.3h-1.8zM163 280.8h1.8v19.3h-1.8zM164.5 281.8h1.8v23.3h-1.8zM166 293.8h1.8v52.3h-1.8zM167.5 313.8h1.8v63.3h-1.8zM169 329.8h1.8v55.3h-1.8zM170.5 335.8h1.8v49.3h-1.8zM172 362.8h1.8v22.3h-1.8zM173.5 348.8h1.8v35.3h-1.8zM175 342.8h1.8v34.3h-1.8zM176.5 337.8h1.8v38.3h-1.8zM178 325.8h1.8v52.3h-1.8zM179.5 324.8h1.8v48.3h-1.8zM181 319.8h1.8v35.3h-1.8zM182.5 310.8h1.8v27.3h-1.8zM184 298.8h1.8v23.3h-1.8zM185.5 291.8h1.8v29.3h-1.8zM187 280.8h1.8v41.3h-1.8zM188.5 280.8h1.8v42.3h-1.8zM190 280.8h1.8v44.3h-1.8zM191.5 288.8h1.8v35.3h-1.8zM193 296.8h1.8v27.3h-1.8zM194.5 296.8h1.8v28.3h-1.8zM196 280.8h1.8v42.3h-1.8zM197.5 280.8h1.8v39.3h-1.8zM199 280.8h1.8v34.3h-1.8zM200.5 280.8h1.8v28.3h-1.8zM202 280.8h1.8v29.3h-1.8zM203.5 280.8h1.8v31.3h-1.8zM205 280.8h1.8v32.3h-1.8zM206.5 280.8h1.8v34.3h-1.8zM208 280.8h1.8v38.3h-1.8zM209.5 280.8h1.8v47.3h-1.8zM211 280.8h1.8v60.3h-1.8zM212.5 293.8h1.8v57.3h-1.8zM214 300.8h1.8v56.3h-1.8zM215.5 304.8h1.8v52.3h-1.8zM217 308.8h1.8v42.3h-1.8zM218.5 310.8h1.8v30.3h-1.8zM220 310.8h1.8v27.3h-1.8zM221.5 309.8h1.8v27.3h-1.8zM223 310.8h1.8v28.3h-1.8zM224.5 312.8h1.8v32.3h-1.8zM226 315.8h1.8v45.3h-1.8zM227.5 319.8h1.8v46.3h-1.8zM229 327.8h1.8v43.3h-1.8zM230.5 340.8h1.8v43.3h-1.8zM232 350.8h1.8v34.3h-1.8zM233.5 364.8h1.8v20.3h-1.8zM235 374.8h1.8v10.3h-1.8zM236.5 377.8h1.8v7.3h-1.8zM238 378.8h1.8v6.3h-1.8zM239.5 376.8h1.8v8.3h-1.8zM241 374.8h1.8v10.3h-1.8zM242.5 370.8h1.8v14.3h-1.8zM244 363.8h1.8v19.3h-1.8zM245.5 357.8h1.8v19.3h-1.8zM247 347.8h1.8v24.3h-1.8zM248.5 334.8h1.8v31.3h-1.8zM250 337.8h1.8v33.3h-1.8zM251.5 345.8h1.8v31.3h-1.8zM253 363.8h1.8v21.3h-1.8zM254.5 373.8h1.8v11.3h-1.8zM256 376.8h1.8v8.3h-1.8zM257.5 380.8h1.8v4.3h-1.8zM259 382.8h1.8v2.3h-1.8zM272.5 383.8h1.8v1.3h-1.8zM274 371.8h1.8v13.3h-1.8zM275.5 361.8h1.8v22.3h-1.8zM277 351.8h1.8v24.3h-1.8zM278.5 339.8h1.8v28.3h-1.8zM280 324.8h1.8v34.3h-1.8zM281.5 320.8h1.8v31.3h-1.8zM283 319.8h1.8v29.3h-1.8zM284.5 316.8h1.8v31.3h-1.8zM286 294.8h1.8v35.3h-1.8zM287.5 296.8h1.8v29.3h-1.8zM289 304.8h1.8v28.3h-1.8zM290.5 312.8h1.8v24.3h-1.8zM292 280.8h1.8v36.3h-1.8zM389.5 301.8h1.8v83.3h-1.8zM391 293.8h1.8v91.3h-1.8zM392.5 296.8h1.8v88.3h-1.8zM394 311.8h1.8v73.3h-1.8zM395.5 315.8h1.8v69.3h-1.8zM397 322.8h1.8v17.3h-1.8zM397 371.8h1.8v13.3h-1.8zM398.5 382.8h1.8v2.3h-1.8z"/>
<path fill="#b0dc20" d="M133 353.8h1.8v31.3h-1.8zM134.5 335.8h1.8v34.3h-1.8zM136 301.8h1.8v54.3h-1.8zM137.5 295.8h1.8v61.3h-1.8zM139 280.8h1.8v77.3h-1.8zM140.5 280.8h1.8v74.3h-1.8zM142 294.8h1.8v54.3h-1.8zM143.5 294.8h1.8v52.3h-1.8zM145 296.8h1.8v50.3h-1.8zM146.5 302.8h1.8v43.3h-1.8zM148 318.8h1.8v28.3h-1.8zM149.5 332.8h1.8v23.3h-1.8zM151 343.8h1.8v32.3h-1.8zM152.5 358.8h1.8v26.3h-1.8zM154 370.8h1.8v14.3h-1.8zM155.5 365.8h1.8v19.3h-1.8zM157 352.8h1.8v32.3h-1.8zM158.5 339.8h1.8v38.3h-1.8zM160 320.8h1.8v51.3h-1.8zM161.5 303.8h1.8v62.3h-1.8zM163 299.8h1.8v62.3h-1.8zM164.5 304.8h1.8v80.3h-1.8zM166 345.8h1.8v39.3h-1.8zM167.5 376.8h1.8v8.3h-1.8zM173.5 383.8h1.8v1.3h-1.8zM175 376.8h1.8v8.3h-1.8zM176.5 375.8h1.8v9.3h-1.8zM178 377.8h1.8v7.3h-1.8zM179.5 372.8h1.8v12.3h-1.8zM181 354.8h1.8v30.3h-1.8zM182.5 337.8h1.8v47.3h-1.8zM184 321.8h1.8v52.3h-1.8zM185.5 320.8h1.8v46.3h-1.8zM187 321.8h1.8v30.3h-1.8zM188.5 322.8h1.8v25.3h-1.8zM190 324.8h1.8v25.3h-1.8zM191.5 323.8h1.8v45.3h-1.8zM193 323.8h1.8v54.3h-1.8zM194.5 324.8h1.8v54.3h-1.8zM196 322.8h1.8v51.3h-1.8zM197.5 319.8h1.8v44.3h-1.8zM199 314.8h1.8v33.3h-1.8zM200.5 308.8h1.8v32.3h-1.8zM202 309.8h1.8v28.3h-1.8zM203.5 311.8h1.8v23.3h-1.8zM205 312.8h1.8v21.3h-1.8zM206.5 314.8h1.8v21.3h-1.8zM208 318.8h1.8v26.3h-1.8zM209.5 327.8h1.8v29.3h-1.8zM209.5 370.8h1.8v14.3h-1.8zM211 340.8h1.8v44.3h-1.8zM212.5 350.8h1.8v34.3h-1.8zM214 356.8h1.8v28.3h-1.8zM215.5 356.8h1.8v28.3h-1.8zM217 350.8h1.8v34.3h-1.8zM218.5 340.8h1.8v44.3h-1.8zM220 337.8h1.8v47.3h-1.8zM221.5 336.8h1.8v48.3h-1.8zM223 338.8h1.8v46.3h-1.8zM224.5 344.8h1.8v40.3h-1.8zM226 360.8h1.8v24.3h-1.8zM227.5 365.8h1.8v19.3h-1.8zM229 370.8h1.8v14.3h-1.8zM230.5 383.8h1.8v1.3h-1.8zM244 382.8h1.8v2.3h-1.8zM245.5 376.8h1.8v8.3h-1.8zM247 371.8h1.8v13.3h-1.8zM248.5 365.8h1.8v19.3h-1.8zM250 370.8h1.8v14.3h-1.8zM251.5 376.8h1.8v8.3h-1.8zM275.5 383.8h1.8v1.3h-1.8zM277 375.8h1.8v9.3h-1.8zM278.5 367.8h1.8v17.3h-1.8zM280 358.8h1.8v26.3h-1.8zM281.5 351.8h1.8v33.3h-1.8zM283 348.8h1.8v32.3h-1.8zM284.5 347.8h1.8v24.3h-1.8zM286 329.8h1.8v38.3h-1.8zM287.5 325.8h1.8v38.3h-1.8zM289 332.8h1.8v24.3h-1.8zM290.5 336.8h1.8v15.3h-1.8zM292 316.8h1.8v31.3h-1.8zM293.5 280.8h1.8v48.3h-1.8zM295 280.8h1.8v22.3h-1.8zM296.5 280.8h1.8v14.3h-1.8zM298 280.8h1.8v12.3h-1.8zM299.5 280.8h1.8v18.3h-1.8zM301 280.8h1.8v34.3h-1.8zM302.5 280.8h1.8v51.3h-1.8zM304 280.8h1.8v39.3h-1.8zM305.5 280.8h1.8v31.3h-1.8zM307 280.8h1.8v2.3h-1.8zM316 280.8h1.8v38.3h-1.8zM317.5 280.8h1.8v40.3h-1.8zM319 280.8h1.8v43.3h-1.8zM320.5 280.8h1.8v43.3h-1.8zM322 280.8h1.8v39.3h-1.8zM323.5 280.8h1.8v36.3h-1.8zM325 280.8h1.8v3.3h-1.8zM341.5 379.8h1.8v5.3h-1.8zM343 370.8h1.8v14.3h-1.8zM344.5 280.8h1.8v104.3h-1.8zM346 280.8h1.8v104.3h-1.8zM347.5 280.8h1.8v104.3h-1.8zM349 280.8h1.8v42.3h-1.8zM349 343.8h1.8v41.3h-1.8zM370 376.8h1.8v8.3h-1.8zM371.5 370.8h1.8v14.3h-1.8zM373 280.8h1.8v104.3h-1.8zM374.5 280.8h1.8v104.3h-1.8zM376 280.8h1.8v100.3h-1.8zM377.5 317.8h1.8v21.3h-1.8zM388 280.8h1.8v104.3h-1.8zM389.5 280.8h1.8v21.3h-1.8zM391 280.8h1.8v13.3h-1.8zM392.5 280.8h1.8v16.3h-1.8zM394 280.8h1.8v31.3h-1.8zM395.5 280.8h1.8v35.3h-1.8zM397 280.8h1.8v42.3h-1.8zM397 339.8h1.8v32.3h-1.8zM398.5 280.8h1.8v102.3h-1.8zM400 280.8h1.8v104.3h-1.8zM401.5 280.8h1.8v70.3h-1.8zM401.5 363.8h1.8v21.3h-1.8zM427 294.8h1.8v24.3h-1.8z"/>
<path fill="#eaf80c" d="M134.5 369.8h1.8v15.3h-1.8zM136 355.8h1.8v21.3h-1.8zM137.5 356.8h1.8v18.3h-1.8zM139 357.8h1.8v17.3h-1.8zM140.5 354.8h1.8v20.3h-1.8zM142 348.8h1.8v24.3h-1.8zM143.5 346.8h1.8v34.3h-1.8zM145 346.8h1.8v38.3h-1.8zM146.5 345.8h1.8v39.3h-1.8zM148 346.8h1.8v38.3h-1.8zM149.5 355.8h1.8v29.3h-1.8zM151 375.8h1.8v9.3h-1.8zM158.5 377.8h1.8v7.3h-1.8zM160 371.8h1.8v13.3h-1.8zM161.5 365.8h1.8v19.3h-1.8zM163 361.8h1.8v23.3h-1.8zM184 373.8h1.8v11.3h-1.8zM185.5 366.8h1.8v18.3h-1.8zM187 351.8h1.8v33.3h-1.8zM188.5 347.8h1.8v37.3h-1.8zM190 349.8h1.8v35.3h-1.8zM191.5 368.8h1.8v16.3h-1.8zM193 377.8h1.8v7.3h-1.8zM194.5 378.8h1.8v6.3h-1.8zM196 373.8h1.8v11.3h-1.8zM197.5 363.8h1.8v21.3h-1.8zM199 347.8h1.8v37.3h-1.8zM200.5 340.8h1.8v40.3h-1.8zM202 337.8h1.8v38.3h-1.8zM203.5 334.8h1.8v45.3h-1.8zM205 333.8h1.8v51.3h-1.8zM206.5 335.8h1.8v49.3h-1.8zM208 344.8h1.8v40.3h-1.8zM209.5 356.8h1.8v14.3h-1.8zM283 380.8h1.8v4.3h-1.8zM284.5 371.8h1.8v13.3h-1.8zM286 367.8h1.8v17.3h-1.8zM287.5 363.8h1.8v20.3h-1.8zM289 356.8h1.8v27.3h-1.8zM290.5 351.8h1.8v33.3h-1.8zM292 347.8h1.8v37.3h-1.8zM293.5 328.8h1.8v56.3h-1.8zM295 302.8h1.8v82.3h-1.8zM296.5 294.8h1.8v79.3h-1.8zM298 292.8h1.8v61.3h-1.8zM299.5 298.8h1.8v50.3h-1.8zM301 314.8h1.8v39.3h-1.8zM302.5 331.8h1.8v30.3h-1.8zM304 319.8h1.8v28.3h-1.8zM305.5 311.8h1.8v33.3h-1.8zM307 282.8h1.8v67.3h-1.8zM308.5 280.8h1.8v73.3h-1.8zM310 280.8h1.8v65.3h-1.8zM311.5 280.8h1.8v66.3h-1.8zM313 280.8h1.8v67.3h-1.8zM314.5 280.8h1.8v71.3h-1.8zM316 318.8h1.8v66.3h-1.8zM317.5 320.8h1.8v64.3h-1.8zM319 323.8h1.8v61.3h-1.8zM320.5 323.8h1.8v61.3h-1.8zM322 319.8h1.8v65.3h-1.8zM323.5 316.8h1.8v66.3h-1.8zM325 283.8h1.8v92.3h-1.8zM326.5 280.8h1.8v88.3h-1.8zM328 280.8h1.8v2.3h-1.8zM338.5 340.8h1.8v44.3h-1.8zM340 325.8h1.8v59.3h-1.8zM341.5 280.8h1.8v99.3h-1.8zM343 280.8h1.8v90.3h-1.8zM349 322.8h1.8v21.3h-1.8zM350.5 280.8h1.8v104.3h-1.8zM352 280.8h1.8v104.3h-1.8zM353.5 280.8h1.8v104.3h-1.8zM355 280.8h1.8v104.3h-1.8zM356.5 280.8h1.8v104.3h-1.8zM358 280.8h1.8v47.3h-1.8zM358 338.8h1.8v46.3h-1.8zM359.5 280.8h1.8v104.3h-1.8zM361 280.8h1.8v104.3h-1.8zM362.5 280.8h1.8v104.3h-1.8zM364 280.8h1.8v104.3h-1.8zM365.5 280.8h1.8v14.3h-1.8zM365.5 312.8h1.8v72.3h-1.8zM367 316.8h1.8v68.3h-1.8zM368.5 280.8h1.8v5.3h-1.8zM368.5 311.8h1.8v73.3h-1.8zM370 280.8h1.8v96.3h-1.8zM371.5 280.8h1.8v90.3h-1.8zM376 380.8h1.8v4.3h-1.8zM377.5 280.8h1.8v37.3h-1.8zM377.5 338.8h1.8v46.3h-1.8zM379 280.8h1.8v104.3h-1.8zM380.5 280.8h1.8v104.3h-1.8zM382 280.8h1.8v104.3h-1.8zM383.5 280.8h1.8v104.3h-1.8zM385 280.8h1.8v104.3h-1.8zM386.5 280.8h1.8v104.3h-1.8zM401.5 350.8h1.8v13.3h-1.8zM403 280.8h1.8v104.3h-1.8zM404.5 280.8h1.8v104.3h-1.8zM406 280.8h1.8v104.3h-1.8zM410.5 330.8h1.8v8.3h-1.8zM412 345.8h1.8v39.3h-1.8zM413.5 348.8h1.8v36.3h-1.8zM415 355.8h1.8v29.3h-1.8zM421 280.8h1.8v10.3h-1.8zM422.5 280.8h1.8v30.3h-1.8zM424 280.8h1.8v104.3h-1.8zM425.5 280.8h1.8v104.3h-1.8zM427 280.8h1.8v14.3h-1.8zM427 318.8h1.8v66.3h-1.8zM428.5 280.8h1.8v104.3h-1.8zM430 280.8h1.8v104.3h-1.8zM431.5 280.8h1.8v104.3h-1.8zM433 287.8h1.8v97.3h-1.8zM434.5 294.8h1.8v90.3h-1.8zM436 300.8h1.8v84.3h-1.8zM437.5 312.8h1.8v72.3h-1.8zM439 318.8h1.8v66.3h-1.8zM440.5 322.8h1.8v62.3h-1.8zM442 323.8h1.8v61.3h-1.8zM443.5 318.8h1.8v66.3h-1.8zM445 280.8h1.8v104.3h-1.8zM446.5 280.8h1.8v104.3h-1.8zM448 280.8h1.8v104.3h-1.8z"/>
<path fill="#ffe400" d="M136 376.8h1.8v8.3h-1.8zM137.5 374.8h1.8v10.3h-1.8zM139 374.8h1.8v10.3h-1.8zM140.5 374.8h1.8v10.3h-1.8zM142 372.8h1.8v12.3h-1.8zM143.5 380.8h1.8v4.3h-1.8zM200.5 380.8h1.8v4.3h-1.8zM202 375.8h1.8v9.3h-1.8zM203.5 379.8h1.8v5.3h-1.8zM287.5 383.8h1.8v1.3h-1.8zM289 383.8h1.8v1.3h-1.8zM296.5 373.8h1.8v11.3h-1.8zM298 353.8h1.8v31.3h-1.8zM299.5 348.8h1.8v36.3h-1.8zM301 353.8h1.8v31.3h-1.8zM302.5 361.8h1.8v22.3h-1.8zM304 347.8h1.8v37.3h-1.8zM305.5 344.8h1.8v40.3h-1.8zM307 349.8h1.8v35.3h-1.8zM308.5 353.8h1.8v31.3h-1.8zM310 345.8h1.8v28.3h-1.8zM311.5 346.8h1.8v38.3h-1.8zM313 347.8h1.8v37.3h-1.8zM314.5 351.8h1.8v33.3h-1.8zM323.5 382.8h1.8v2.3h-1.8zM325 375.8h1.8v9.3h-1.8zM326.5 368.8h1.8v16.3h-1.8zM328 282.8h1.8v102.3h-1.8zM329.5 280.8h1.8v104.3h-1.8zM331 280.8h1.8v104.3h-1.8zM332.5 280.8h1.8v104.3h-1.8zM334 280.8h1.8v104.3h-1.8zM335.5 280.8h1.8v104.3h-1.8zM337 280.8h1.8v104.3h-1.8zM338.5 280.8h1.8v60.3h-1.8zM340 280.8h1.8v45.3h-1.8zM358 327.8h1.8v11.3h-1.8zM365.5 294.8h1.8v18.3h-1.8zM367 280.8h1.8v36.3h-1.8zM368.5 285.8h1.8v26.3h-1.8zM407.5 280.8h1.8v104.3h-1.8zM409 280.8h1.8v104.3h-1.8zM410.5 280.8h1.8v50.3h-1.8zM410.5 338.8h1.8v46.3h-1.8zM412 280.8h1.8v65.3h-1.8zM413.5 280.8h1.8v68.3h-1.8zM415 280.8h1.8v75.3h-1.8zM416.5 280.8h1.8v104.3h-1.8zM418 280.8h1.8v104.3h-1.8zM419.5 280.8h1.8v104.3h-1.8zM421 290.8h1.8v94.3h-1.8zM422.5 310.8h1.8v74.3h-1.8zM433 280.8h1.8v7.3h-1.8zM434.5 280.8h1.8v14.3h-1.8zM436 280.8h1.8v20.3h-1.8zM437.5 280.8h1.8v32.3h-1.8zM439 280.8h1.8v38.3h-1.8zM440.5 280.8h1.8v42.3h-1.8zM442 280.8h1.8v43.3h-1.8zM443.5 280.8h1.8v38.3h-1.8zM449.5 280.8h1.8v104.3h-1.8zM482.5 381.8h1.8v3.3h-1.8zM484 370.8h1.8v14.3h-1.8zM485.5 360.8h1.8v24.3h-1.8z"/>
<path fill="#ffa000" d="M302.5 383.8h1.8v1.3h-1.8zM310 373.8h1.8v11.3h-1.8zM451 341.8h1.8v43.3h-1.8zM452.5 370.8h1.8v14.3h-1.8zM454 370.8h1.8v14.3h-1.8zM455.5 372.8h1.8v12.3h-1.8zM457 369.8h1.8v15.3h-1.8zM458.5 356.8h1.8v28.3h-1.8zM460 344.8h1.8v40.3h-1.8zM461.5 351.8h1.8v33.3h-1.8zM463 359.8h1.8v25.3h-1.8zM464.5 371.8h1.8v13.3h-1.8zM481 379.8h1.8v5.3h-1.8zM482.5 326.8h1.8v24.3h-1.8zM482.5 359.8h1.8v22.3h-1.8zM484 316.8h1.8v54.3h-1.8zM485.5 309.8h1.8v51.3h-1.8z"/>
<path fill="#ff6000" d="M451 280.8h1.8v61.3h-1.8zM452.5 325.8h1.8v45.3h-1.8zM454 326.8h1.8v44.3h-1.8zM455.5 326.8h1.8v46.3h-1.8zM457 324.8h1.8v45.3h-1.8zM458.5 322.8h1.8v34.3h-1.8zM460 319.8h1.8v25.3h-1.8zM461.5 325.8h1.8v26.3h-1.8zM463 337.8h1.8v22.3h-1.8zM464.5 343.8h1.8v28.3h-1.8zM466 345.8h1.8v39.3h-1.8zM467.5 353.8h1.8v31.3h-1.8zM469 366.8h1.8v18.3h-1.8zM470.5 375.8h1.8v9.3h-1.8zM479.5 372.8h1.8v12.3h-1.8zM481 280.8h1.8v99.3h-1.8zM482.5 280.8h1.8v46.3h-1.8zM482.5 350.8h1.8v9.3h-1.8zM484 280.8h1.8v36.3h-1.8zM485.5 280.8h1.8v29.3h-1.8z"/>
<path fill="#ff2010" d="M452.5 280.8h1.8v45.3h-1.8zM454 280.8h1.8v46.3h-1.8zM455.5 280.8h1.8v46.3h-1.8zM457 280.8h1.8v44.3h-1.8zM458.5 280.8h1.8v42.3h-1.8zM460 280.8h1.8v39.3h-1.8zM461.5 280.8h1.8v45.3h-1.8zM463 280.8h1.8v57.3h-1.8zM464.5 280.8h1.8v63.3h-1.8zM466 280.8h1.8v65.3h-1.8zM467.5 280.8h1.8v73.3h-1.8zM469 316.8h1.8v50.3h-1.8zM470.5 337.8h1.8v38.3h-1.8zM472 346.8h1.8v38.3h-1.8zM473.5 363.8h1.8v21.3h-1.8zM475 368.8h1.8v16.3h-1.8zM476.5 368.8h1.8v16.3h-1.8zM478 280.8h1.8v60.3h-1.8zM478 360.8h1.8v24.3h-1.8zM479.5 280.8h1.8v92.3h-1.8z"/>
<path fill="#dc0000" d="M469 280.8h1.8v36.3h-1.8zM470.5 280.8h1.8v57.3h-1.8zM472 280.8h1.8v66.3h-1.8zM473.5 280.8h1.8v5.3h-1.8zM473.5 313.8h1.8v50.3h-1.8zM475 280.8h1.8v4.3h-1.8zM475 313.8h1.8v55.3h-1.8zM476.5 280.8h1.8v88.3h-1.8zM478 340.8h1.8v20.3h-1.8z"/>
<path fill="#a00008" d="M473.5 285.8h1.8v28.3h-1.8zM475 284.8h1.8v29.3h-1.8z"/>
</g>
<g filter="url(#bl)" shape-rendering="crispEdges">
<path fill="#e000ff" d="M693 280.8h1.8v3.3h-1.8zM694.5 280.8h1.8v14.3h-1.8zM696 280.8h1.8v15.3h-1.8zM697.5 280.8h1.8v10.3h-1.8z"/>
<path fill="#8020f0" d="M693 283.8h1.8v19.3h-1.8zM694.5 294.8h1.8v20.3h-1.8zM696 295.8h1.8v26.3h-1.8zM697.5 290.8h1.8v33.3h-1.8zM699 280.8h1.8v47.3h-1.8zM700.5 287.8h1.8v27.3h-1.8z"/>
<path fill="#4838f8" d="M672 280.8h1.8v9.3h-1.8zM673.5 280.8h1.8v11.3h-1.8zM691.5 280.8h1.8v5.3h-1.8zM693 302.8h1.8v48.3h-1.8zM694.5 314.8h1.8v51.3h-1.8zM696 321.8h1.8v46.3h-1.8zM697.5 323.8h1.8v44.3h-1.8zM699 327.8h1.8v40.3h-1.8zM700.5 280.8h1.8v7.3h-1.8zM700.5 314.8h1.8v42.3h-1.8zM702 280.8h1.8v56.3h-1.8zM703.5 280.8h1.8v37.3h-1.8zM705 280.8h1.8v19.3h-1.8z"/>
<path fill="#3850d0" d="M606 280.8h1.8v13.3h-1.8zM607.5 280.8h1.8v31.3h-1.8zM609 280.8h1.8v36.3h-1.8zM610.5 280.8h1.8v35.3h-1.8zM612 280.8h1.8v27.3h-1.8zM666 280.8h1.8v8.3h-1.8zM667.5 280.8h1.8v16.3h-1.8zM669 280.8h1.8v25.3h-1.8zM670.5 280.8h1.8v45.3h-1.8zM672 289.8h1.8v34.3h-1.8zM673.5 291.8h1.8v27.3h-1.8zM675 280.8h1.8v34.3h-1.8zM676.5 280.8h1.8v27.3h-1.8zM685.5 280.8h1.8v10.3h-1.8zM687 280.8h1.8v13.3h-1.8zM688.5 280.8h1.8v17.3h-1.8zM690 280.8h1.8v28.3h-1.8zM691.5 285.8h1.8v36.3h-1.8zM693 350.8h1.8v27.3h-1.8zM694.5 365.8h1.8v19.3h-1.8zM696 367.8h1.8v17.3h-1.8zM697.5 367.8h1.8v17.3h-1.8zM699 367.8h1.8v17.3h-1.8zM700.5 356.8h1.8v28.3h-1.8zM702 336.8h1.8v44.3h-1.8zM703.5 317.8h1.8v43.3h-1.8zM705 299.8h1.8v24.3h-1.8z"/>
<path fill="#2078a0" d="M600 280.8h1.8v38.3h-1.8zM601.5 280.8h1.8v43.3h-1.8zM603 280.8h1.8v45.3h-1.8zM604.5 280.8h1.8v61.3h-1.8zM606 293.8h1.8v54.3h-1.8zM607.5 311.8h1.8v33.3h-1.8zM609 316.8h1.8v23.3h-1.8zM610.5 315.8h1.8v19.3h-1.8zM612 307.8h1.8v20.3h-1.8zM613.5 280.8h1.8v27.3h-1.8zM646.5 280.8h1.8v18.3h-1.8zM648 280.8h1.8v37.3h-1.8zM649.5 280.8h1.8v37.3h-1.8zM651 280.8h1.8v27.3h-1.8zM652.5 280.8h1.8v13.3h-1.8zM654 280.8h1.8v4.3h-1.8zM658.5 280.8h1.8v6.3h-1.8zM660 280.8h1.8v12.3h-1.8zM661.5 280.8h1.8v20.3h-1.8zM663 280.8h1.8v55.3h-1.8zM664.5 280.8h1.8v64.3h-1.8zM666 288.8h1.8v60.3h-1.8zM667.5 296.8h1.8v52.3h-1.8zM669 305.8h1.8v44.3h-1.8zM670.5 325.8h1.8v25.3h-1.8zM672 323.8h1.8v25.3h-1.8zM673.5 318.8h1.8v27.3h-1.8zM675 314.8h1.8v26.3h-1.8zM676.5 307.8h1.8v24.3h-1.8zM678 280.8h1.8v40.3h-1.8zM679.5 283.8h1.8v27.3h-1.8zM681 280.8h1.8v33.3h-1.8zM682.5 280.8h1.8v42.3h-1.8zM684 280.8h1.8v54.3h-1.8zM685.5 290.8h1.8v47.3h-1.8zM687 293.8h1.8v48.3h-1.8zM688.5 297.8h1.8v52.3h-1.8zM690 308.8h1.8v58.3h-1.8zM691.5 321.8h1.8v54.3h-1.8zM693 377.8h1.8v7.3h-1.8zM702 380.8h1.8v4.3h-1.8zM703.5 360.8h1.8v24.3h-1.8zM705 323.8h1.8v48.3h-1.8zM706.5 280.8h1.8v35.3h-1.8z"/>
<path fill="#109060" d="M558 280.8h1.8v104.3h-1.8zM559.5 280.8h1.8v102.3h-1.8zM561 280.8h1.8v97.3h-1.8zM562.5 280.8h1.8v87.3h-1.8zM564 280.8h1.8v25.3h-1.8zM577.5 280.8h1.8v14.3h-1.8zM579 280.8h1.8v36.3h-1.8zM580.5 280.8h1.8v38.3h-1.8zM582 280.8h1.8v36.3h-1.8zM583.5 280.8h1.8v29.3h-1.8zM597 280.8h1.8v60.3h-1.8zM598.5 280.8h1.8v67.3h-1.8zM600 318.8h1.8v46.3h-1.8zM601.5 323.8h1.8v57.3h-1.8zM603 325.8h1.8v59.3h-1.8zM604.5 341.8h1.8v43.3h-1.8zM606 347.8h1.8v37.3h-1.8zM607.5 344.8h1.8v40.3h-1.8zM609 339.8h1.8v35.3h-1.8zM610.5 334.8h1.8v22.3h-1.8zM612 327.8h1.8v19.3h-1.8zM613.5 307.8h1.8v27.3h-1.8zM615 280.8h1.8v6.3h-1.8zM645 280.8h1.8v25.3h-1.8zM646.5 298.8h1.8v34.3h-1.8zM648 317.8h1.8v24.3h-1.8zM649.5 317.8h1.8v24.3h-1.8zM651 307.8h1.8v24.3h-1.8zM652.5 293.8h1.8v31.3h-1.8zM654 284.8h1.8v28.3h-1.8zM655.5 280.8h1.8v19.3h-1.8zM657 280.8h1.8v21.3h-1.8zM658.5 286.8h1.8v20.3h-1.8zM660 292.8h1.8v29.3h-1.8zM661.5 300.8h1.8v38.3h-1.8zM663 335.8h1.8v20.3h-1.8zM664.5 344.8h1.8v22.3h-1.8zM666 348.8h1.8v22.3h-1.8zM667.5 348.8h1.8v23.3h-1.8zM669 349.8h1.8v23.3h-1.8zM670.5 350.8h1.8v23.3h-1.8zM672 348.8h1.8v24.3h-1.8zM673.5 345.8h1.8v25.3h-1.8zM675 340.8h1.8v33.3h-1.8zM676.5 331.8h1.8v23.3h-1.8zM678 320.8h1.8v21.3h-1.8zM679.5 280.8h1.8v3.3h-1.8zM679.5 310.8h1.8v24.3h-1.8zM681 313.8h1.8v31.3h-1.8zM682.5 322.8h1.8v33.3h-1.8zM684 334.8h1.8v50.3h-1.8zM685.5 337.8h1.8v47.3h-1.8zM687 341.8h1.8v43.3h-1.8zM688.5 349.8h1.8v35.3h-1.8zM690 366.8h1.8v18.3h-1.8zM691.5 375.8h1.8v9.3h-1.8zM705 371.8h1.8v13.3h-1.8zM706.5 315.8h1.8v49.3h-1.8zM708 280.8h1.8v39.3h-1.8zM709.5 280.8h1.8v37.3h-1.8zM711 280.8h1.8v38.3h-1.8zM712.5 280.8h1.8v36.3h-1.8zM714 280.8h1.8v25.3h-1.8zM715.5 280.8h1.8v10.3h-1.8zM717 280.8h1.8v5.3h-1.8z"/>
<path fill="#18a048" d="M559.5 382.8h1.8v2.3h-1.8zM561 377.8h1.8v7.3h-1.8zM562.5 367.8h1.8v17.3h-1.8zM564 305.8h1.8v74.3h-1.8zM565.5 280.8h1.8v38.3h-1.8zM574.5 280.8h1.8v16.3h-1.8zM574.5 328.8h1.8v5.3h-1.8zM576 280.8h1.8v62.3h-1.8zM577.5 294.8h1.8v53.3h-1.8zM579 316.8h1.8v30.3h-1.8zM580.5 318.8h1.8v38.3h-1.8zM582 316.8h1.8v55.3h-1.8zM583.5 309.8h1.8v59.3h-1.8zM585 280.8h1.8v69.3h-1.8zM586.5 280.8h1.8v61.3h-1.8zM595.5 280.8h1.8v67.3h-1.8zM597 340.8h1.8v44.3h-1.8zM598.5 347.8h1.8v37.3h-1.8zM600 364.8h1.8v20.3h-1.8zM601.5 380.8h1.8v4.3h-1.8zM609 374.8h1.8v10.3h-1.8zM610.5 356.8h1.8v28.3h-1.8zM612 346.8h1.8v38.3h-1.8zM613.5 334.8h1.8v19.3h-1.8zM615 286.8h1.8v46.3h-1.8zM616.5 280.8h1.8v17.3h-1.8zM618 280.8h1.8v1.3h-1.8zM625.5 280.8h1.8v11.3h-1.8zM627 280.8h1.8v23.3h-1.8zM628.5 280.8h1.8v38.3h-1.8zM630 280.8h1.8v49.3h-1.8zM631.5 280.8h1.8v63.3h-1.8zM633 280.8h1.8v60.3h-1.8zM634.5 280.8h1.8v49.3h-1.8zM636 280.8h1.8v36.3h-1.8zM637.5 280.8h1.8v24.3h-1.8zM639 280.8h1.8v14.3h-1.8zM643.5 280.8h1.8v16.3h-1.8zM645 305.8h1.8v56.3h-1.8zM646.5 332.8h1.8v34.3h-1.8zM648 341.8h1.8v27.3h-1.8zM649.5 341.8h1.8v27.3h-1.8zM651 331.8h1.8v25.3h-1.8zM652.5 324.8h1.8v29.3h-1.8zM654 312.8h1.8v40.3h-1.8zM655.5 299.8h1.8v51.3h-1.8zM657 301.8h1.8v55.3h-1.8zM658.5 306.8h1.8v49.3h-1.8zM660 321.8h1.8v33.3h-1.8zM661.5 338.8h1.8v19.3h-1.8zM663 355.8h1.8v29.3h-1.8zM664.5 366.8h1.8v18.3h-1.8zM666 370.8h1.8v14.3h-1.8zM667.5 371.8h1.8v13.3h-1.8zM669 372.8h1.8v12.3h-1.8zM670.5 373.8h1.8v11.3h-1.8zM672 372.8h1.8v12.3h-1.8zM673.5 370.8h1.8v14.3h-1.8zM675 373.8h1.8v11.3h-1.8zM676.5 354.8h1.8v30.3h-1.8zM678 341.8h1.8v18.3h-1.8zM679.5 334.8h1.8v14.3h-1.8zM681 344.8h1.8v32.3h-1.8zM682.5 355.8h1.8v29.3h-1.8zM706.5 364.8h1.8v20.3h-1.8zM708 319.8h1.8v46.3h-1.8zM709.5 317.8h1.8v29.3h-1.8zM711 318.8h1.8v25.3h-1.8zM712.5 316.8h1.8v28.3h-1.8zM714 305.8h1.8v39.3h-1.8zM715.5 290.8h1.8v52.3h-1.8zM717 285.8h1.8v48.3h-1.8zM718.5 280.8h1.8v35.3h-1.8zM771 280.8h1.8v6.3h-1.8zM771 323.8h1.8v22.3h-1.8zM772.5 280.8h1.8v12.3h-1.8zM772.5 316.8h1.8v38.3h-1.8zM774 330.8h1.8v6.3h-1.8zM822 351.8h1.8v33.3h-1.8zM823.5 348.8h1.8v36.3h-1.8z"/>
<path fill="#40b038" d="M564 379.8h1.8v5.3h-1.8zM565.5 318.8h1.8v66.3h-1.8zM567 280.8h1.8v32.3h-1.8zM571.5 280.8h1.8v10.3h-1.8zM573 280.8h1.8v58.3h-1.8zM574.5 296.8h1.8v32.3h-1.8zM574.5 333.8h1.8v18.3h-1.8zM576 342.8h1.8v42.3h-1.8zM577.5 347.8h1.8v37.3h-1.8zM579 346.8h1.8v38.3h-1.8zM580.5 356.8h1.8v28.3h-1.8zM582 371.8h1.8v13.3h-1.8zM583.5 368.8h1.8v16.3h-1.8zM585 349.8h1.8v35.3h-1.8zM586.5 341.8h1.8v43.3h-1.8zM588 280.8h1.8v94.3h-1.8zM589.5 280.8h1.8v23.3h-1.8zM589.5 313.8h1.8v50.3h-1.8zM591 280.8h1.8v14.3h-1.8zM592.5 280.8h1.8v18.3h-1.8zM592.5 330.8h1.8v9.3h-1.8zM594 280.8h1.8v104.3h-1.8zM595.5 347.8h1.8v37.3h-1.8zM613.5 353.8h1.8v31.3h-1.8zM615 332.8h1.8v49.3h-1.8zM616.5 297.8h1.8v29.3h-1.8zM618 281.8h1.8v33.3h-1.8zM619.5 280.8h1.8v34.3h-1.8zM621 280.8h1.8v34.3h-1.8zM622.5 280.8h1.8v35.3h-1.8zM624 280.8h1.8v39.3h-1.8zM625.5 291.8h1.8v41.3h-1.8zM627 303.8h1.8v46.3h-1.8zM628.5 318.8h1.8v47.3h-1.8zM630 329.8h1.8v41.3h-1.8zM631.5 343.8h1.8v27.3h-1.8zM633 340.8h1.8v25.3h-1.8zM634.5 329.8h1.8v23.3h-1.8zM636 316.8h1.8v28.3h-1.8zM637.5 304.8h1.8v24.3h-1.8zM639 294.8h1.8v27.3h-1.8zM640.5 280.8h1.8v38.3h-1.8zM642 280.8h1.8v41.3h-1.8zM642 348.8h1.8v15.3h-1.8zM643.5 296.8h1.8v75.3h-1.8zM645 361.8h1.8v19.3h-1.8zM646.5 366.8h1.8v18.3h-1.8zM648 368.8h1.8v16.3h-1.8zM649.5 368.8h1.8v16.3h-1.8zM651 356.8h1.8v28.3h-1.8zM652.5 353.8h1.8v31.3h-1.8zM654 352.8h1.8v32.3h-1.8zM655.5 350.8h1.8v34.3h-1.8zM657 356.8h1.8v28.3h-1.8zM658.5 355.8h1.8v29.3h-1.8zM660 354.8h1.8v30.3h-1.8zM661.5 357.8h1.8v27.3h-1.8zM678 359.8h1.8v25.3h-1.8zM679.5 348.8h1.8v36.3h-1.8zM681 376.8h1.8v8.3h-1.8zM708 365.8h1.8v19.3h-1.8zM709.5 346.8h1.8v38.3h-1.8zM711 343.8h1.8v41.3h-1.8zM712.5 344.8h1.8v40.3h-1.8zM714 344.8h1.8v40.3h-1.8zM715.5 342.8h1.8v42.3h-1.8zM717 333.8h1.8v51.3h-1.8zM718.5 315.8h1.8v31.3h-1.8zM720 280.8h1.8v48.3h-1.8zM771 286.8h1.8v37.3h-1.8zM771 345.8h1.8v39.3h-1.8zM772.5 292.8h1.8v24.3h-1.8zM772.5 354.8h1.8v30.3h-1.8zM774 280.8h1.8v50.3h-1.8zM774 336.8h1.8v48.3h-1.8zM775.5 280.8h1.8v104.3h-1.8zM777 356.8h1.8v3.3h-1.8zM801 280.8h1.8v104.3h-1.8zM802.5 280.8h1.8v104.3h-1.8zM804 280.8h1.8v90.3h-1.8zM819 354.8h1.8v30.3h-1.8zM820.5 327.8h1.8v57.3h-1.8zM822 321.8h1.8v30.3h-1.8zM823.5 319.8h1.8v29.3h-1.8zM825 316.8h1.8v68.3h-1.8zM826.5 352.8h1.8v25.3h-1.8z"/>
<path fill="#68c028" d="M567 312.8h1.8v58.3h-1.8zM568.5 280.8h1.8v47.3h-1.8zM570 280.8h1.8v51.3h-1.8zM571.5 290.8h1.8v53.3h-1.8zM573 338.8h1.8v46.3h-1.8zM574.5 351.8h1.8v33.3h-1.8zM588 374.8h1.8v10.3h-1.8zM589.5 303.8h1.8v10.3h-1.8zM589.5 363.8h1.8v21.3h-1.8zM591 294.8h1.8v90.3h-1.8zM592.5 298.8h1.8v32.3h-1.8zM592.5 339.8h1.8v45.3h-1.8zM615 381.8h1.8v3.3h-1.8zM616.5 326.8h1.8v54.3h-1.8zM618 314.8h1.8v51.3h-1.8zM619.5 314.8h1.8v23.3h-1.8zM621 314.8h1.8v17.3h-1.8zM622.5 315.8h1.8v56.3h-1.8zM624 319.8h1.8v60.3h-1.8zM625.5 332.8h1.8v52.3h-1.8zM627 349.8h1.8v35.3h-1.8zM628.5 365.8h1.8v19.3h-1.8zM630 370.8h1.8v14.3h-1.8zM631.5 370.8h1.8v14.3h-1.8zM633 365.8h1.8v19.3h-1.8zM634.5 352.8h1.8v32.3h-1.8zM636 344.8h1.8v40.3h-1.8zM637.5 328.8h1.8v56.3h-1.8zM639 321.8h1.8v63.3h-1.8zM640.5 318.8h1.8v66.3h-1.8zM642 321.8h1.8v27.3h-1.8zM642 363.8h1.8v21.3h-1.8zM643.5 371.8h1.8v13.3h-1.8zM645 380.8h1.8v4.3h-1.8zM718.5 346.8h1.8v38.3h-1.8zM720 328.8h1.8v27.3h-1.8zM720 375.8h1.8v9.3h-1.8zM721.5 323.8h1.8v16.3h-1.8zM732 280.8h1.8v13.3h-1.8zM733.5 280.8h1.8v18.3h-1.8zM769.5 280.8h1.8v104.3h-1.8zM777 280.8h1.8v76.3h-1.8zM777 359.8h1.8v25.3h-1.8zM778.5 280.8h1.8v104.3h-1.8zM780 327.8h1.8v57.3h-1.8zM781.5 329.8h1.8v55.3h-1.8zM783 280.8h1.8v11.3h-1.8zM783 326.8h1.8v58.3h-1.8zM784.5 280.8h1.8v19.3h-1.8zM784.5 323.8h1.8v61.3h-1.8zM786 280.8h1.8v22.3h-1.8zM786 321.8h1.8v47.3h-1.8zM787.5 280.8h1.8v23.3h-1.8zM787.5 328.8h1.8v5.3h-1.8zM799.5 336.8h1.8v48.3h-1.8zM804 370.8h1.8v14.3h-1.8zM805.5 280.8h1.8v104.3h-1.8zM816 369.8h1.8v15.3h-1.8zM817.5 344.8h1.8v40.3h-1.8zM819 322.8h1.8v32.3h-1.8zM820.5 311.8h1.8v16.3h-1.8zM822 300.8h1.8v21.3h-1.8zM823.5 296.8h1.8v23.3h-1.8zM825 289.8h1.8v27.3h-1.8zM826.5 292.8h1.8v60.3h-1.8zM826.5 377.8h1.8v7.3h-1.8zM828 345.8h1.8v39.3h-1.8z"/>
<path fill="#88d020" d="M567 370.8h1.8v14.3h-1.8zM568.5 327.8h1.8v57.3h-1.8zM570 331.8h1.8v53.3h-1.8zM571.5 343.8h1.8v41.3h-1.8zM616.5 380.8h1.8v4.3h-1.8zM618 365.8h1.8v19.3h-1.8zM619.5 337.8h1.8v47.3h-1.8zM621 331.8h1.8v53.3h-1.8zM622.5 371.8h1.8v13.3h-1.8zM624 379.8h1.8v5.3h-1.8zM720 355.8h1.8v20.3h-1.8zM721.5 280.8h1.8v43.3h-1.8zM721.5 339.8h1.8v45.3h-1.8zM723 280.8h1.8v8.3h-1.8zM723 307.8h1.8v46.3h-1.8zM724.5 312.8h1.8v34.3h-1.8zM726 280.8h1.8v62.3h-1.8zM727.5 280.8h1.8v64.3h-1.8zM729 280.8h1.8v78.3h-1.8zM729 359.8h1.8v25.3h-1.8zM730.5 280.8h1.8v104.3h-1.8zM732 293.8h1.8v91.3h-1.8zM733.5 298.8h1.8v86.3h-1.8zM735 280.8h1.8v56.3h-1.8zM735 378.8h1.8v6.3h-1.8zM736.5 280.8h1.8v41.3h-1.8zM738 280.8h1.8v38.3h-1.8zM739.5 280.8h1.8v38.3h-1.8zM741 280.8h1.8v36.3h-1.8zM742.5 280.8h1.8v32.3h-1.8zM744 280.8h1.8v32.3h-1.8zM745.5 280.8h1.8v38.3h-1.8zM747 280.8h1.8v51.3h-1.8zM748.5 280.8h1.8v74.3h-1.8zM750 280.8h1.8v70.3h-1.8zM751.5 280.8h1.8v58.3h-1.8zM753 280.8h1.8v43.3h-1.8zM754.5 280.8h1.8v30.3h-1.8zM768 280.8h1.8v104.3h-1.8zM780 280.8h1.8v47.3h-1.8zM781.5 280.8h1.8v49.3h-1.8zM783 291.8h1.8v35.3h-1.8zM784.5 299.8h1.8v24.3h-1.8zM786 302.8h1.8v19.3h-1.8zM786 368.8h1.8v16.3h-1.8zM787.5 303.8h1.8v25.3h-1.8zM787.5 333.8h1.8v51.3h-1.8zM789 280.8h1.8v104.3h-1.8zM790.5 280.8h1.8v48.3h-1.8zM790.5 363.8h1.8v21.3h-1.8zM796.5 379.8h1.8v5.3h-1.8zM798 346.8h1.8v38.3h-1.8zM799.5 280.8h1.8v56.3h-1.8zM807 280.8h1.8v104.3h-1.8zM808.5 280.8h1.8v22.3h-1.8zM808.5 308.8h1.8v76.3h-1.8zM810 316.8h1.8v68.3h-1.8zM811.5 319.8h1.8v65.3h-1.8zM813 320.8h1.8v64.3h-1.8zM814.5 322.8h1.8v62.3h-1.8zM816 322.8h1.8v47.3h-1.8zM817.5 318.8h1.8v26.3h-1.8zM819 280.8h1.8v42.3h-1.8zM820.5 280.8h1.8v31.3h-1.8zM822 280.8h1.8v20.3h-1.8zM823.5 280.8h1.8v16.3h-1.8zM825 280.8h1.8v9.3h-1.8zM826.5 280.8h1.8v12.3h-1.8zM828 280.8h1.8v65.3h-1.8zM829.5 285.8h1.8v33.3h-1.8zM829.5 337.8h1.8v47.3h-1.8zM831 280.8h1.8v44.3h-1.8zM831 339.8h1.8v45.3h-1.8zM832.5 280.8h1.8v44.3h-1.8zM832.5 343.8h1.8v41.3h-1.8zM834 280.8h1.8v38.3h-1.8zM834 367.8h1.8v17.3h-1.8zM835.5 280.8h1.8v33.3h-1.8zM837 280.8h1.8v29.3h-1.8zM856.5 280.8h1.8v35.3h-1.8zM856.5 337.8h1.8v44.3h-1.8zM858 280.8h1.8v6.3h-1.8zM858 339.8h1.8v45.3h-1.8zM859.5 350.8h1.8v34.3h-1.8zM861 357.8h1.8v27.3h-1.8zM871.5 280.8h1.8v104.3h-1.8zM873 324.8h1.8v21.3h-1.8zM873 365.8h1.8v19.3h-1.8z"/>
<path fill="#c4e81c" d="M723 288.8h1.8v19.3h-1.8zM723 353.8h1.8v31.3h-1.8zM724.5 280.8h1.8v32.3h-1.8zM724.5 346.8h1.8v38.3h-1.8zM726 342.8h1.8v42.3h-1.8zM727.5 344.8h1.8v40.3h-1.8zM729 358.8h1.8v1.3h-1.8zM735 336.8h1.8v42.3h-1.8zM736.5 321.8h1.8v63.3h-1.8zM738 318.8h1.8v66.3h-1.8zM739.5 318.8h1.8v66.3h-1.8zM741 316.8h1.8v68.3h-1.8zM742.5 312.8h1.8v20.3h-1.8zM742.5 333.8h1.8v51.3h-1.8zM744 312.8h1.8v72.3h-1.8zM745.5 318.8h1.8v66.3h-1.8zM747 331.8h1.8v53.3h-1.8zM748.5 354.8h1.8v30.3h-1.8zM750 350.8h1.8v34.3h-1.8zM751.5 338.8h1.8v46.3h-1.8zM753 323.8h1.8v46.3h-1.8zM754.5 310.8h1.8v22.3h-1.8zM754.5 335.8h1.8v29.3h-1.8zM756 280.8h1.8v43.3h-1.8zM756 356.8h1.8v5.3h-1.8zM757.5 280.8h1.8v37.3h-1.8zM757.5 357.8h1.8v2.3h-1.8zM759 280.8h1.8v32.3h-1.8zM759 354.8h1.8v8.3h-1.8zM760.5 280.8h1.8v38.3h-1.8zM760.5 349.8h1.8v17.3h-1.8zM762 280.8h1.8v42.3h-1.8zM762 345.8h1.8v24.3h-1.8zM763.5 280.8h1.8v45.3h-1.8zM763.5 342.8h1.8v34.3h-1.8zM765 280.8h1.8v50.3h-1.8zM765 335.8h1.8v49.3h-1.8zM766.5 280.8h1.8v104.3h-1.8zM790.5 328.8h1.8v35.3h-1.8zM792 280.8h1.8v104.3h-1.8zM793.5 357.8h1.8v27.3h-1.8zM795 366.8h1.8v18.3h-1.8zM796.5 345.8h1.8v34.3h-1.8zM798 280.8h1.8v66.3h-1.8zM808.5 302.8h1.8v6.3h-1.8zM810 280.8h1.8v36.3h-1.8zM811.5 280.8h1.8v39.3h-1.8zM813 280.8h1.8v40.3h-1.8zM814.5 280.8h1.8v42.3h-1.8zM816 280.8h1.8v42.3h-1.8zM817.5 280.8h1.8v38.3h-1.8zM829.5 280.8h1.8v5.3h-1.8zM829.5 318.8h1.8v19.3h-1.8zM831 324.8h1.8v15.3h-1.8zM832.5 324.8h1.8v19.3h-1.8zM834 318.8h1.8v49.3h-1.8zM835.5 313.8h1.8v71.3h-1.8zM837 309.8h1.8v21.3h-1.8zM837 349.8h1.8v35.3h-1.8zM838.5 280.8h1.8v29.3h-1.8zM838.5 361.8h1.8v23.3h-1.8zM847.5 351.8h1.8v33.3h-1.8zM849 335.8h1.8v49.3h-1.8zM850.5 280.8h1.8v104.3h-1.8zM852 280.8h1.8v104.3h-1.8zM853.5 280.8h1.8v104.3h-1.8zM855 280.8h1.8v104.3h-1.8zM856.5 315.8h1.8v22.3h-1.8zM856.5 381.8h1.8v3.3h-1.8zM858 286.8h1.8v53.3h-1.8zM859.5 280.8h1.8v70.3h-1.8zM861 280.8h1.8v77.3h-1.8zM862.5 280.8h1.8v104.3h-1.8zM864 280.8h1.8v104.3h-1.8zM865.5 280.8h1.8v104.3h-1.8zM867 280.8h1.8v104.3h-1.8zM868.5 280.8h1.8v104.3h-1.8zM870 280.8h1.8v104.3h-1.8zM873 280.8h1.8v44.3h-1.8zM873 345.8h1.8v20.3h-1.8zM874.5 280.8h1.8v104.3h-1.8zM876 324.8h1.8v60.3h-1.8z"/>
<path fill="#f8ff00" d="M742.5 332.8h1.8v1.3h-1.8zM753 369.8h1.8v15.3h-1.8zM754.5 332.8h1.8v3.3h-1.8zM754.5 364.8h1.8v20.3h-1.8zM756 323.8h1.8v33.3h-1.8zM756 361.8h1.8v23.3h-1.8zM757.5 317.8h1.8v40.3h-1.8zM757.5 359.8h1.8v25.3h-1.8zM759 312.8h1.8v42.3h-1.8zM759 362.8h1.8v22.3h-1.8zM760.5 318.8h1.8v31.3h-1.8zM760.5 366.8h1.8v18.3h-1.8zM762 322.8h1.8v23.3h-1.8zM762 369.8h1.8v15.3h-1.8zM763.5 325.8h1.8v17.3h-1.8zM763.5 376.8h1.8v8.3h-1.8zM765 330.8h1.8v5.3h-1.8zM793.5 280.8h1.8v77.3h-1.8zM795 280.8h1.8v86.3h-1.8zM796.5 280.8h1.8v65.3h-1.8zM837 330.8h1.8v19.3h-1.8zM838.5 309.8h1.8v52.3h-1.8zM840 280.8h1.8v33.3h-1.8zM840 338.8h1.8v46.3h-1.8zM841.5 349.8h1.8v35.3h-1.8zM843 355.8h1.8v29.3h-1.8zM844.5 353.8h1.8v31.3h-1.8zM846 341.8h1.8v43.3h-1.8zM847.5 285.8h1.8v66.3h-1.8zM849 280.8h1.8v55.3h-1.8zM876 280.8h1.8v44.3h-1.8zM877.5 280.8h1.8v104.3h-1.8zM879 280.8h1.8v24.3h-1.8zM879 308.8h1.8v76.3h-1.8zM880.5 280.8h1.8v23.3h-1.8zM880.5 310.8h1.8v74.3h-1.8z"/>
<path fill="#ffd000" d="M840 313.8h1.8v25.3h-1.8zM841.5 280.8h1.8v69.3h-1.8zM843 284.8h1.8v71.3h-1.8zM844.5 286.8h1.8v67.3h-1.8zM846 280.8h1.8v61.3h-1.8zM847.5 280.8h1.8v5.3h-1.8zM879 304.8h1.8v4.3h-1.8zM880.5 303.8h1.8v7.3h-1.8zM882 280.8h1.8v104.3h-1.8zM915 377.8h1.8v7.3h-1.8zM916.5 351.8h1.8v33.3h-1.8z"/>
<path fill="#ff9800" d="M843 280.8h1.8v4.3h-1.8zM844.5 280.8h1.8v6.3h-1.8zM883.5 376.8h1.8v8.3h-1.8zM913.5 372.8h1.8v12.3h-1.8zM915 346.8h1.8v31.3h-1.8zM916.5 329.8h1.8v22.3h-1.8z"/>
<path fill="#ff5010" d="M883.5 280.8h1.8v96.3h-1.8zM885 355.8h1.8v29.3h-1.8zM886.5 364.8h1.8v20.3h-1.8zM888 359.8h1.8v25.3h-1.8zM889.5 356.8h1.8v28.3h-1.8zM891 352.8h1.8v32.3h-1.8zM892.5 370.8h1.8v14.3h-1.8zM894 375.8h1.8v9.3h-1.8zM895.5 375.8h1.8v9.3h-1.8zM912 369.8h1.8v15.3h-1.8zM913.5 280.8h1.8v92.3h-1.8zM915 280.8h1.8v66.3h-1.8zM916.5 280.8h1.8v49.3h-1.8z"/>
<path fill="#ff1000" d="M885 280.8h1.8v75.3h-1.8zM886.5 280.8h1.8v23.3h-1.8zM886.5 308.8h1.8v56.3h-1.8zM888 280.8h1.8v23.3h-1.8zM888 308.8h1.8v51.3h-1.8zM889.5 316.8h1.8v40.3h-1.8zM891 323.8h1.8v29.3h-1.8zM892.5 335.8h1.8v35.3h-1.8zM894 343.8h1.8v32.3h-1.8zM895.5 345.8h1.8v30.3h-1.8zM897 349.8h1.8v35.3h-1.8zM898.5 365.8h1.8v19.3h-1.8zM900 376.8h1.8v8.3h-1.8zM901.5 377.8h1.8v7.3h-1.8zM903 380.8h1.8v4.3h-1.8zM904.5 380.8h1.8v4.3h-1.8zM906 379.8h1.8v5.3h-1.8zM907.5 377.8h1.8v7.3h-1.8zM909 357.8h1.8v27.3h-1.8zM910.5 353.8h1.8v31.3h-1.8zM912 280.8h1.8v89.3h-1.8z"/>
<path fill="#d80000" d="M886.5 303.8h1.8v5.3h-1.8zM888 303.8h1.8v5.3h-1.8zM889.5 280.8h1.8v36.3h-1.8zM891 280.8h1.8v43.3h-1.8zM892.5 280.8h1.8v55.3h-1.8zM894 280.8h1.8v63.3h-1.8zM895.5 280.8h1.8v65.3h-1.8zM897 280.8h1.8v69.3h-1.8zM898.5 280.8h1.8v85.3h-1.8zM900 319.8h1.8v57.3h-1.8zM901.5 341.8h1.8v36.3h-1.8zM903 355.8h1.8v25.3h-1.8zM904.5 360.8h1.8v20.3h-1.8zM906 351.8h1.8v28.3h-1.8zM907.5 333.8h1.8v44.3h-1.8zM909 280.8h1.8v36.3h-1.8zM909 335.8h1.8v22.3h-1.8zM910.5 280.8h1.8v73.3h-1.8z"/>
<path fill="#a80000" d="M900 280.8h1.8v39.3h-1.8zM901.5 280.8h1.8v61.3h-1.8zM903 280.8h1.8v75.3h-1.8zM904.5 280.8h1.8v80.3h-1.8zM906 280.8h1.8v71.3h-1.8zM907.5 280.8h1.8v53.3h-1.8zM909 316.8h1.8v19.3h-1.8z"/>
</g>
<rect x="468.3" y="117.8" width="3.7" height="17" fill="#fff"/>
<rect x="475.8" y="117.8" width="4.1" height="17" fill="#fff"/>
<rect x="899" y="117.8" width="4.2" height="17" fill="#fff"/>
<rect x="906.8" y="117.8" width="3.8" height="17" fill="#fff"/>
<path d="M906.3 282V349" stroke="#b08078" stroke-width="0.7" opacity="0.8"/>
<path d="M88.8 31.05L517.3 31.05M88.8 135.4L517.3 135.4M95.8 27.85L95.8 138.6M510.8 27.85L510.8 138.6M88.8 48.44L95.8 48.44M510.8 48.44L517.3 48.44M88.8 65.83L95.8 65.83M510.8 65.83L517.3 65.83M88.8 83.23L95.8 83.23M510.8 83.23L517.3 83.23M88.8 100.62L95.8 100.62M510.8 100.62L517.3 100.62M88.8 118.01L95.8 118.01M510.8 118.01L517.3 118.01M156 27.85L156 31.05M156 135.4L156 138.6M215.9 27.85L215.9 31.05M215.9 135.4L215.9 138.6M275.8 27.85L275.8 31.05M275.8 135.4L275.8 138.6M335.7 27.85L335.7 31.05M335.7 135.4L335.7 138.6M395.6 24.55L395.6 31.05M395.6 135.4L395.6 141.9M455.5 27.85L455.5 31.05M455.5 135.4L455.5 138.6M88.8 155.95L517.3 155.95M88.8 260L517.3 260M95.8 152.75L95.8 263.2M510.8 152.75L510.8 263.2M88.8 173.29L95.8 173.29M510.8 173.29L517.3 173.29M88.8 190.63L95.8 190.63M510.8 190.63L517.3 190.63M88.8 207.97L95.8 207.97M510.8 207.97L517.3 207.97M88.8 225.32L95.8 225.32M510.8 225.32L517.3 225.32M88.8 242.66L95.8 242.66M510.8 242.66L517.3 242.66M156 152.75L156 155.95M156 260L156 263.2M215.9 152.75L215.9 155.95M215.9 260L215.9 263.2M275.8 152.75L275.8 155.95M275.8 260L275.8 263.2M335.7 152.75L335.7 155.95M335.7 260L335.7 263.2M395.6 149.45L395.6 155.95M395.6 260L395.6 266.5M455.5 152.75L455.5 155.95M455.5 260L455.5 263.2M88.8 280.8L517.3 280.8M88.8 384.8L517.3 384.8M95.8 277.6L95.8 388M510.8 277.6L510.8 388M88.8 298.13L95.8 298.13M510.8 298.13L517.3 298.13M88.8 315.47L95.8 315.47M510.8 315.47L517.3 315.47M88.8 332.8L95.8 332.8M510.8 332.8L517.3 332.8M88.8 350.13L95.8 350.13M510.8 350.13L517.3 350.13M88.8 367.47L95.8 367.47M510.8 367.47L517.3 367.47M156 277.6L156 280.8M156 384.8L156 388M215.9 277.6L215.9 280.8M215.9 384.8L215.9 388M275.8 277.6L275.8 280.8M275.8 384.8L275.8 388M335.7 277.6L335.7 280.8M335.7 384.8L335.7 388M395.6 274.3L395.6 280.8M395.6 384.8L395.6 391.3M455.5 277.6L455.5 280.8M455.5 384.8L455.5 388M519.4 31.05L948.4 31.05M519.4 135.4L948.4 135.4M526.4 27.85L526.4 138.6M941.9 27.85L941.9 138.6M519.4 48.44L526.4 48.44M941.9 48.44L948.4 48.44M519.4 65.83L526.4 65.83M941.9 65.83L948.4 65.83M519.4 83.23L526.4 83.23M941.9 83.23L948.4 83.23M519.4 100.62L526.4 100.62M941.9 100.62L948.4 100.62M519.4 118.01L526.4 118.01M941.9 118.01L948.4 118.01M587.3 27.85L587.3 31.05M587.3 135.4L587.3 138.6M647.2 27.85L647.2 31.05M647.2 135.4L647.2 138.6M707.1 27.85L707.1 31.05M707.1 135.4L707.1 138.6M767 27.85L767 31.05M767 135.4L767 138.6M826.9 24.55L826.9 31.05M826.9 135.4L826.9 141.9M886.8 27.85L886.8 31.05M886.8 135.4L886.8 138.6M519.4 155.95L948.4 155.95M519.4 260L948.4 260M526.4 152.75L526.4 263.2M941.9 152.75L941.9 263.2M519.4 173.29L526.4 173.29M941.9 173.29L948.4 173.29M519.4 190.63L526.4 190.63M941.9 190.63L948.4 190.63M519.4 207.97L526.4 207.97M941.9 207.97L948.4 207.97M519.4 225.32L526.4 225.32M941.9 225.32L948.4 225.32M519.4 242.66L526.4 242.66M941.9 242.66L948.4 242.66M587.3 152.75L587.3 155.95M587.3 260L587.3 263.2M647.2 152.75L647.2 155.95M647.2 260L647.2 263.2M707.1 152.75L707.1 155.95M707.1 260L707.1 263.2M767 152.75L767 155.95M767 260L767 263.2M826.9 149.45L826.9 155.95M826.9 260L826.9 266.5M886.8 152.75L886.8 155.95M886.8 260L886.8 263.2M519.4 280.8L948.4 280.8M519.4 384.8L948.4 384.8M526.4 277.6L526.4 388M941.9 277.6L941.9 388M519.4 298.13L526.4 298.13M941.9 298.13L948.4 298.13M519.4 315.47L526.4 315.47M941.9 315.47L948.4 315.47M519.4 332.8L526.4 332.8M941.9 332.8L948.4 332.8M519.4 350.13L526.4 350.13M941.9 350.13L948.4 350.13M519.4 367.47L526.4 367.47M941.9 367.47L948.4 367.47M587.3 277.6L587.3 280.8M587.3 384.8L587.3 388M647.2 277.6L647.2 280.8M647.2 384.8L647.2 388M707.1 277.6L707.1 280.8M707.1 384.8L707.1 388M767 277.6L767 280.8M767 384.8L767 388M826.9 274.3L826.9 280.8M826.9 384.8L826.9 391.3M886.8 277.6L886.8 280.8M886.8 384.8L886.8 388" stroke="#4a4a4a" stroke-width="1.5" fill="none"/>
<text x="49.9" y="39.25" textLength="27" lengthAdjust="spacingAndGlyphs" font-size="22.2" font-family="'DejaVu Serif','Liberation Serif',serif" fill="#111" stroke="#111" stroke-width="0.4">40</text>
<text x="49.9" y="74.03" textLength="27" lengthAdjust="spacingAndGlyphs" font-size="22.2" font-family="'DejaVu Serif','Liberation Serif',serif" fill="#111" stroke="#111" stroke-width="0.4">60</text>
<text x="49.9" y="108.82" textLength="27" lengthAdjust="spacingAndGlyphs" font-size="22.2" font-family="'DejaVu Serif','Liberation Serif',serif" fill="#111" stroke="#111" stroke-width="0.4">80</text>
<text x="36.3" y="143.6" textLength="40.6" lengthAdjust="spacingAndGlyphs" font-size="22.2" font-family="'DejaVu Serif','Liberation Serif',serif" fill="#111" stroke="#111" stroke-width="0.4">100</text>
<text transform="translate(34.2 82.23) rotate(-90)" x="-35.2" textLength="70.4" lengthAdjust="spacingAndGlyphs" font-size="22.6" font-family="'DejaVu Serif','Liberation Serif',serif" fill="#111" stroke="#111" stroke-width="0.4">Depth</text>
<text x="49.9" y="164.15" textLength="27" lengthAdjust="spacingAndGlyphs" font-size="22.2" font-family="'DejaVu Serif','Liberation Serif',serif" fill="#111" stroke="#111" stroke-width="0.4">40</text>
<text x="49.9" y="198.83" textLength="27" lengthAdjust="spacingAndGlyphs" font-size="22.2" font-family="'DejaVu Serif','Liberation Serif',serif" fill="#111" stroke="#111" stroke-width="0.4">60</text>
<text x="49.9" y="233.52" textLength="27" lengthAdjust="spacingAndGlyphs" font-size="22.2" font-family="'DejaVu Serif','Liberation Serif',serif" fill="#111" stroke="#111" stroke-width="0.4">80</text>
<text x="36.3" y="268.2" textLength="40.6" lengthAdjust="spacingAndGlyphs" font-size="22.2" font-family="'DejaVu Serif','Liberation Serif',serif" fill="#111" stroke="#111" stroke-width="0.4">100</text>
<text transform="translate(34.2 206.97) rotate(-90)" x="-35.2" textLength="70.4" lengthAdjust="spacingAndGlyphs" font-size="22.6" font-family="'DejaVu Serif','Liberation Serif',serif" fill="#111" stroke="#111" stroke-width="0.4">Depth</text>
<text x="49.9" y="289" textLength="27" lengthAdjust="spacingAndGlyphs" font-size="22.2" font-family="'DejaVu Serif','Liberation Serif',serif" fill="#111" stroke="#111" stroke-width="0.4">40</text>
<text x="49.9" y="323.67" textLength="27" lengthAdjust="spacingAndGlyphs" font-size="22.2" font-family="'DejaVu Serif','Liberation Serif',serif" fill="#111" stroke="#111" stroke-width="0.4">60</text>
<text x="49.9" y="358.33" textLength="27" lengthAdjust="spacingAndGlyphs" font-size="22.2" font-family="'DejaVu Serif','Liberation Serif',serif" fill="#111" stroke="#111" stroke-width="0.4">80</text>
<text x="36.3" y="393" textLength="40.6" lengthAdjust="spacingAndGlyphs" font-size="22.2" font-family="'DejaVu Serif','Liberation Serif',serif" fill="#111" stroke="#111" stroke-width="0.4">100</text>
<text transform="translate(34.2 331.8) rotate(-90)" x="-35.2" textLength="70.4" lengthAdjust="spacingAndGlyphs" font-size="22.6" font-family="'DejaVu Serif','Liberation Serif',serif" fill="#111" stroke="#111" stroke-width="0.4">Depth</text>
<text transform="translate(126 406.5) scale(0.9 1)" text-anchor="middle" font-size="19.4" font-family="'DejaVu Serif','Liberation Serif',serif" fill="#111" stroke="#111" stroke-width="0.8">A</text>
<text transform="translate(185.6 406.5) scale(0.9 1)" text-anchor="middle" font-size="19.4" font-family="'DejaVu Serif','Liberation Serif',serif" fill="#111" stroke="#111" stroke-width="0.8">S</text>
<text transform="translate(245.2 406.5) scale(0.9 1)" text-anchor="middle" font-size="19.4" font-family="'DejaVu Serif','Liberation Serif',serif" fill="#111" stroke="#111" stroke-width="0.8">O</text>
<text transform="translate(304.8 406.5) scale(0.9 1)" text-anchor="middle" font-size="19.4" font-family="'DejaVu Serif','Liberation Serif',serif" fill="#111" stroke="#111" stroke-width="0.8">N</text>
<text transform="translate(364.4 406.5) scale(0.9 1)" text-anchor="middle" font-size="19.4" font-family="'DejaVu Serif','Liberation Serif',serif" fill="#111" stroke="#111" stroke-width="0.8">D</text>
<text transform="translate(424 403.6) scale(0.9 0.8)" text-anchor="middle" font-size="19.4" font-family="'DejaVu Serif','Liberation Serif',serif" fill="#111" stroke="#111" stroke-width="0.8">J</text>
<text transform="translate(483.6 406.5) scale(0.9 1)" text-anchor="middle" font-size="19.4" font-family="'DejaVu Serif','Liberation Serif',serif" fill="#111" stroke="#111" stroke-width="0.8">F</text>
<text transform="translate(556.8 406.5) scale(0.9 1)" text-anchor="middle" font-size="19.4" font-family="'DejaVu Serif','Liberation Serif',serif" fill="#111" stroke="#111" stroke-width="0.8">A</text>
<text transform="translate(616.4 406.5) scale(0.9 1)" text-anchor="middle" font-size="19.4" font-family="'DejaVu Serif','Liberation Serif',serif" fill="#111" stroke="#111" stroke-width="0.8">S</text>
<text transform="translate(676 406.5) scale(0.9 1)" text-anchor="middle" font-size="19.4" font-family="'DejaVu Serif','Liberation Serif',serif" fill="#111" stroke="#111" stroke-width="0.8">O</text>
<text transform="translate(735.6 406.5) scale(0.9 1)" text-anchor="middle" font-size="19.4" font-family="'DejaVu Serif','Liberation Serif',serif" fill="#111" stroke="#111" stroke-width="0.8">N</text>
<text transform="translate(795.2 406.5) scale(0.9 1)" text-anchor="middle" font-size="19.4" font-family="'DejaVu Serif','Liberation Serif',serif" fill="#111" stroke="#111" stroke-width="0.8">D</text>
<text transform="translate(854.8 403.6) scale(0.9 0.8)" text-anchor="middle" font-size="19.4" font-family="'DejaVu Serif','Liberation Serif',serif" fill="#111" stroke="#111" stroke-width="0.8">J</text>
<text transform="translate(914.4 406.5) scale(0.9 1)" text-anchor="middle" font-size="19.4" font-family="'DejaVu Serif','Liberation Serif',serif" fill="#111" stroke="#111" stroke-width="0.8">F</text>
<rect x="139.5" y="442.4" width="19.46" height="14.3" fill="#d400ff"/>
<rect x="158.96" y="442.4" width="19.46" height="14.3" fill="#7a28f0"/>
<rect x="178.43" y="442.4" width="19.46" height="14.3" fill="#4040f5"/>
<rect x="197.89" y="442.4" width="19.46" height="14.3" fill="#3058c8"/>
<rect x="217.36" y="442.4" width="19.46" height="14.3" fill="#207898"/>
<rect x="236.82" y="442.4" width="19.46" height="14.3" fill="#0f9058"/>
<rect x="256.29" y="442.4" width="19.46" height="14.3" fill="#28a040"/>
<rect x="275.75" y="442.4" width="19.46" height="14.3" fill="#50b430"/>
<rect x="295.22" y="442.4" width="19.46" height="14.3" fill="#80cc20"/>
<rect x="314.68" y="442.4" width="19.46" height="14.3" fill="#b0dc20"/>
<rect x="334.15" y="442.4" width="19.46" height="14.3" fill="#eaf80c"/>
<rect x="353.61" y="442.4" width="19.46" height="14.3" fill="#ffe400"/>
<rect x="373.08" y="442.4" width="19.46" height="14.3" fill="#ffa000"/>
<rect x="392.54" y="442.4" width="19.46" height="14.3" fill="#ff6000"/>
<rect x="412.01" y="442.4" width="19.46" height="14.3" fill="#ff2010"/>
<rect x="431.47" y="442.4" width="19.46" height="14.3" fill="#dc0000"/>
<rect x="450.94" y="442.4" width="19.46" height="14.3" fill="#a00008"/>
<path d="M158.96 442.4V456.7M178.43 442.4V456.7M197.89 442.4V456.7M217.36 442.4V456.7M236.82 442.4V456.7M256.29 442.4V456.7M275.75 442.4V456.7M295.22 442.4V456.7M314.68 442.4V456.7M334.15 442.4V456.7M353.61 442.4V456.7M373.08 442.4V456.7M392.54 442.4V456.7M412.01 442.4V456.7M431.47 442.4V456.7M450.94 442.4V456.7" stroke="#181818" stroke-width="1" opacity="0.9" fill="none"/>
<rect x="139.5" y="442.4" width="330.9" height="14.3" fill="none" stroke="#181818" stroke-width="1" opacity="0.9"/>
<text x="118.2" y="475.3" textLength="38.4" lengthAdjust="spacingAndGlyphs" font-size="16.3" font-family="'DejaVu Serif','Liberation Serif',serif" fill="#111" stroke="#111" stroke-width="0.55">−1.0</text>
<text x="176.8" y="475.3" textLength="38.4" lengthAdjust="spacingAndGlyphs" font-size="16.3" font-family="'DejaVu Serif','Liberation Serif',serif" fill="#111" stroke="#111" stroke-width="0.55">−0.7</text>
<text x="235" y="475.3" textLength="38.4" lengthAdjust="spacingAndGlyphs" font-size="16.3" font-family="'DejaVu Serif','Liberation Serif',serif" fill="#111" stroke="#111" stroke-width="0.55">−0.4</text>
<text x="292.8" y="475.3" textLength="38.4" lengthAdjust="spacingAndGlyphs" font-size="16.3" font-family="'DejaVu Serif','Liberation Serif',serif" fill="#111" stroke="#111" stroke-width="0.55">−0.1</text>
<text x="357.5" y="475.3" textLength="25" lengthAdjust="spacingAndGlyphs" font-size="16.3" font-family="'DejaVu Serif','Liberation Serif',serif" fill="#111" stroke="#111" stroke-width="0.55">0.2</text>
<text x="415.7" y="475.3" textLength="25" lengthAdjust="spacingAndGlyphs" font-size="16.3" font-family="'DejaVu Serif','Liberation Serif',serif" fill="#111" stroke="#111" stroke-width="0.55">0.5</text>
<rect x="570.1" y="442.4" width="18.4" height="14.3" fill="#e000ff"/>
<rect x="588.5" y="442.4" width="18.4" height="14.3" fill="#8020f0"/>
<rect x="606.9" y="442.4" width="18.4" height="14.3" fill="#4838f8"/>
<rect x="625.3" y="442.4" width="18.4" height="14.3" fill="#3850d0"/>
<rect x="643.7" y="442.4" width="18.4" height="14.3" fill="#2078a0"/>
<rect x="662.1" y="442.4" width="18.4" height="14.3" fill="#109060"/>
<rect x="680.5" y="442.4" width="18.4" height="14.3" fill="#18a048"/>
<rect x="698.9" y="442.4" width="18.4" height="14.3" fill="#40b038"/>
<rect x="717.3" y="442.4" width="18.4" height="14.3" fill="#68c028"/>
<rect x="735.7" y="442.4" width="18.4" height="14.3" fill="#88d020"/>
<rect x="754.1" y="442.4" width="18.4" height="14.3" fill="#c4e81c"/>
<rect x="772.5" y="442.4" width="18.4" height="14.3" fill="#f8ff00"/>
<rect x="790.9" y="442.4" width="18.4" height="14.3" fill="#ffd000"/>
<rect x="809.3" y="442.4" width="18.4" height="14.3" fill="#ff9800"/>
<rect x="827.7" y="442.4" width="18.4" height="14.3" fill="#ff5010"/>
<rect x="846.1" y="442.4" width="18.4" height="14.3" fill="#ff1000"/>
<rect x="864.5" y="442.4" width="18.4" height="14.3" fill="#d80000"/>
<rect x="882.9" y="442.4" width="18.4" height="14.3" fill="#a80000"/>
<path d="M588.5 442.4V456.7M606.9 442.4V456.7M625.3 442.4V456.7M643.7 442.4V456.7M662.1 442.4V456.7M680.5 442.4V456.7M698.9 442.4V456.7M717.3 442.4V456.7M735.7 442.4V456.7M754.1 442.4V456.7M772.5 442.4V456.7M790.9 442.4V456.7M809.3 442.4V456.7M827.7 442.4V456.7M846.1 442.4V456.7M864.5 442.4V456.7M882.9 442.4V456.7" stroke="#181818" stroke-width="1" opacity="0.9" fill="none"/>
<rect x="570.1" y="442.4" width="331.2" height="14.3" fill="none" stroke="#181818" stroke-width="1" opacity="0.9"/>
<text x="543.5" y="475.3" textLength="49.2" lengthAdjust="spacingAndGlyphs" font-size="16.3" font-family="'DejaVu Serif','Liberation Serif',serif" fill="#111" stroke="#111" stroke-width="0.55">−0.45</text>
<text x="598.5" y="475.3" textLength="48.8" lengthAdjust="spacingAndGlyphs" font-size="16.3" font-family="'DejaVu Serif','Liberation Serif',serif" fill="#111" stroke="#111" stroke-width="0.55">−0.30</text>
<text x="654" y="475.3" textLength="48.2" lengthAdjust="spacingAndGlyphs" font-size="16.3" font-family="'DejaVu Serif','Liberation Serif',serif" fill="#111" stroke="#111" stroke-width="0.55">−0.15</text>
<text x="714.5" y="475.3" textLength="35.5" lengthAdjust="spacingAndGlyphs" font-size="16.3" font-family="'DejaVu Serif','Liberation Serif',serif" fill="#111" stroke="#111" stroke-width="0.55">0.00</text>
<text x="770" y="475.3" textLength="35" lengthAdjust="spacingAndGlyphs" font-size="16.3" font-family="'DejaVu Serif','Liberation Serif',serif" fill="#111" stroke="#111" stroke-width="0.55">0.15</text>
<text x="825" y="475.3" textLength="35" lengthAdjust="spacingAndGlyphs" font-size="16.3" font-family="'DejaVu Serif','Liberation Serif',serif" fill="#111" stroke="#111" stroke-width="0.55">0.30</text>
<text x="880" y="475.3" textLength="35.5" lengthAdjust="spacingAndGlyphs" font-size="16.3" font-family="'DejaVu Serif','Liberation Serif',serif" fill="#111" stroke="#111" stroke-width="0.55">0.45</text>
<text x="-0.5" y="24" font-size="28.9" font-weight="bold" font-family="'Liberation Sans',sans-serif" fill="#000">A</text>
<text x="966.5" y="24" font-size="28.9" font-weight="bold" font-family="'Liberation Sans',sans-serif" fill="#000">B</text>
<path d="M1039 28.7L1528.2 28.7M1039 388.8L1528.2 388.8M1045 28.7L1045 388.8M1277.8 28.7L1277.8 388.8M1289.5 28.7L1289.5 388.8M1522.2 28.7L1522.2 388.8M1039 58.71L1045 58.71M1277.8 58.71L1289.5 58.71M1522.2 58.71L1528.2 58.71M1039 88.72L1045 88.72M1277.8 88.72L1289.5 88.72M1522.2 88.72L1528.2 88.72M1039 118.73L1045 118.73M1277.8 118.73L1289.5 118.73M1522.2 118.73L1528.2 118.73M1039 148.73L1045 148.73M1277.8 148.73L1289.5 148.73M1522.2 148.73L1528.2 148.73M1039 178.74L1045 178.74M1277.8 178.74L1289.5 178.74M1522.2 178.74L1528.2 178.74M1039 208.75L1045 208.75M1277.8 208.75L1289.5 208.75M1522.2 208.75L1528.2 208.75M1039 238.76L1045 238.76M1277.8 238.76L1289.5 238.76M1522.2 238.76L1528.2 238.76M1039 268.77L1045 268.77M1277.8 268.77L1289.5 268.77M1522.2 268.77L1528.2 268.77M1039 298.77L1045 298.77M1277.8 298.77L1289.5 298.77M1522.2 298.77L1528.2 298.77M1039 328.78L1045 328.78M1277.8 328.78L1289.5 328.78M1522.2 328.78L1528.2 328.78M1039 358.79L1045 358.79M1277.8 358.79L1289.5 358.79M1522.2 358.79L1528.2 358.79M1067 22.7L1067 28.7M1067 388.8L1067 394.8M1109.16 22.7L1109.16 28.7M1109.16 388.8L1109.16 394.8M1151.32 22.7L1151.32 28.7M1151.32 388.8L1151.32 394.8M1193.48 22.7L1193.48 28.7M1193.48 388.8L1193.48 394.8M1235.64 22.7L1235.64 28.7M1235.64 388.8L1235.64 394.8M1277.8 22.7L1277.8 28.7M1277.8 388.8L1277.8 394.8M1307.4 22.7L1307.4 28.7M1307.4 388.8L1307.4 394.8M1343.2 22.7L1343.2 28.7M1343.2 388.8L1343.2 394.8M1379 22.7L1379 28.7M1379 388.8L1379 394.8M1414.8 22.7L1414.8 28.7M1414.8 388.8L1414.8 394.8M1450.6 22.7L1450.6 28.7M1450.6 388.8L1450.6 394.8M1486.4 22.7L1486.4 28.7M1486.4 388.8L1486.4 394.8M1522.2 22.7L1522.2 28.7M1522.2 388.8L1522.2 394.8" stroke="#686868" stroke-width="1.1" fill="none"/>
<polyline points="1207.1,28.7 1239.9,88.7 1229.1,148.7 1175.5,208.7 1126.5,268.7 1101.3,328.7 1066,388.7" fill="none" stroke="#000" stroke-width="2.3" stroke-linejoin="round"/>
<polyline points="1248.9,28.7 1265.3,88.7 1237.2,148.7 1169.7,208.7 1113.5,268.7 1086.5,328.7 1058.5,388.7" fill="none" stroke="#ff0000" stroke-width="2.3" stroke-linejoin="round"/>
<polyline points="1454.7,28.7 1399.3,88.7 1367.7,148.7 1338.2,208.7 1335.5,268.7 1313.3,328.7 1302.6,388.7" fill="none" stroke="#000" stroke-width="2.3" stroke-linejoin="round"/>
<polyline points="1519.5,28.7 1461.3,88.7 1417.6,148.7 1384,208.7 1361.5,268.7 1323.6,328.7 1306.4,388.7" fill="none" stroke="#ff0000" stroke-width="2.3" stroke-linejoin="round"/>
<text x="1028.6" y="35.3" text-anchor="end" font-size="18" letter-spacing="0.6" font-family="'DejaVu Serif','Liberation Serif',serif" fill="#222">40</text>
<text x="1028.6" y="95.3" text-anchor="end" font-size="18" letter-spacing="0.6" font-family="'DejaVu Serif','Liberation Serif',serif" fill="#222">50</text>
<text x="1028.6" y="155.3" text-anchor="end" font-size="18" letter-spacing="0.6" font-family="'DejaVu Serif','Liberation Serif',serif" fill="#222">60</text>
<text x="1028.6" y="215.3" text-anchor="end" font-size="18" letter-spacing="0.6" font-family="'DejaVu Serif','Liberation Serif',serif" fill="#222">70</text>
<text x="1028.6" y="275.3" text-anchor="end" font-size="18" letter-spacing="0.6" font-family="'DejaVu Serif','Liberation Serif',serif" fill="#222">80</text>
<text x="1028.6" y="335.3" text-anchor="end" font-size="18" letter-spacing="0.6" font-family="'DejaVu Serif','Liberation Serif',serif" fill="#222">90</text>
<text x="1028.6" y="395.3" text-anchor="end" font-size="18" letter-spacing="0.6" font-family="'DejaVu Serif','Liberation Serif',serif" fill="#222">100</text>
<text transform="translate(993 208.5) rotate(-90)" text-anchor="middle" font-size="18" letter-spacing="1" font-family="'DejaVu Serif','Liberation Serif',serif" fill="#222">Depth</text>
<text x="1045.4" y="419.8" textLength="44.2" lengthAdjust="spacingAndGlyphs" font-size="17.6" letter-spacing="0.5" font-family="'DejaVu Serif','Liberation Serif',serif" fill="#222">0.30</text>
<text x="1129.7" y="419.8" textLength="44.2" lengthAdjust="spacingAndGlyphs" font-size="17.6" letter-spacing="0.5" font-family="'DejaVu Serif','Liberation Serif',serif" fill="#222">0.34</text>
<text x="1214.1" y="419.8" textLength="44.2" lengthAdjust="spacingAndGlyphs" font-size="17.6" letter-spacing="0.5" font-family="'DejaVu Serif','Liberation Serif',serif" fill="#222">0.38</text>
<text x="1285.8" y="419.8" textLength="44.2" lengthAdjust="spacingAndGlyphs" font-size="17.6" letter-spacing="0.5" font-family="'DejaVu Serif','Liberation Serif',serif" fill="#222">0.14</text>
<text x="1357.4" y="419.8" textLength="44.2" lengthAdjust="spacingAndGlyphs" font-size="17.6" letter-spacing="0.5" font-family="'DejaVu Serif','Liberation Serif',serif" fill="#222">0.16</text>
<text x="1429" y="419.8" textLength="44.2" lengthAdjust="spacingAndGlyphs" font-size="17.6" letter-spacing="0.5" font-family="'DejaVu Serif','Liberation Serif',serif" fill="#222">0.18</text>
<text x="1500.6" y="419.8" textLength="44.2" lengthAdjust="spacingAndGlyphs" font-size="17.6" letter-spacing="0.5" font-family="'DejaVu Serif','Liberation Serif',serif" fill="#222">0.20</text>
<text x="1255.5" y="437.3" textLength="50" lengthAdjust="spacingAndGlyphs" font-size="17.6" letter-spacing="3" font-family="'DejaVu Serif','Liberation Serif',serif" fill="#222">m/s</text>
</svg>
</body></html>
